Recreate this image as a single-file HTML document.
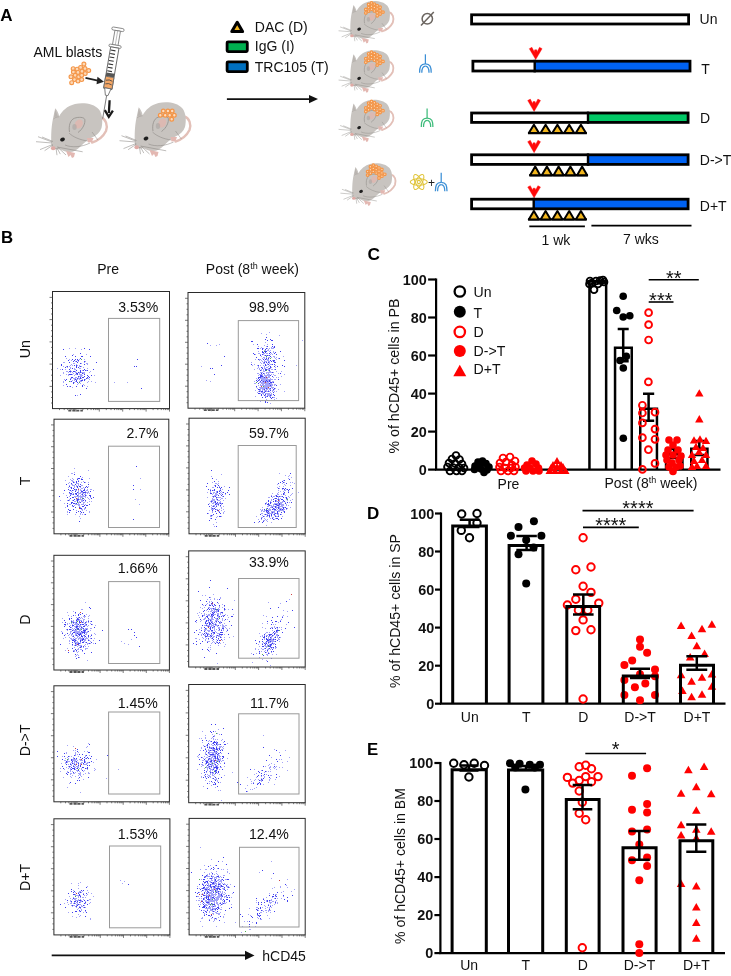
<!DOCTYPE html><html><head><meta charset="utf-8"><style>html,body{margin:0;padding:0;background:#fff;width:731px;height:976px;overflow:hidden}svg{display:block;will-change:transform}svg,svg text{font-family:"Liberation Sans",sans-serif}</style></head><body><svg width="731" height="976" viewBox="0 0 731 976" font-family="Liberation Sans, sans-serif">
<defs><symbol id="mouse" viewBox="0 0 731 976" overflow="visible">
<g>
 <path d="M100.5,117.5 C106,119 108,125 106,131 C103,137 97,141 92,142.5" fill="none" stroke="#e3c0b8" stroke-width="2.4" stroke-linecap="round"/>
 <path d="M53,118.5 L55.2,108.3 C57,110 58.5,113 59.2,116.3 C62,111 67,106 75,104 C84,102.3 94,103.8 99,109.5 C102.5,114 103,122 101.5,128 C100,132 97,135.5 92,137.5 C88,139.5 85,142 81,146 C77,150 73,152.5 68,152 C64,151.5 62,150 60,149.3 C56,149.5 53,149.5 51.8,147.5 C50.8,140 51,128 53,118.5 Z" fill="#c8c4c0"/>
 <path d="M55.2,109.5 L54.2,117 L57.8,116.5 Z" fill="#b9b4b0"/>
 <path d="M53.5,119 C55,117.5 57,117 59,116.8" fill="none" stroke="#9a9590" stroke-width="0.5"/>
 <path d="M69.5,132 C68.5,126 70,120 74.5,118.2 C78.5,116.8 84,117 84.8,119.5 C85.5,123 83,129 78,132.5" fill="#c8c4c0" stroke="#8c8884" stroke-width="0.7"/>
 <ellipse cx="78.8" cy="124" rx="3.8" ry="4.8" fill="#dcb9b2" transform="rotate(30 78.8 124)"/>
 <ellipse cx="74.5" cy="127" rx="2.2" ry="3" fill="#aaa5a1" opacity="0.6"/>
 <path d="M69,133 C73,137 80,140 88,141" fill="none" stroke="#8c8884" stroke-width="0.55"/>
 <path d="M65,145 C72,148 82,147 90,143" fill="none" stroke="#8c8884" stroke-width="0.55"/>
 <path d="M92,132 C95,136 97,139 98,140" fill="none" stroke="#8c8884" stroke-width="0.5"/>
 <ellipse cx="62.5" cy="139.5" rx="2.5" ry="1.9" fill="#1e1e1e" transform="rotate(-25 62.5 139.5)"/>
 <ellipse cx="53.2" cy="148.2" rx="2.3" ry="2" fill="#dfaaa5"/>
 <path d="M66,151 l2.5,6 l2,-2 l1.5,3 l2,-1 l1,-4 Z" fill="#e3b8b2"/>
 <path d="M87,138 l1,4.5 l4,-0.5 l1.5,-4 Z" fill="#e3b8b2"/>
 <g stroke="#8a8682" stroke-width="0.55" fill="none">
  <path d="M52,143 L36,141.7"/><path d="M52,142 L38,136.7"/><path d="M52.5,144.5 L40,149.6"/><path d="M53,145 L44.6,150.7"/><path d="M53,141.5 L42,137"/>
  <path d="M57,147 L82.7,151.8"/><path d="M56,148 L57,155.2"/><path d="M57,148 L60.3,154.1"/><path d="M58,147.5 L66,155"/>
 </g>
</g></symbol>
<marker id="ah" viewBox="0 0 10 10" refX="9" refY="5" markerWidth="10" markerHeight="10" markerUnits="userSpaceOnUse" orient="auto"><path d="M0,0 L10,5 L0,10 Z" fill="#111"/></marker>
</defs>
<rect width="731" height="976" fill="#fff"/>
<text x="0.2" y="20.6" font-size="17" text-anchor="start" font-weight="bold" fill="#000" >A</text>
<text x="33.5" y="56.7" font-size="14" text-anchor="start" font-weight="normal" fill="#111" >AML blasts</text>
<use href="#mouse" x="0" y="0"/>
<use href="#mouse" x="83.5" y="-1"/>
<circle cx="163.3" cy="111" r="1.85" fill="#fcdcc0" stroke="#f59546" stroke-width="1.3"/><circle cx="167.9" cy="111" r="1.85" fill="#fcdcc0" stroke="#f59546" stroke-width="1.3"/><circle cx="172.2" cy="111" r="1.85" fill="#fcdcc0" stroke="#f59546" stroke-width="1.3"/><circle cx="160.3" cy="115.3" r="1.85" fill="#fcdcc0" stroke="#f59546" stroke-width="1.3"/><circle cx="165.2" cy="115.3" r="1.85" fill="#fcdcc0" stroke="#f59546" stroke-width="1.3"/><circle cx="169.7" cy="115.3" r="1.85" fill="#fcdcc0" stroke="#f59546" stroke-width="1.3"/><circle cx="174.3" cy="115.3" r="1.85" fill="#fcdcc0" stroke="#f59546" stroke-width="1.3"/><circle cx="171.7" cy="119.2" r="1.85" fill="#fcdcc0" stroke="#f59546" stroke-width="1.3"/>
<circle cx="83.9" cy="64.1" r="1.95" fill="#fcd8b6" stroke="#f4974a" stroke-width="1.15"/><circle cx="73.2" cy="68.7" r="1.95" fill="#fcd8b6" stroke="#f4974a" stroke-width="1.15"/><circle cx="77.1" cy="69.2" r="1.95" fill="#fcd8b6" stroke="#f4974a" stroke-width="1.15"/><circle cx="80.6" cy="67.4" r="1.95" fill="#fcd8b6" stroke="#f4974a" stroke-width="1.15"/><circle cx="85" cy="68.5" r="1.95" fill="#fcd8b6" stroke="#f4974a" stroke-width="1.15"/><circle cx="88.7" cy="70.5" r="1.95" fill="#fcd8b6" stroke="#f4974a" stroke-width="1.15"/><circle cx="73.4" cy="72" r="1.95" fill="#fcd8b6" stroke="#f4974a" stroke-width="1.15"/><circle cx="78" cy="72.4" r="1.95" fill="#fcd8b6" stroke="#f4974a" stroke-width="1.15"/><circle cx="82" cy="71.4" r="1.95" fill="#fcd8b6" stroke="#f4974a" stroke-width="1.15"/><circle cx="85.2" cy="73.5" r="1.95" fill="#fcd8b6" stroke="#f4974a" stroke-width="1.15"/><circle cx="71" cy="76.8" r="1.95" fill="#fcd8b6" stroke="#f4974a" stroke-width="1.15"/><circle cx="75.2" cy="75.3" r="1.95" fill="#fcd8b6" stroke="#f4974a" stroke-width="1.15"/><circle cx="78.7" cy="76.8" r="1.95" fill="#fcd8b6" stroke="#f4974a" stroke-width="1.15"/><circle cx="81.7" cy="75.3" r="1.95" fill="#fcd8b6" stroke="#f4974a" stroke-width="1.15"/><circle cx="74.5" cy="79.5" r="1.95" fill="#fcd8b6" stroke="#f4974a" stroke-width="1.15"/><circle cx="78" cy="81" r="1.95" fill="#fcd8b6" stroke="#f4974a" stroke-width="1.15"/><circle cx="81.7" cy="79.5" r="1.95" fill="#fcd8b6" stroke="#f4974a" stroke-width="1.15"/><circle cx="71.7" cy="82.7" r="1.95" fill="#fcd8b6" stroke="#f4974a" stroke-width="1.15"/>
<g transform="translate(118,29) rotate(9.7)">
 <rect x="-6.2" y="-1.2" width="12.4" height="3" rx="1.5" fill="#fff" stroke="#777" stroke-width="0.8"/>
 <rect x="-2.8" y="1.8" width="5.6" height="14.6" fill="#fff" stroke="#777" stroke-width="0.8"/>
 <line x1="0" y1="2" x2="0" y2="16.4" stroke="#999" stroke-width="0.6"/>
 <rect x="-6.2" y="16.2" width="12.4" height="2.6" rx="1.3" fill="#fff" stroke="#777" stroke-width="0.8"/>
 <rect x="-4.2" y="18.8" width="8.4" height="42" fill="#fff" stroke="#666" stroke-width="0.9"/>
 <g stroke="#333" stroke-width="1.1">
  <line x1="-3.6" y1="22" x2="1.2" y2="22"/><line x1="-3.6" y1="25.5" x2="1.2" y2="25.5"/><line x1="-3.6" y1="29" x2="1.2" y2="29"/>
  <line x1="-3.6" y1="32.5" x2="1.2" y2="32.5"/><line x1="-3.6" y1="36" x2="1.2" y2="36"/><line x1="-3.6" y1="39.5" x2="1.2" y2="39.5"/>
  <line x1="-3.6" y1="43" x2="1.2" y2="43"/>
 </g>
 <rect x="-4.2" y="44.8" width="8.4" height="3.8" fill="#555"/>
 <rect x="-4.2" y="48.6" width="8.4" height="11.6" fill="#f5a766" stroke="#666" stroke-width="0.8"/>
 <path d="M-3.2,52.5 q3.2,-1.6 6.4,0 M-3.2,56.2 q3.2,-1.6 6.4,0" stroke="#444" stroke-width="0.8" fill="none"/>
 <path d="M-3.2,60.2 L-1.3,67.4 L1.3,67.4 L3.2,60.2 Z" fill="#fff" stroke="#666" stroke-width="0.8"/>
 <line x1="0" y1="67.4" x2="0" y2="91" stroke="#777" stroke-width="0.9"/>
</g>
<path d="M85.5,77.8 L99,80.8" stroke="#222" stroke-width="1.8" fill="none"/><path d="M97.5,76.8 L104,81.8 L96.5,84.2 Z" fill="#222"/>
<path d="M109.6,100.2 L108.9,113" stroke="#1a1a1a" stroke-width="2.3"/><path d="M104.8,110.2 L108.8,116.8 L112.9,110.6" stroke="#1a1a1a" stroke-width="2.3" fill="none" stroke-linejoin="miter"/>
<path d="M237.2,22.2 L242.6,31.6 L231.8,31.6 Z" fill="#f2b61d" stroke="#000" stroke-width="3.0" stroke-linejoin="round"/>
<rect x="227.1" y="41.8" width="20.2" height="9.8" fill="#00b050" stroke="#000" stroke-width="2.8" rx="1"/>
<rect x="227.1" y="61.8" width="20.2" height="9.8" fill="#0070c0" stroke="#000" stroke-width="2.8" rx="1"/>
<text x="254.8" y="31.8" font-size="14" text-anchor="start" font-weight="normal" fill="#111" >DAC (D)</text>
<text x="254.8" y="51.4" font-size="14" text-anchor="start" font-weight="normal" fill="#111" >IgG (I)</text>
<text x="254.8" y="72.4" font-size="14" text-anchor="start" font-weight="normal" fill="#111" >TRC105 (T)</text>
<line x1="226.9" y1="99.1" x2="311" y2="99.1" stroke="#111" stroke-width="1.6"/><path d="M309,95 L318,99.1 L309,103.2 Z" fill="#111"/>
<g transform="translate(337.8,0) scale(0.775) translate(-35,-102)"><use href="#mouse"/></g>
<circle cx="365.8" cy="9.4" r="1.3" fill="#fcd9b8" stroke="#f59546" stroke-width="1.2"/><circle cx="365.8" cy="12.9" r="1.3" fill="#fcd9b8" stroke="#f59546" stroke-width="1.2"/><circle cx="368.6" cy="4.5" r="1.3" fill="#fcd9b8" stroke="#f59546" stroke-width="1.2"/><circle cx="368.6" cy="7.6" r="1.3" fill="#fcd9b8" stroke="#f59546" stroke-width="1.2"/><circle cx="368.6" cy="11.1" r="1.3" fill="#fcd9b8" stroke="#f59546" stroke-width="1.2"/><circle cx="371.5" cy="2.9" r="1.3" fill="#fcd9b8" stroke="#f59546" stroke-width="1.2"/><circle cx="371.5" cy="6.2" r="1.3" fill="#fcd9b8" stroke="#f59546" stroke-width="1.2"/><circle cx="371.5" cy="9.2" r="1.3" fill="#fcd9b8" stroke="#f59546" stroke-width="1.2"/><circle cx="374.4" cy="4.1" r="1.3" fill="#fcd9b8" stroke="#f59546" stroke-width="1.2"/><circle cx="374.4" cy="7.4" r="1.3" fill="#fcd9b8" stroke="#f59546" stroke-width="1.2"/><circle cx="374.4" cy="10.9" r="1.3" fill="#fcd9b8" stroke="#f59546" stroke-width="1.2"/><circle cx="377.2" cy="5.7" r="1.3" fill="#fcd9b8" stroke="#f59546" stroke-width="1.2"/><circle cx="377.2" cy="9.0" r="1.3" fill="#fcd9b8" stroke="#f59546" stroke-width="1.2"/><circle cx="377.2" cy="12.7" r="1.3" fill="#fcd9b8" stroke="#f59546" stroke-width="1.2"/><circle cx="377.2" cy="15.8" r="1.3" fill="#fcd9b8" stroke="#f59546" stroke-width="1.2"/><circle cx="380.1" cy="7.2" r="1.3" fill="#fcd9b8" stroke="#f59546" stroke-width="1.2"/><circle cx="380.1" cy="10.7" r="1.3" fill="#fcd9b8" stroke="#f59546" stroke-width="1.2"/><circle cx="380.1" cy="14.0" r="1.3" fill="#fcd9b8" stroke="#f59546" stroke-width="1.2"/><circle cx="383.0" cy="12.1" r="1.3" fill="#fcd9b8" stroke="#f59546" stroke-width="1.2"/>
<g transform="translate(337.8,49.3) scale(0.775) translate(-35,-102)"><use href="#mouse"/></g>
<circle cx="365.8" cy="58.7" r="1.3" fill="#fcd9b8" stroke="#f59546" stroke-width="1.2"/><circle cx="365.8" cy="62.2" r="1.3" fill="#fcd9b8" stroke="#f59546" stroke-width="1.2"/><circle cx="368.6" cy="53.8" r="1.3" fill="#fcd9b8" stroke="#f59546" stroke-width="1.2"/><circle cx="368.6" cy="56.9" r="1.3" fill="#fcd9b8" stroke="#f59546" stroke-width="1.2"/><circle cx="368.6" cy="60.4" r="1.3" fill="#fcd9b8" stroke="#f59546" stroke-width="1.2"/><circle cx="371.5" cy="52.2" r="1.3" fill="#fcd9b8" stroke="#f59546" stroke-width="1.2"/><circle cx="371.5" cy="55.5" r="1.3" fill="#fcd9b8" stroke="#f59546" stroke-width="1.2"/><circle cx="371.5" cy="58.5" r="1.3" fill="#fcd9b8" stroke="#f59546" stroke-width="1.2"/><circle cx="374.4" cy="53.4" r="1.3" fill="#fcd9b8" stroke="#f59546" stroke-width="1.2"/><circle cx="374.4" cy="56.7" r="1.3" fill="#fcd9b8" stroke="#f59546" stroke-width="1.2"/><circle cx="374.4" cy="60.2" r="1.3" fill="#fcd9b8" stroke="#f59546" stroke-width="1.2"/><circle cx="377.2" cy="55.0" r="1.3" fill="#fcd9b8" stroke="#f59546" stroke-width="1.2"/><circle cx="377.2" cy="58.3" r="1.3" fill="#fcd9b8" stroke="#f59546" stroke-width="1.2"/><circle cx="377.2" cy="62.0" r="1.3" fill="#fcd9b8" stroke="#f59546" stroke-width="1.2"/><circle cx="377.2" cy="65.1" r="1.3" fill="#fcd9b8" stroke="#f59546" stroke-width="1.2"/><circle cx="380.1" cy="56.5" r="1.3" fill="#fcd9b8" stroke="#f59546" stroke-width="1.2"/><circle cx="380.1" cy="60.0" r="1.3" fill="#fcd9b8" stroke="#f59546" stroke-width="1.2"/><circle cx="380.1" cy="63.3" r="1.3" fill="#fcd9b8" stroke="#f59546" stroke-width="1.2"/><circle cx="383.0" cy="61.4" r="1.3" fill="#fcd9b8" stroke="#f59546" stroke-width="1.2"/>
<g transform="translate(337.8,98.6) scale(0.775) translate(-35,-102)"><use href="#mouse"/></g>
<circle cx="365.8" cy="108.0" r="1.3" fill="#fcd9b8" stroke="#f59546" stroke-width="1.2"/><circle cx="365.8" cy="111.5" r="1.3" fill="#fcd9b8" stroke="#f59546" stroke-width="1.2"/><circle cx="368.6" cy="103.1" r="1.3" fill="#fcd9b8" stroke="#f59546" stroke-width="1.2"/><circle cx="368.6" cy="106.2" r="1.3" fill="#fcd9b8" stroke="#f59546" stroke-width="1.2"/><circle cx="368.6" cy="109.7" r="1.3" fill="#fcd9b8" stroke="#f59546" stroke-width="1.2"/><circle cx="371.5" cy="101.5" r="1.3" fill="#fcd9b8" stroke="#f59546" stroke-width="1.2"/><circle cx="371.5" cy="104.8" r="1.3" fill="#fcd9b8" stroke="#f59546" stroke-width="1.2"/><circle cx="371.5" cy="107.8" r="1.3" fill="#fcd9b8" stroke="#f59546" stroke-width="1.2"/><circle cx="374.4" cy="102.7" r="1.3" fill="#fcd9b8" stroke="#f59546" stroke-width="1.2"/><circle cx="374.4" cy="106.0" r="1.3" fill="#fcd9b8" stroke="#f59546" stroke-width="1.2"/><circle cx="374.4" cy="109.5" r="1.3" fill="#fcd9b8" stroke="#f59546" stroke-width="1.2"/><circle cx="377.2" cy="104.3" r="1.3" fill="#fcd9b8" stroke="#f59546" stroke-width="1.2"/><circle cx="377.2" cy="107.6" r="1.3" fill="#fcd9b8" stroke="#f59546" stroke-width="1.2"/><circle cx="377.2" cy="111.3" r="1.3" fill="#fcd9b8" stroke="#f59546" stroke-width="1.2"/><circle cx="377.2" cy="114.4" r="1.3" fill="#fcd9b8" stroke="#f59546" stroke-width="1.2"/><circle cx="380.1" cy="105.8" r="1.3" fill="#fcd9b8" stroke="#f59546" stroke-width="1.2"/><circle cx="380.1" cy="109.3" r="1.3" fill="#fcd9b8" stroke="#f59546" stroke-width="1.2"/><circle cx="380.1" cy="112.6" r="1.3" fill="#fcd9b8" stroke="#f59546" stroke-width="1.2"/><circle cx="383.0" cy="110.7" r="1.3" fill="#fcd9b8" stroke="#f59546" stroke-width="1.2"/>
<g transform="translate(339.6,162.2) scale(0.78) translate(-35,-102)"><use href="#mouse"/></g>
<circle cx="367.6" cy="171.6" r="1.3" fill="#fcd9b8" stroke="#f59546" stroke-width="1.2"/><circle cx="367.6" cy="175.1" r="1.3" fill="#fcd9b8" stroke="#f59546" stroke-width="1.2"/><circle cx="370.4" cy="166.7" r="1.3" fill="#fcd9b8" stroke="#f59546" stroke-width="1.2"/><circle cx="370.4" cy="169.8" r="1.3" fill="#fcd9b8" stroke="#f59546" stroke-width="1.2"/><circle cx="370.4" cy="173.3" r="1.3" fill="#fcd9b8" stroke="#f59546" stroke-width="1.2"/><circle cx="373.3" cy="165.1" r="1.3" fill="#fcd9b8" stroke="#f59546" stroke-width="1.2"/><circle cx="373.3" cy="168.4" r="1.3" fill="#fcd9b8" stroke="#f59546" stroke-width="1.2"/><circle cx="373.3" cy="171.4" r="1.3" fill="#fcd9b8" stroke="#f59546" stroke-width="1.2"/><circle cx="376.2" cy="166.3" r="1.3" fill="#fcd9b8" stroke="#f59546" stroke-width="1.2"/><circle cx="376.2" cy="169.6" r="1.3" fill="#fcd9b8" stroke="#f59546" stroke-width="1.2"/><circle cx="376.2" cy="173.1" r="1.3" fill="#fcd9b8" stroke="#f59546" stroke-width="1.2"/><circle cx="379.0" cy="167.9" r="1.3" fill="#fcd9b8" stroke="#f59546" stroke-width="1.2"/><circle cx="379.0" cy="171.2" r="1.3" fill="#fcd9b8" stroke="#f59546" stroke-width="1.2"/><circle cx="379.0" cy="174.9" r="1.3" fill="#fcd9b8" stroke="#f59546" stroke-width="1.2"/><circle cx="379.0" cy="178.0" r="1.3" fill="#fcd9b8" stroke="#f59546" stroke-width="1.2"/><circle cx="381.9" cy="169.4" r="1.3" fill="#fcd9b8" stroke="#f59546" stroke-width="1.2"/><circle cx="381.9" cy="172.9" r="1.3" fill="#fcd9b8" stroke="#f59546" stroke-width="1.2"/><circle cx="381.9" cy="176.2" r="1.3" fill="#fcd9b8" stroke="#f59546" stroke-width="1.2"/><circle cx="384.8" cy="174.3" r="1.3" fill="#fcd9b8" stroke="#f59546" stroke-width="1.2"/>
<g stroke="#6b6560" stroke-width="1.5" fill="none"><circle cx="427.3" cy="18.8" r="5.2"/><line x1="421" y1="25.5" x2="433.8" y2="12"/></g>
<g fill="none" stroke="#3b8fd6" stroke-width="1.25"><path d="M425.4,54.3 V64.1"/><path d="M425.4,63.9 C420.59999999999997,63.9 419.59999999999997,66.8 419.59999999999997,72.8"/><path d="M425.4,66.2 C422.5,66.3 421.79999999999995,68.3 421.79999999999995,72.8"/><path d="M425.4,63.9 C430.2,63.9 431.2,66.8 431.2,72.8"/><path d="M425.4,66.2 C428.29999999999995,66.3 429.0,68.3 429.0,72.8"/></g>
<g fill="none" stroke="#3dbb7a" stroke-width="1.25"><path d="M427.1,108.5 V118.3"/><path d="M427.1,118.1 C422.3,118.1 421.3,121.0 421.3,127.0"/><path d="M427.1,120.4 C424.20000000000005,120.5 423.5,122.5 423.5,127.0"/><path d="M427.1,118.1 C431.90000000000003,118.1 432.90000000000003,121.0 432.90000000000003,127.0"/><path d="M427.1,120.4 C430.0,120.5 430.70000000000005,122.5 430.70000000000005,127.0"/></g>
<g fill="none" stroke="#3b8fd6" stroke-width="1.25"><path d="M441.2,172.8 V182.60000000000002"/><path d="M441.2,182.4 C436.4,182.4 435.4,185.3 435.4,191.3"/><path d="M441.2,184.70000000000002 C438.3,184.8 437.59999999999997,186.8 437.59999999999997,191.3"/><path d="M441.2,182.4 C446.0,182.4 447.0,185.3 447.0,191.3"/><path d="M441.2,184.70000000000002 C444.09999999999997,184.8 444.8,186.8 444.8,191.3"/></g>
<g fill="none" stroke="#e0c43a" stroke-width="1.1"><ellipse cx="418.8" cy="182" rx="8.5" ry="3.3"/><ellipse cx="418.8" cy="182" rx="8.5" ry="3.3" transform="rotate(60 418.8 182)"/><ellipse cx="418.8" cy="182" rx="8.5" ry="3.3" transform="rotate(-60 418.8 182)"/><circle cx="418.8" cy="182" r="1.6"/></g>
<text x="431.5" y="186.5" font-size="12" text-anchor="middle" font-weight="normal" fill="#222" font-weight="bold">+</text>
<rect x="471.59999999999997" y="14.8" width="217.0" height="9.2" fill="none" stroke="#000" stroke-width="2.8"/>
<path d="M535.7,59.6 L529.3000000000001,48.7 L531.9000000000001,47.3 L534.2,51.7 L534.7,49.8 L536.7,49.8 L537.2,51.7 L539.5,47.3 L542.1,48.7 Z" fill="#ff0a0a" stroke="#ff0a0a" stroke-width="0.4" stroke-linejoin="round"/>
<rect x="534.7" y="61.199999999999996" width="155.29999999999995" height="9.800000000000008" fill="#0062f2"/>
<rect x="472.9" y="61.199999999999996" width="217.09999999999997" height="9.800000000000008" fill="none" stroke="#000" stroke-width="2.8"/>
<line x1="534.7" y1="59.8" x2="534.7" y2="72.4" stroke="#000" stroke-width="2.4"/>
<path d="M534.1,111.5 L527.7,100.5 L530.3000000000001,99.1 L532.6,103.5 L533.1,101.6 L535.1,101.6 L535.6,103.5 L537.9,99.1 L540.5,100.5 Z" fill="#ff0a0a" stroke="#ff0a0a" stroke-width="0.4" stroke-linejoin="round"/>
<rect x="588" y="113.0" width="100.10000000000002" height="9.400000000000002" fill="#00c865"/>
<rect x="471.59999999999997" y="113.0" width="216.5" height="9.400000000000002" fill="none" stroke="#000" stroke-width="2.8"/>
<line x1="588" y1="111.6" x2="588" y2="123.8" stroke="#000" stroke-width="2.4"/>
<path d="M528,133.10000000000002 L586.8,133.10000000000002" stroke="#000" stroke-width="2.4"/><path d="M533.9,124.7 L539.0,133.10000000000002 L528.8,133.10000000000002 Z" fill="#f2b61d" stroke="#000" stroke-width="2" stroke-linejoin="round"/><path d="M545.6,124.7 L550.7,133.10000000000002 L540.6,133.10000000000002 Z" fill="#f2b61d" stroke="#000" stroke-width="2" stroke-linejoin="round"/><path d="M557.4,124.7 L562.5,133.10000000000002 L552.3,133.10000000000002 Z" fill="#f2b61d" stroke="#000" stroke-width="2" stroke-linejoin="round"/><path d="M569.2,124.7 L574.2,133.10000000000002 L564.1,133.10000000000002 Z" fill="#f2b61d" stroke="#000" stroke-width="2" stroke-linejoin="round"/><path d="M580.9,124.7 L586.0,133.10000000000002 L575.8,133.10000000000002 Z" fill="#f2b61d" stroke="#000" stroke-width="2" stroke-linejoin="round"/>
<path d="M534.1,152.7 L527.7,141.7 L530.3000000000001,140.3 L532.6,144.7 L533.1,142.8 L535.1,142.8 L535.6,144.7 L537.9,140.3 L540.5,141.7 Z" fill="#ff0a0a" stroke="#ff0a0a" stroke-width="0.4" stroke-linejoin="round"/>
<rect x="588" y="154.8" width="100.10000000000002" height="9.600000000000005" fill="#0062f2"/>
<rect x="471.59999999999997" y="154.8" width="216.5" height="9.600000000000005" fill="none" stroke="#000" stroke-width="2.8"/>
<line x1="588" y1="153.4" x2="588" y2="165.8" stroke="#000" stroke-width="2.4"/>
<path d="M529.3,175.20000000000002 L588,175.20000000000002" stroke="#000" stroke-width="2.4"/><path d="M535.2,166.5 L540.2,175.20000000000002 L530.1,175.20000000000002 Z" fill="#f2b61d" stroke="#000" stroke-width="2" stroke-linejoin="round"/><path d="M546.9,166.5 L552.0,175.20000000000002 L541.8,175.20000000000002 Z" fill="#f2b61d" stroke="#000" stroke-width="2" stroke-linejoin="round"/><path d="M558.6,166.5 L563.7,175.20000000000002 L553.6,175.20000000000002 Z" fill="#f2b61d" stroke="#000" stroke-width="2" stroke-linejoin="round"/><path d="M570.4,166.5 L575.5,175.20000000000002 L565.3,175.20000000000002 Z" fill="#f2b61d" stroke="#000" stroke-width="2" stroke-linejoin="round"/><path d="M582.1,166.5 L587.2,175.20000000000002 L577.1,175.20000000000002 Z" fill="#f2b61d" stroke="#000" stroke-width="2" stroke-linejoin="round"/>
<path d="M534.1,197.8 L527.7,187.1 L530.3000000000001,185.70000000000002 L532.6,190.1 L533.1,188.20000000000002 L535.1,188.20000000000002 L535.6,190.1 L537.9,185.70000000000002 L540.5,187.1 Z" fill="#ff0a0a" stroke="#ff0a0a" stroke-width="0.4" stroke-linejoin="round"/>
<rect x="533.7" y="199.20000000000002" width="154.39999999999998" height="9.599999999999977" fill="#0062f2"/>
<rect x="471.59999999999997" y="199.20000000000002" width="216.5" height="9.599999999999977" fill="none" stroke="#000" stroke-width="2.8"/>
<line x1="533.7" y1="197.8" x2="533.7" y2="210.2" stroke="#000" stroke-width="2.4"/>
<path d="M528,219.4 L586.8,219.4" stroke="#000" stroke-width="2.4"/><path d="M533.9,211 L539.0,219.4 L528.8,219.4 Z" fill="#f2b61d" stroke="#000" stroke-width="2" stroke-linejoin="round"/><path d="M545.6,211 L550.7,219.4 L540.6,219.4 Z" fill="#f2b61d" stroke="#000" stroke-width="2" stroke-linejoin="round"/><path d="M557.4,211 L562.5,219.4 L552.3,219.4 Z" fill="#f2b61d" stroke="#000" stroke-width="2" stroke-linejoin="round"/><path d="M569.2,211 L574.2,219.4 L564.1,219.4 Z" fill="#f2b61d" stroke="#000" stroke-width="2" stroke-linejoin="round"/><path d="M580.9,211 L586.0,219.4 L575.8,219.4 Z" fill="#f2b61d" stroke="#000" stroke-width="2" stroke-linejoin="round"/>
<text x="699.6" y="23.7" font-size="14" text-anchor="start" font-weight="normal" fill="#111" >Un</text>
<text x="701.3" y="73.5" font-size="14" text-anchor="start" font-weight="normal" fill="#111" >T</text>
<text x="700" y="123" font-size="14" text-anchor="start" font-weight="normal" fill="#111" >D</text>
<text x="699.8" y="165.4" font-size="14" text-anchor="start" font-weight="normal" fill="#111" >D-&gt;T</text>
<text x="699.8" y="211.3" font-size="14" text-anchor="start" font-weight="normal" fill="#111" >D+T</text>
<line x1="529.3" y1="226.4" x2="584.9" y2="226.4" stroke="#000" stroke-width="1.8" />
<line x1="591.4" y1="225.7" x2="691.5" y2="225.7" stroke="#000" stroke-width="1.8" />
<text x="541.5" y="244.5" font-size="14" text-anchor="start" font-weight="normal" fill="#111" >1 wk</text>
<text x="623" y="244.3" font-size="14" text-anchor="start" font-weight="normal" fill="#111" >7 wks</text>
<text x="0.9" y="243.0" font-size="16.8" text-anchor="start" font-weight="bold" fill="#000" >B</text>
<text x="97.2" y="273.8" font-size="14" text-anchor="start" font-weight="normal" fill="#111" >Pre</text>
<text x="205.8" y="273.8" font-size="14" fill="#111">Post (8<tspan font-size="9" dy="-5">th</tspan><tspan dy="5"> week)</tspan></text>
<text x="0" y="0" font-size="14.2" fill="#111" text-anchor="middle" transform="translate(29.5 349.3) rotate(-90)">Un</text>
<text x="0" y="0" font-size="14.2" fill="#111" text-anchor="middle" transform="translate(29.5 481) rotate(-90)">T</text>
<text x="0" y="0" font-size="14.2" fill="#111" text-anchor="middle" transform="translate(29.5 619.5) rotate(-90)">D</text>
<text x="0" y="0" font-size="14.2" fill="#111" text-anchor="middle" transform="translate(29.5 740.4) rotate(-90)">D-&gt;T</text>
<text x="0" y="0" font-size="14.2" fill="#111" text-anchor="middle" transform="translate(29.5 877.4) rotate(-90)">D+T</text>
<path d="M84,376h1v1h-1zM84,374h1v1h-1zM65,380h1v1h-1zM65,356h1v1h-1zM80,366h1v1h-1zM74,371h1v1h-1zM73,383h1v1h-1zM71,374h1v1h-1zM62,369h1v1h-1zM76,365h1v1h-1zM80,371h1v1h-1zM66,379h1v1h-1zM87,375h1v1h-1zM73,361h1v1h-1zM87,377h1v1h-1zM63,349h1v1h-1zM78,376h1v1h-1zM80,377h1v1h-1zM66,384h1v1h-1zM83,377h1v1h-1zM82,356h1v1h-1zM67,386h1v1h-1zM80,371h1v1h-1zM77,382h1v1h-1zM72,368h1v1h-1zM84,380h1v1h-1zM82,377h1v1h-1zM91,375h1v1h-1zM76,380h1v1h-1zM89,349h1v1h-1zM69,374h1v1h-1zM78,367h1v1h-1zM73,371h1v1h-1zM84,361h1v1h-1zM76,381h1v1h-1zM82,385h1v1h-1zM84,348h1v1h-1zM75,374h1v1h-1zM82,373h1v1h-1zM76,386h1v1h-1zM84,369h1v1h-1zM96,362h1v1h-1zM83,370h1v1h-1zM77,378h1v1h-1zM77,362h1v1h-1zM82,386h1v1h-1zM70,386h1v1h-1zM83,370h1v1h-1zM76,367h1v1h-1zM87,370h1v1h-1zM71,381h1v1h-1zM77,373h1v1h-1zM77,384h1v1h-1zM76,381h1v1h-1zM68,372h1v1h-1zM73,382h1v1h-1zM65,367h1v1h-1zM84,379h1v1h-1zM72,355h1v1h-1zM61,364h1v1h-1zM81,375h1v1h-1zM86,378h1v1h-1zM80,353h1v1h-1zM90,356h1v1h-1zM80,394h1v1h-1zM70,371h1v1h-1zM76,370h1v1h-1zM69,369h1v1h-1zM88,376h1v1h-1zM76,377h1v1h-1zM86,388h1v1h-1zM67,366h1v1h-1zM68,360h1v1h-1zM70,374h1v1h-1zM61,365h1v1h-1zM76,377h1v1h-1zM81,374h1v1h-1zM76,373h1v1h-1zM76,361h1v1h-1zM80,370h1v1h-1zM80,363h1v1h-1zM70,379h1v1h-1zM74,360h1v1h-1zM71,377h1v1h-1zM88,381h1v1h-1zM75,379h1v1h-1zM81,380h1v1h-1zM75,395h1v1h-1zM85,370h1v1h-1zM82,377h1v1h-1zM78,372h1v1h-1zM77,359h1v1h-1zM72,377h1v1h-1zM80,372h1v1h-1zM75,359h1v1h-1zM89,377h1v1h-1zM84,364h1v1h-1zM75,356h1v1h-1zM82,380h1v1h-1zM81,356h1v1h-1zM72,359h1v1h-1zM77,374h1v1h-1zM69,362h1v1h-1zM80,358h1v1h-1zM75,369h1v1h-1zM76,365h1v1h-1zM76,366h1v1h-1zM78,360h1v1h-1zM75,369h1v1h-1zM80,378h1v1h-1zM75,371h1v1h-1zM74,365h1v1h-1zM69,371h1v1h-1zM93,369h1v1h-1zM137,359h1v1h-1zM136,366h1v1h-1zM134,366h1v1h-1zM141,388h1v1h-1z" fill="#4040f0"/>
<path d="M75,377h1v1h-1zM75,369h1v1h-1zM70,370h1v1h-1zM79,374h1v1h-1zM80,376h1v1h-1zM70,368h1v1h-1zM79,372h1v1h-1zM79,376h1v1h-1zM72,387h1v1h-1zM80,383h1v1h-1zM72,365h1v1h-1zM81,374h1v1h-1zM73,363h1v1h-1zM79,359h1v1h-1zM77,384h1v1h-1zM81,381h1v1h-1zM77,360h1v1h-1zM81,366h1v1h-1zM70,367h1v1h-1zM86,354h1v1h-1zM66,374h1v1h-1zM79,365h1v1h-1zM84,373h1v1h-1zM88,378h1v1h-1zM63,366h1v1h-1zM75,381h1v1h-1zM79,378h1v1h-1zM84,372h1v1h-1zM70,381h1v1h-1zM87,368h1v1h-1zM67,371h1v1h-1zM75,369h1v1h-1zM86,363h1v1h-1zM85,361h1v1h-1zM71,378h1v1h-1zM79,373h1v1h-1zM78,377h1v1h-1zM75,374h1v1h-1zM81,372h1v1h-1zM74,369h1v1h-1zM74,375h1v1h-1zM79,374h1v1h-1zM73,378h1v1h-1zM94,375h1v1h-1zM75,371h1v1h-1zM57,368h1v1h-1zM65,369h1v1h-1zM74,378h1v1h-1zM84,359h1v1h-1zM78,383h1v1h-1zM78,378h1v1h-1zM66,358h1v1h-1zM81,363h1v1h-1zM69,359h1v1h-1zM85,379h1v1h-1zM87,364h1v1h-1zM63,385h1v1h-1zM79,376h1v1h-1zM87,363h1v1h-1zM84,385h1v1h-1zM86,370h1v1h-1zM60,369h1v1h-1zM64,379h1v1h-1zM79,366h1v1h-1zM76,379h1v1h-1zM87,386h1v1h-1zM72,380h1v1h-1zM63,362h1v1h-1zM63,382h1v1h-1zM75,372h1v1h-1zM72,374h1v1h-1zM89,372h1v1h-1zM80,381h1v1h-1zM75,361h1v1h-1zM77,379h1v1h-1zM78,361h1v1h-1zM66,366h1v1h-1zM83,367h1v1h-1zM70,365h1v1h-1zM66,371h1v1h-1zM68,375h1v1h-1zM60,375h1v1h-1zM82,370h1v1h-1zM79,368h1v1h-1zM82,379h1v1h-1zM83,384h1v1h-1zM74,368h1v1h-1zM70,378h1v1h-1zM90,371h1v1h-1zM80,380h1v1h-1zM79,379h1v1h-1zM83,373h1v1h-1zM71,364h1v1h-1zM95,382h1v1h-1zM81,349h1v1h-1zM81,376h1v1h-1zM63,381h1v1h-1zM79,366h1v1h-1zM79,374h1v1h-1zM74,363h1v1h-1zM91,381h1v1h-1zM88,381h1v1h-1zM89,379h1v1h-1zM71,371h1v1h-1zM80,375h1v1h-1zM74,379h1v1h-1zM77,365h1v1h-1zM72,372h1v1h-1zM76,374h1v1h-1zM79,381h1v1h-1zM63,373h1v1h-1zM69,348h1v1h-1zM69,386h1v1h-1zM80,374h1v1h-1zM87,378h1v1h-1zM76,377h1v1h-1zM84,362h1v1h-1zM74,382h1v1h-1zM77,395h1v1h-1zM74,380h1v1h-1zM83,372h1v1h-1zM68,374h1v1h-1zM82,372h1v1h-1zM75,378h1v1h-1zM69,366h1v1h-1zM73,354h1v1h-1zM63,372h1v1h-1zM64,362h1v1h-1zM81,378h1v1h-1zM87,382h1v1h-1zM67,367h1v1h-1zM76,372h1v1h-1zM68,372h1v1h-1zM81,375h1v1h-1zM75,348h1v1h-1zM70,372h1v1h-1zM66,374h1v1h-1zM76,364h1v1h-1zM82,375h1v1h-1zM71,360h1v1h-1zM73,373h1v1h-1zM80,368h1v1h-1zM84,373h1v1h-1zM114,382h1v1h-1zM127,382h1v1h-1z" fill="#a4a4f8"/>
<path d="M69,381h1v1h-1zM81,359h1v1h-1zM79,382h1v1h-1z" fill="#50b050"/>
<rect x="52.5" y="291.5" width="117.0" height="117.10000000000002" fill="none" stroke="#2a2a2a" stroke-width="1.0"/>
<rect x="108.5" y="318.4" width="51.19999999999999" height="83.0" fill="none" stroke="#9a9a9a" stroke-width="1"/>
<text x="158.2" y="312.2" font-size="14.1" text-anchor="end" font-weight="normal" fill="#111" >3.53%</text>
<path d="M49.5,297.4h3M51.0,302.9h1.5M51.0,308.5h1.5M51.0,314.0h1.5M49.5,319.6h3M51.0,325.2h1.5M51.0,330.7h1.5M51.0,336.3h1.5M49.5,341.9h3M51.0,347.4h1.5M51.0,353.0h1.5M51.0,358.5h1.5M49.5,364.1h3M51.0,369.7h1.5M51.0,375.2h1.5M51.0,380.8h1.5M49.5,386.4h3M51.0,391.9h1.5M51.0,397.5h1.5M51.0,403.0h1.5M75.9,408.6v3M59.5,408.6v1.5M64.2,408.6v1.5M67.7,408.6v1.5M70.1,408.6v1.5M71.9,408.6v1.5M73.6,408.6v1.5M74.7,408.6v1.5M99.3,408.6v3M82.9,408.6v1.5M87.6,408.6v1.5M91.1,408.6v1.5M93.5,408.6v1.5M95.3,408.6v1.5M97.0,408.6v1.5M98.1,408.6v1.5M122.7,408.6v3M106.3,408.6v1.5M111.0,408.6v1.5M114.5,408.6v1.5M116.9,408.6v1.5M118.7,408.6v1.5M120.4,408.6v1.5M121.5,408.6v1.5M146.1,408.6v3M129.7,408.6v1.5M134.4,408.6v1.5M137.9,408.6v1.5M140.3,408.6v1.5M142.1,408.6v1.5M143.8,408.6v1.5M144.9,408.6v1.5M169.5,408.6v3M153.1,408.6v1.5M157.8,408.6v1.5M161.3,408.6v1.5M163.7,408.6v1.5M165.5,408.6v1.5M167.2,408.6v1.5M168.3,408.6v1.5" stroke="#444" stroke-width="0.7" fill="none"/>
<path d="M68.3,410.6h14.6" stroke="#555" stroke-width="1.8" stroke-dasharray="3,1"/>
<path d="M263,379h1v1h-1zM264,389h1v1h-1zM266,380h1v1h-1zM260,401h1v1h-1zM275,369h1v1h-1zM270,388h1v1h-1zM261,375h1v1h-1zM264,380h1v1h-1zM262,380h1v1h-1zM265,378h1v1h-1zM262,380h1v1h-1zM267,383h1v1h-1zM258,385h1v1h-1zM267,386h1v1h-1zM271,382h1v1h-1zM269,380h1v1h-1zM267,385h1v1h-1zM264,380h1v1h-1zM259,389h1v1h-1zM260,370h1v1h-1zM256,380h1v1h-1zM264,383h1v1h-1zM269,380h1v1h-1zM270,378h1v1h-1zM259,391h1v1h-1zM266,390h1v1h-1zM271,386h1v1h-1zM261,377h1v1h-1zM263,378h1v1h-1zM264,383h1v1h-1zM265,370h1v1h-1zM274,364h1v1h-1zM265,369h1v1h-1zM266,389h1v1h-1zM271,398h1v1h-1zM262,368h1v1h-1zM269,377h1v1h-1zM263,384h1v1h-1zM265,381h1v1h-1zM260,377h1v1h-1zM265,383h1v1h-1zM257,381h1v1h-1zM269,383h1v1h-1zM263,380h1v1h-1zM272,397h1v1h-1zM266,387h1v1h-1zM272,384h1v1h-1zM272,379h1v1h-1zM268,382h1v1h-1zM267,393h1v1h-1zM267,379h1v1h-1zM264,389h1v1h-1zM274,388h1v1h-1zM266,387h1v1h-1zM266,385h1v1h-1zM263,369h1v1h-1zM261,380h1v1h-1zM267,374h1v1h-1zM265,394h1v1h-1zM268,382h1v1h-1zM265,365h1v1h-1zM266,399h1v1h-1zM262,380h1v1h-1zM267,393h1v1h-1zM273,394h1v1h-1zM263,373h1v1h-1zM273,390h1v1h-1zM266,384h1v1h-1zM270,372h1v1h-1zM266,378h1v1h-1zM264,390h1v1h-1zM269,384h1v1h-1zM264,395h1v1h-1zM270,381h1v1h-1zM270,385h1v1h-1zM267,381h1v1h-1zM267,379h1v1h-1zM266,362h1v1h-1zM270,384h1v1h-1zM258,383h1v1h-1zM267,391h1v1h-1zM261,394h1v1h-1zM265,401h1v1h-1zM264,375h1v1h-1zM270,390h1v1h-1zM263,370h1v1h-1zM263,378h1v1h-1zM267,381h1v1h-1zM259,393h1v1h-1zM266,391h1v1h-1zM266,372h1v1h-1zM270,395h1v1h-1zM266,373h1v1h-1zM268,380h1v1h-1zM263,369h1v1h-1zM263,382h1v1h-1zM264,387h1v1h-1zM274,395h1v1h-1zM273,382h1v1h-1zM268,386h1v1h-1zM269,391h1v1h-1zM269,379h1v1h-1zM259,377h1v1h-1zM264,368h1v1h-1zM269,374h1v1h-1zM263,393h1v1h-1zM267,372h1v1h-1zM263,379h1v1h-1zM261,386h1v1h-1zM262,377h1v1h-1zM261,367h1v1h-1zM266,376h1v1h-1zM259,379h1v1h-1zM260,382h1v1h-1zM268,375h1v1h-1zM260,390h1v1h-1zM270,384h1v1h-1zM264,388h1v1h-1zM270,380h1v1h-1zM267,396h1v1h-1zM260,384h1v1h-1zM267,402h1v1h-1zM262,391h1v1h-1zM269,371h1v1h-1zM262,384h1v1h-1zM267,377h1v1h-1zM267,378h1v1h-1zM263,385h1v1h-1zM260,387h1v1h-1zM273,389h1v1h-1zM272,376h1v1h-1zM276,385h1v1h-1zM264,378h1v1h-1zM264,386h1v1h-1zM272,376h1v1h-1zM270,397h1v1h-1zM261,369h1v1h-1zM259,380h1v1h-1zM263,384h1v1h-1zM261,383h1v1h-1zM262,367h1v1h-1zM261,395h1v1h-1zM258,380h1v1h-1zM267,378h1v1h-1zM264,389h1v1h-1zM264,392h1v1h-1zM261,373h1v1h-1zM269,377h1v1h-1zM269,385h1v1h-1zM268,383h1v1h-1zM270,378h1v1h-1zM261,376h1v1h-1zM266,380h1v1h-1zM266,385h1v1h-1zM263,377h1v1h-1zM262,381h1v1h-1zM271,387h1v1h-1zM270,382h1v1h-1zM264,385h1v1h-1zM264,379h1v1h-1zM266,384h1v1h-1zM272,384h1v1h-1zM273,397h1v1h-1zM273,392h1v1h-1zM265,378h1v1h-1zM272,388h1v1h-1zM265,380h1v1h-1zM261,374h1v1h-1zM256,386h1v1h-1zM265,402h1v1h-1zM266,380h1v1h-1zM262,390h1v1h-1zM262,391h1v1h-1zM260,391h1v1h-1zM273,382h1v1h-1zM263,379h1v1h-1zM258,389h1v1h-1zM261,391h1v1h-1zM269,383h1v1h-1zM261,387h1v1h-1zM262,380h1v1h-1zM258,378h1v1h-1zM268,395h1v1h-1zM261,376h1v1h-1zM263,384h1v1h-1zM267,375h1v1h-1zM266,378h1v1h-1zM258,375h1v1h-1zM270,390h1v1h-1zM266,379h1v1h-1zM265,383h1v1h-1zM269,377h1v1h-1zM272,379h1v1h-1zM270,366h1v1h-1zM266,388h1v1h-1zM258,377h1v1h-1zM265,393h1v1h-1zM278,379h1v1h-1zM267,372h1v1h-1zM258,365h1v1h-1zM264,377h1v1h-1zM260,376h1v1h-1zM268,387h1v1h-1zM265,387h1v1h-1zM273,394h1v1h-1zM268,376h1v1h-1zM265,391h1v1h-1zM267,388h1v1h-1zM268,391h1v1h-1zM262,397h1v1h-1zM264,378h1v1h-1zM265,388h1v1h-1zM266,383h1v1h-1zM267,377h1v1h-1zM267,391h1v1h-1zM263,381h1v1h-1zM269,395h1v1h-1zM267,385h1v1h-1zM260,375h1v1h-1zM266,386h1v1h-1zM267,377h1v1h-1zM265,383h1v1h-1zM271,384h1v1h-1zM269,370h1v1h-1zM273,389h1v1h-1zM268,382h1v1h-1zM265,397h1v1h-1zM267,384h1v1h-1zM265,378h1v1h-1zM271,385h1v1h-1zM265,380h1v1h-1zM270,375h1v1h-1zM262,388h1v1h-1zM258,393h1v1h-1zM269,368h1v1h-1zM269,370h1v1h-1zM263,377h1v1h-1zM261,386h1v1h-1zM271,379h1v1h-1zM263,378h1v1h-1zM264,377h1v1h-1zM269,381h1v1h-1zM263,393h1v1h-1zM270,390h1v1h-1zM265,391h1v1h-1zM267,386h1v1h-1zM270,388h1v1h-1zM265,361h1v1h-1zM256,357h1v1h-1zM267,355h1v1h-1zM271,372h1v1h-1zM265,349h1v1h-1zM271,361h1v1h-1zM251,364h1v1h-1zM265,351h1v1h-1zM266,369h1v1h-1zM253,353h1v1h-1zM268,357h1v1h-1zM274,346h1v1h-1zM262,348h1v1h-1zM270,339h1v1h-1zM275,352h1v1h-1zM267,346h1v1h-1zM264,351h1v1h-1zM262,354h1v1h-1zM260,381h1v1h-1zM265,361h1v1h-1zM268,360h1v1h-1zM265,364h1v1h-1zM272,354h1v1h-1zM270,360h1v1h-1zM273,361h1v1h-1zM266,351h1v1h-1zM265,352h1v1h-1zM265,355h1v1h-1zM271,340h1v1h-1zM270,367h1v1h-1zM265,350h1v1h-1zM263,352h1v1h-1zM263,359h1v1h-1zM254,354h1v1h-1zM268,358h1v1h-1zM268,349h1v1h-1zM271,357h1v1h-1zM273,361h1v1h-1zM266,337h1v1h-1zM274,366h1v1h-1zM274,362h1v1h-1zM274,361h1v1h-1zM274,353h1v1h-1zM268,364h1v1h-1zM267,367h1v1h-1zM267,363h1v1h-1zM270,352h1v1h-1zM267,340h1v1h-1zM262,351h1v1h-1zM257,348h1v1h-1zM270,375h1v1h-1zM269,353h1v1h-1zM279,358h1v1h-1zM270,360h1v1h-1zM265,339h1v1h-1zM268,357h1v1h-1zM265,359h1v1h-1zM284,360h1v1h-1zM272,364h1v1h-1zM274,347h1v1h-1zM273,360h1v1h-1zM266,358h1v1h-1zM260,354h1v1h-1zM268,357h1v1h-1zM257,344h1v1h-1zM264,362h1v1h-1zM272,344h1v1h-1zM268,355h1v1h-1zM265,350h1v1h-1zM252,341h1v1h-1zM266,348h1v1h-1zM260,355h1v1h-1zM262,349h1v1h-1zM266,377h1v1h-1zM258,359h1v1h-1zM268,362h1v1h-1zM260,355h1v1h-1zM272,372h1v1h-1zM272,340h1v1h-1zM262,376h1v1h-1zM270,356h1v1h-1zM270,375h1v1h-1zM272,346h1v1h-1zM262,352h1v1h-1zM277,366h1v1h-1zM269,391h1v1h-1zM276,354h1v1h-1zM274,360h1v1h-1zM251,341h1v1h-1zM284,366h1v1h-1zM269,355h1v1h-1zM263,385h1v1h-1zM280,351h1v1h-1zM280,373h1v1h-1zM282,365h1v1h-1zM258,348h1v1h-1zM275,362h1v1h-1zM214,374h1v1h-1zM210,368h1v1h-1zM224,356h1v1h-1zM212,368h1v1h-1zM207,343h1v1h-1zM221,365h1v1h-1z" fill="#4040f0"/>
<path d="M268,372h1v1h-1zM269,372h1v1h-1zM268,395h1v1h-1zM266,386h1v1h-1zM271,385h1v1h-1zM265,386h1v1h-1zM264,375h1v1h-1zM266,391h1v1h-1zM265,368h1v1h-1zM267,378h1v1h-1zM266,389h1v1h-1zM270,396h1v1h-1zM255,396h1v1h-1zM262,382h1v1h-1zM268,373h1v1h-1zM271,369h1v1h-1zM269,385h1v1h-1zM269,377h1v1h-1zM265,396h1v1h-1zM267,382h1v1h-1zM261,377h1v1h-1zM266,390h1v1h-1zM267,387h1v1h-1zM265,393h1v1h-1zM264,379h1v1h-1zM269,384h1v1h-1zM264,379h1v1h-1zM264,388h1v1h-1zM267,374h1v1h-1zM261,388h1v1h-1zM269,393h1v1h-1zM263,386h1v1h-1zM262,400h1v1h-1zM263,392h1v1h-1zM263,389h1v1h-1zM275,365h1v1h-1zM264,387h1v1h-1zM265,378h1v1h-1zM275,384h1v1h-1zM258,391h1v1h-1zM263,384h1v1h-1zM271,384h1v1h-1zM270,389h1v1h-1zM262,389h1v1h-1zM268,388h1v1h-1zM269,389h1v1h-1zM269,365h1v1h-1zM266,387h1v1h-1zM276,377h1v1h-1zM267,379h1v1h-1zM266,378h1v1h-1zM267,379h1v1h-1zM261,382h1v1h-1zM268,387h1v1h-1zM264,367h1v1h-1zM266,381h1v1h-1zM267,380h1v1h-1zM261,387h1v1h-1zM260,387h1v1h-1zM261,385h1v1h-1zM271,385h1v1h-1zM262,383h1v1h-1zM263,384h1v1h-1zM264,383h1v1h-1zM269,389h1v1h-1zM269,388h1v1h-1zM264,381h1v1h-1zM264,383h1v1h-1zM261,382h1v1h-1zM268,382h1v1h-1zM270,403h1v1h-1zM255,383h1v1h-1zM268,381h1v1h-1zM268,366h1v1h-1zM269,386h1v1h-1zM266,379h1v1h-1zM268,380h1v1h-1zM266,379h1v1h-1zM262,382h1v1h-1zM268,384h1v1h-1zM269,395h1v1h-1zM269,389h1v1h-1zM263,377h1v1h-1zM258,375h1v1h-1zM276,398h1v1h-1zM263,377h1v1h-1zM271,383h1v1h-1zM261,392h1v1h-1zM267,378h1v1h-1zM258,366h1v1h-1zM268,384h1v1h-1zM262,377h1v1h-1zM265,382h1v1h-1zM269,388h1v1h-1zM266,393h1v1h-1zM262,377h1v1h-1zM270,389h1v1h-1zM271,374h1v1h-1zM263,386h1v1h-1zM262,380h1v1h-1zM263,376h1v1h-1zM266,399h1v1h-1zM270,386h1v1h-1zM272,388h1v1h-1zM271,384h1v1h-1zM259,382h1v1h-1zM267,372h1v1h-1zM274,384h1v1h-1zM265,375h1v1h-1zM265,375h1v1h-1zM262,393h1v1h-1zM265,377h1v1h-1zM266,382h1v1h-1zM265,388h1v1h-1zM265,376h1v1h-1zM268,379h1v1h-1zM261,374h1v1h-1zM260,365h1v1h-1zM258,385h1v1h-1zM263,369h1v1h-1zM259,387h1v1h-1zM274,391h1v1h-1zM266,384h1v1h-1zM264,386h1v1h-1zM267,383h1v1h-1zM263,371h1v1h-1zM271,387h1v1h-1zM260,393h1v1h-1zM269,369h1v1h-1zM274,375h1v1h-1zM268,386h1v1h-1zM260,372h1v1h-1zM263,378h1v1h-1zM267,385h1v1h-1zM263,388h1v1h-1zM269,375h1v1h-1zM259,387h1v1h-1zM262,392h1v1h-1zM263,382h1v1h-1zM268,383h1v1h-1zM265,388h1v1h-1zM272,390h1v1h-1zM262,387h1v1h-1zM266,382h1v1h-1zM266,389h1v1h-1zM270,378h1v1h-1zM259,380h1v1h-1zM263,388h1v1h-1zM262,372h1v1h-1zM268,390h1v1h-1zM269,389h1v1h-1zM267,389h1v1h-1zM267,387h1v1h-1zM266,390h1v1h-1zM272,382h1v1h-1zM269,388h1v1h-1zM265,375h1v1h-1zM267,393h1v1h-1zM265,384h1v1h-1zM260,390h1v1h-1zM264,375h1v1h-1zM262,377h1v1h-1zM260,389h1v1h-1zM263,385h1v1h-1zM266,372h1v1h-1zM263,376h1v1h-1zM269,388h1v1h-1zM268,393h1v1h-1zM254,383h1v1h-1zM271,386h1v1h-1zM269,394h1v1h-1zM270,380h1v1h-1zM270,389h1v1h-1zM257,392h1v1h-1zM267,394h1v1h-1zM274,399h1v1h-1zM265,385h1v1h-1zM265,390h1v1h-1zM260,388h1v1h-1zM267,395h1v1h-1zM263,386h1v1h-1zM271,393h1v1h-1zM268,373h1v1h-1zM263,382h1v1h-1zM263,387h1v1h-1zM272,384h1v1h-1zM265,388h1v1h-1zM264,391h1v1h-1zM263,377h1v1h-1zM273,377h1v1h-1zM271,394h1v1h-1zM265,382h1v1h-1zM267,386h1v1h-1zM266,396h1v1h-1zM260,374h1v1h-1zM267,369h1v1h-1zM268,394h1v1h-1zM257,388h1v1h-1zM262,381h1v1h-1zM266,387h1v1h-1zM264,383h1v1h-1zM257,379h1v1h-1zM274,384h1v1h-1zM260,384h1v1h-1zM261,370h1v1h-1zM262,388h1v1h-1zM267,382h1v1h-1zM262,375h1v1h-1zM271,385h1v1h-1zM260,401h1v1h-1zM261,382h1v1h-1zM266,382h1v1h-1zM264,373h1v1h-1zM262,389h1v1h-1zM267,391h1v1h-1zM261,387h1v1h-1zM268,376h1v1h-1zM262,383h1v1h-1zM254,381h1v1h-1zM261,372h1v1h-1zM272,387h1v1h-1zM271,379h1v1h-1zM261,372h1v1h-1zM264,373h1v1h-1zM264,378h1v1h-1zM263,376h1v1h-1zM267,367h1v1h-1zM269,371h1v1h-1zM264,390h1v1h-1zM264,390h1v1h-1zM259,369h1v1h-1zM268,384h1v1h-1zM268,374h1v1h-1zM269,379h1v1h-1zM270,384h1v1h-1zM257,373h1v1h-1zM266,384h1v1h-1zM265,377h1v1h-1zM264,368h1v1h-1zM272,385h1v1h-1zM263,394h1v1h-1zM270,396h1v1h-1zM264,383h1v1h-1zM260,387h1v1h-1zM270,394h1v1h-1zM263,377h1v1h-1zM272,379h1v1h-1zM262,380h1v1h-1zM276,391h1v1h-1zM263,369h1v1h-1zM263,392h1v1h-1zM258,373h1v1h-1zM267,377h1v1h-1zM269,369h1v1h-1zM273,387h1v1h-1zM269,369h1v1h-1zM270,372h1v1h-1zM262,367h1v1h-1zM264,386h1v1h-1zM268,381h1v1h-1zM265,395h1v1h-1zM272,391h1v1h-1zM269,377h1v1h-1zM260,384h1v1h-1zM267,388h1v1h-1zM268,394h1v1h-1zM262,390h1v1h-1zM261,388h1v1h-1zM266,385h1v1h-1zM270,383h1v1h-1zM262,379h1v1h-1zM278,389h1v1h-1zM263,380h1v1h-1zM266,375h1v1h-1zM265,385h1v1h-1zM267,384h1v1h-1zM256,387h1v1h-1zM267,382h1v1h-1zM262,378h1v1h-1zM273,397h1v1h-1zM259,368h1v1h-1zM263,376h1v1h-1zM263,384h1v1h-1zM266,385h1v1h-1zM265,390h1v1h-1zM273,374h1v1h-1zM266,381h1v1h-1zM268,385h1v1h-1zM266,365h1v1h-1zM263,383h1v1h-1zM266,387h1v1h-1zM265,382h1v1h-1zM265,378h1v1h-1zM275,388h1v1h-1zM267,400h1v1h-1zM271,372h1v1h-1zM268,390h1v1h-1zM269,374h1v1h-1zM262,385h1v1h-1zM264,380h1v1h-1zM266,386h1v1h-1zM264,374h1v1h-1zM271,395h1v1h-1zM268,377h1v1h-1zM274,397h1v1h-1zM274,389h1v1h-1zM262,384h1v1h-1zM257,400h1v1h-1zM275,384h1v1h-1zM268,387h1v1h-1zM267,382h1v1h-1zM265,377h1v1h-1zM266,383h1v1h-1zM268,375h1v1h-1zM268,380h1v1h-1zM265,378h1v1h-1zM262,377h1v1h-1zM265,388h1v1h-1zM268,374h1v1h-1zM265,375h1v1h-1zM265,380h1v1h-1zM270,371h1v1h-1zM270,379h1v1h-1zM268,379h1v1h-1zM269,396h1v1h-1zM264,386h1v1h-1zM262,390h1v1h-1zM270,392h1v1h-1zM263,393h1v1h-1zM260,391h1v1h-1zM270,381h1v1h-1zM260,382h1v1h-1zM265,383h1v1h-1zM266,386h1v1h-1zM261,378h1v1h-1zM268,384h1v1h-1zM261,383h1v1h-1zM265,387h1v1h-1zM264,385h1v1h-1zM259,374h1v1h-1zM269,391h1v1h-1zM265,379h1v1h-1zM270,368h1v1h-1zM268,376h1v1h-1zM266,376h1v1h-1zM266,390h1v1h-1zM255,390h1v1h-1zM270,386h1v1h-1zM275,379h1v1h-1zM266,391h1v1h-1zM264,382h1v1h-1zM268,384h1v1h-1zM273,381h1v1h-1zM269,369h1v1h-1zM266,382h1v1h-1zM256,378h1v1h-1zM263,379h1v1h-1zM261,382h1v1h-1zM270,381h1v1h-1zM263,382h1v1h-1zM264,390h1v1h-1zM265,388h1v1h-1zM269,375h1v1h-1zM260,378h1v1h-1zM267,394h1v1h-1zM260,385h1v1h-1zM268,357h1v1h-1zM264,358h1v1h-1zM270,350h1v1h-1zM272,348h1v1h-1zM269,376h1v1h-1zM270,364h1v1h-1zM260,359h1v1h-1zM263,362h1v1h-1zM274,357h1v1h-1zM266,359h1v1h-1zM270,358h1v1h-1zM266,367h1v1h-1zM258,351h1v1h-1zM264,363h1v1h-1zM264,371h1v1h-1zM272,360h1v1h-1zM262,358h1v1h-1zM267,364h1v1h-1zM278,358h1v1h-1zM261,360h1v1h-1zM263,354h1v1h-1zM266,346h1v1h-1zM273,351h1v1h-1zM253,344h1v1h-1zM261,369h1v1h-1zM257,365h1v1h-1zM271,353h1v1h-1zM267,359h1v1h-1zM269,363h1v1h-1zM264,361h1v1h-1zM258,346h1v1h-1zM266,334h1v1h-1zM265,361h1v1h-1zM273,348h1v1h-1zM270,354h1v1h-1zM263,370h1v1h-1zM264,350h1v1h-1zM272,360h1v1h-1zM274,361h1v1h-1zM264,366h1v1h-1zM264,353h1v1h-1zM266,357h1v1h-1zM273,352h1v1h-1zM269,357h1v1h-1zM260,348h1v1h-1zM266,361h1v1h-1zM269,361h1v1h-1zM267,353h1v1h-1zM269,348h1v1h-1zM260,354h1v1h-1zM259,353h1v1h-1zM267,350h1v1h-1zM265,342h1v1h-1zM268,349h1v1h-1zM269,332h1v1h-1zM259,359h1v1h-1zM267,353h1v1h-1zM270,358h1v1h-1zM264,355h1v1h-1zM272,354h1v1h-1zM269,362h1v1h-1zM268,359h1v1h-1zM268,350h1v1h-1zM273,356h1v1h-1zM269,348h1v1h-1zM262,374h1v1h-1zM258,367h1v1h-1zM257,368h1v1h-1zM267,344h1v1h-1zM262,385h1v1h-1zM268,368h1v1h-1zM273,372h1v1h-1zM266,365h1v1h-1zM255,359h1v1h-1zM271,369h1v1h-1zM261,369h1v1h-1zM279,335h1v1h-1zM267,359h1v1h-1zM278,373h1v1h-1zM272,369h1v1h-1zM266,353h1v1h-1zM260,374h1v1h-1zM268,373h1v1h-1zM266,355h1v1h-1zM263,357h1v1h-1zM262,374h1v1h-1zM271,364h1v1h-1zM271,369h1v1h-1zM272,369h1v1h-1zM264,357h1v1h-1zM263,365h1v1h-1zM271,353h1v1h-1zM270,380h1v1h-1zM267,363h1v1h-1zM267,360h1v1h-1zM261,363h1v1h-1zM264,345h1v1h-1zM261,333h1v1h-1zM273,347h1v1h-1zM263,362h1v1h-1zM254,369h1v1h-1zM263,363h1v1h-1zM264,360h1v1h-1zM267,369h1v1h-1zM268,361h1v1h-1zM263,348h1v1h-1zM261,379h1v1h-1zM276,357h1v1h-1zM271,348h1v1h-1zM268,370h1v1h-1zM267,348h1v1h-1zM265,350h1v1h-1zM268,369h1v1h-1zM261,356h1v1h-1zM273,352h1v1h-1zM269,351h1v1h-1zM259,360h1v1h-1zM268,355h1v1h-1zM259,369h1v1h-1zM270,364h1v1h-1zM274,379h1v1h-1zM281,371h1v1h-1zM271,347h1v1h-1zM274,356h1v1h-1zM302,340h1v1h-1zM283,356h1v1h-1zM276,359h1v1h-1zM252,365h1v1h-1zM259,390h1v1h-1zM267,375h1v1h-1zM272,385h1v1h-1zM280,384h1v1h-1zM271,367h1v1h-1zM268,360h1v1h-1zM255,354h1v1h-1zM263,353h1v1h-1zM284,374h1v1h-1zM281,376h1v1h-1zM266,373h1v1h-1zM284,391h1v1h-1zM275,367h1v1h-1zM276,357h1v1h-1zM260,362h1v1h-1zM278,377h1v1h-1zM262,361h1v1h-1zM275,375h1v1h-1zM274,369h1v1h-1zM273,390h1v1h-1zM251,362h1v1h-1zM296,365h1v1h-1zM254,364h1v1h-1zM258,353h1v1h-1zM274,385h1v1h-1zM276,371h1v1h-1zM264,361h1v1h-1zM275,358h1v1h-1zM266,357h1v1h-1zM271,357h1v1h-1zM272,381h1v1h-1zM261,347h1v1h-1zM201,366h1v1h-1zM210,345h1v1h-1zM206,380h1v1h-1zM216,345h1v1h-1zM210,381h1v1h-1zM219,344h1v1h-1z" fill="#a4a4f8"/>
<path d="M266,377h1v1h-1zM268,387h1v1h-1zM265,382h1v1h-1zM261,386h1v1h-1z" fill="#d04040"/>
<path d="M266,370h1v1h-1zM256,382h1v1h-1zM263,386h1v1h-1zM266,356h1v1h-1zM264,351h1v1h-1zM270,358h1v1h-1z" fill="#50b050"/>
<rect x="188" y="292.5" width="116.80000000000001" height="115.69999999999999" fill="none" stroke="#2a2a2a" stroke-width="1.0"/>
<rect x="238.3" y="320.6" width="60.30000000000001" height="80.0" fill="none" stroke="#9a9a9a" stroke-width="1"/>
<text x="289.0" y="311.7" font-size="14.1" text-anchor="end" font-weight="normal" fill="#111" >98.9%</text>
<path d="M185,298.3h3M186.5,303.8h1.5M186.5,309.3h1.5M186.5,314.8h1.5M185,320.3h3M186.5,325.8h1.5M186.5,331.3h1.5M186.5,336.8h1.5M185,342.3h3M186.5,347.7h1.5M186.5,353.2h1.5M186.5,358.7h1.5M185,364.2h3M186.5,369.7h1.5M186.5,375.2h1.5M186.5,380.7h1.5M185,386.2h3M186.5,391.7h1.5M186.5,397.2h1.5M186.5,402.7h1.5M211.4,408.2v3M195.0,408.2v1.5M199.7,408.2v1.5M203.2,408.2v1.5M205.5,408.2v1.5M207.4,408.2v1.5M209.0,408.2v1.5M210.2,408.2v1.5M234.7,408.2v3M218.4,408.2v1.5M223.0,408.2v1.5M226.5,408.2v1.5M228.9,408.2v1.5M230.7,408.2v1.5M232.4,408.2v1.5M233.6,408.2v1.5M258.1,408.2v3M241.7,408.2v1.5M246.4,408.2v1.5M249.9,408.2v1.5M252.2,408.2v1.5M254.1,408.2v1.5M255.7,408.2v1.5M256.9,408.2v1.5M281.4,408.2v3M265.1,408.2v1.5M269.8,408.2v1.5M273.3,408.2v1.5M275.6,408.2v1.5M277.5,408.2v1.5M279.1,408.2v1.5M280.3,408.2v1.5M304.8,408.2v3M288.4,408.2v1.5M293.1,408.2v1.5M296.6,408.2v1.5M299.0,408.2v1.5M300.8,408.2v1.5M302.5,408.2v1.5M303.6,408.2v1.5" stroke="#444" stroke-width="0.7" fill="none"/>
<path d="M203.8,410.2h14.6" stroke="#555" stroke-width="1.8" stroke-dasharray="3,1"/>
<path d="M80,502h1v1h-1zM83,493h1v1h-1zM72,502h1v1h-1zM85,492h1v1h-1zM82,495h1v1h-1zM80,490h1v1h-1zM85,514h1v1h-1zM68,500h1v1h-1zM78,503h1v1h-1zM68,509h1v1h-1zM85,487h1v1h-1zM72,505h1v1h-1zM74,489h1v1h-1zM84,489h1v1h-1zM75,484h1v1h-1zM69,500h1v1h-1zM86,486h1v1h-1zM78,493h1v1h-1zM77,499h1v1h-1zM76,494h1v1h-1zM78,488h1v1h-1zM87,493h1v1h-1zM76,482h1v1h-1zM77,500h1v1h-1zM81,491h1v1h-1zM76,503h1v1h-1zM80,502h1v1h-1zM73,500h1v1h-1zM83,493h1v1h-1zM71,483h1v1h-1zM77,500h1v1h-1zM70,490h1v1h-1zM69,510h1v1h-1zM73,494h1v1h-1zM69,512h1v1h-1zM85,500h1v1h-1zM78,481h1v1h-1zM79,486h1v1h-1zM87,490h1v1h-1zM80,487h1v1h-1zM83,512h1v1h-1zM71,493h1v1h-1zM72,502h1v1h-1zM76,512h1v1h-1zM83,506h1v1h-1zM88,484h1v1h-1zM78,478h1v1h-1zM84,505h1v1h-1zM77,501h1v1h-1zM78,499h1v1h-1zM77,492h1v1h-1zM84,499h1v1h-1zM68,489h1v1h-1zM74,489h1v1h-1zM80,511h1v1h-1zM81,512h1v1h-1zM76,496h1v1h-1zM89,495h1v1h-1zM75,496h1v1h-1zM69,499h1v1h-1zM74,499h1v1h-1zM81,508h1v1h-1zM80,502h1v1h-1zM76,481h1v1h-1zM90,496h1v1h-1zM78,503h1v1h-1zM82,506h1v1h-1zM82,497h1v1h-1zM70,510h1v1h-1zM80,486h1v1h-1zM80,498h1v1h-1zM87,487h1v1h-1zM67,497h1v1h-1zM79,502h1v1h-1zM91,498h1v1h-1zM74,474h1v1h-1zM77,486h1v1h-1zM82,479h1v1h-1zM83,498h1v1h-1zM83,490h1v1h-1zM84,502h1v1h-1zM70,498h1v1h-1zM76,496h1v1h-1zM78,492h1v1h-1zM72,497h1v1h-1zM76,485h1v1h-1zM76,493h1v1h-1zM79,521h1v1h-1zM81,479h1v1h-1zM71,484h1v1h-1zM80,508h1v1h-1zM87,493h1v1h-1zM86,505h1v1h-1zM88,482h1v1h-1zM90,495h1v1h-1zM68,489h1v1h-1zM70,495h1v1h-1zM69,486h1v1h-1zM80,496h1v1h-1zM76,490h1v1h-1zM78,490h1v1h-1zM75,484h1v1h-1zM71,502h1v1h-1zM77,479h1v1h-1zM67,503h1v1h-1zM83,500h1v1h-1zM78,488h1v1h-1zM73,509h1v1h-1zM80,476h1v1h-1zM80,484h1v1h-1zM87,505h1v1h-1zM75,507h1v1h-1zM73,503h1v1h-1zM69,492h1v1h-1zM64,490h1v1h-1zM67,506h1v1h-1zM82,498h1v1h-1zM74,482h1v1h-1zM71,488h1v1h-1zM79,496h1v1h-1zM78,491h1v1h-1zM83,492h1v1h-1zM79,493h1v1h-1zM76,489h1v1h-1zM81,492h1v1h-1zM74,485h1v1h-1zM72,506h1v1h-1zM85,507h1v1h-1zM78,511h1v1h-1zM72,480h1v1h-1zM78,497h1v1h-1zM75,497h1v1h-1zM80,498h1v1h-1zM74,503h1v1h-1zM80,492h1v1h-1zM84,490h1v1h-1zM73,497h1v1h-1zM80,508h1v1h-1zM71,487h1v1h-1zM79,507h1v1h-1zM80,493h1v1h-1zM66,484h1v1h-1zM71,503h1v1h-1zM93,497h1v1h-1zM59,496h1v1h-1zM75,491h1v1h-1zM85,495h1v1h-1zM73,506h1v1h-1zM81,500h1v1h-1zM70,493h1v1h-1zM72,490h1v1h-1zM67,505h1v1h-1zM84,492h1v1h-1zM90,491h1v1h-1zM84,482h1v1h-1zM74,486h1v1h-1zM81,499h1v1h-1zM82,494h1v1h-1zM89,504h1v1h-1zM75,493h1v1h-1zM76,489h1v1h-1zM78,504h1v1h-1zM69,493h1v1h-1zM73,488h1v1h-1zM82,493h1v1h-1zM82,491h1v1h-1zM77,487h1v1h-1zM73,482h1v1h-1zM73,500h1v1h-1zM85,491h1v1h-1zM77,495h1v1h-1zM79,478h1v1h-1zM81,509h1v1h-1zM133,489h1v1h-1zM136,466h1v1h-1zM133,485h1v1h-1zM133,519h1v1h-1z" fill="#4040f0"/>
<path d="M82,499h1v1h-1zM76,486h1v1h-1zM72,481h1v1h-1zM85,504h1v1h-1zM89,499h1v1h-1zM80,514h1v1h-1zM68,483h1v1h-1zM78,495h1v1h-1zM84,502h1v1h-1zM83,487h1v1h-1zM85,501h1v1h-1zM64,503h1v1h-1zM69,493h1v1h-1zM67,514h1v1h-1zM89,501h1v1h-1zM90,489h1v1h-1zM83,504h1v1h-1zM70,504h1v1h-1zM75,489h1v1h-1zM72,492h1v1h-1zM81,482h1v1h-1zM67,511h1v1h-1zM68,487h1v1h-1zM80,487h1v1h-1zM83,503h1v1h-1zM78,490h1v1h-1zM77,498h1v1h-1zM93,490h1v1h-1zM82,493h1v1h-1zM75,504h1v1h-1zM82,499h1v1h-1zM82,514h1v1h-1zM67,500h1v1h-1zM78,485h1v1h-1zM78,488h1v1h-1zM75,490h1v1h-1zM78,492h1v1h-1zM82,485h1v1h-1zM78,502h1v1h-1zM69,504h1v1h-1zM82,500h1v1h-1zM68,476h1v1h-1zM72,485h1v1h-1zM75,503h1v1h-1zM72,478h1v1h-1zM82,501h1v1h-1zM84,499h1v1h-1zM66,495h1v1h-1zM74,485h1v1h-1zM81,478h1v1h-1zM78,484h1v1h-1zM71,480h1v1h-1zM76,483h1v1h-1zM78,498h1v1h-1zM69,485h1v1h-1zM71,473h1v1h-1zM80,487h1v1h-1zM81,488h1v1h-1zM86,495h1v1h-1zM81,501h1v1h-1zM89,499h1v1h-1zM81,499h1v1h-1zM74,505h1v1h-1zM81,485h1v1h-1zM88,498h1v1h-1zM85,497h1v1h-1zM71,484h1v1h-1zM73,490h1v1h-1zM70,494h1v1h-1zM80,513h1v1h-1zM83,493h1v1h-1zM80,495h1v1h-1zM76,485h1v1h-1zM76,500h1v1h-1zM81,509h1v1h-1zM72,494h1v1h-1zM69,490h1v1h-1zM88,492h1v1h-1zM91,489h1v1h-1zM82,497h1v1h-1zM77,483h1v1h-1zM83,495h1v1h-1zM84,508h1v1h-1zM60,500h1v1h-1zM80,498h1v1h-1zM71,491h1v1h-1zM84,494h1v1h-1zM79,496h1v1h-1zM80,507h1v1h-1zM77,496h1v1h-1zM83,481h1v1h-1zM76,496h1v1h-1zM84,488h1v1h-1zM69,482h1v1h-1zM69,496h1v1h-1zM79,501h1v1h-1zM81,499h1v1h-1zM72,484h1v1h-1zM74,482h1v1h-1zM86,510h1v1h-1zM79,504h1v1h-1zM81,496h1v1h-1zM89,493h1v1h-1zM80,496h1v1h-1zM79,516h1v1h-1zM86,490h1v1h-1zM82,492h1v1h-1zM79,496h1v1h-1zM78,491h1v1h-1zM82,510h1v1h-1zM82,504h1v1h-1zM73,493h1v1h-1zM77,496h1v1h-1zM78,493h1v1h-1zM83,481h1v1h-1zM75,496h1v1h-1zM75,497h1v1h-1zM85,493h1v1h-1zM77,478h1v1h-1zM80,492h1v1h-1zM75,501h1v1h-1zM65,480h1v1h-1zM78,494h1v1h-1zM81,497h1v1h-1zM71,494h1v1h-1zM70,479h1v1h-1zM88,486h1v1h-1zM78,493h1v1h-1zM73,479h1v1h-1zM84,514h1v1h-1zM69,500h1v1h-1zM78,503h1v1h-1zM75,501h1v1h-1zM87,493h1v1h-1zM87,489h1v1h-1zM88,470h1v1h-1zM78,504h1v1h-1zM82,496h1v1h-1zM88,482h1v1h-1zM81,494h1v1h-1zM72,473h1v1h-1zM75,514h1v1h-1zM83,496h1v1h-1zM74,468h1v1h-1zM81,504h1v1h-1zM78,480h1v1h-1zM78,502h1v1h-1zM87,497h1v1h-1zM79,502h1v1h-1zM86,492h1v1h-1zM70,487h1v1h-1zM77,498h1v1h-1zM76,499h1v1h-1zM83,502h1v1h-1zM87,492h1v1h-1zM76,510h1v1h-1zM79,499h1v1h-1zM76,504h1v1h-1zM76,486h1v1h-1zM80,489h1v1h-1zM85,482h1v1h-1zM82,495h1v1h-1zM74,485h1v1h-1zM76,490h1v1h-1zM80,498h1v1h-1zM84,494h1v1h-1zM78,498h1v1h-1zM90,497h1v1h-1zM89,512h1v1h-1zM78,504h1v1h-1zM75,494h1v1h-1zM77,504h1v1h-1zM79,501h1v1h-1zM74,501h1v1h-1zM74,487h1v1h-1zM79,493h1v1h-1zM69,499h1v1h-1zM74,496h1v1h-1zM79,505h1v1h-1zM80,497h1v1h-1zM85,491h1v1h-1zM78,483h1v1h-1zM89,478h1v1h-1zM85,491h1v1h-1zM78,500h1v1h-1zM81,490h1v1h-1zM82,499h1v1h-1zM78,491h1v1h-1zM76,498h1v1h-1zM85,494h1v1h-1zM78,496h1v1h-1zM74,486h1v1h-1zM85,497h1v1h-1zM78,484h1v1h-1zM79,506h1v1h-1zM85,508h1v1h-1zM87,490h1v1h-1zM82,488h1v1h-1zM81,492h1v1h-1zM78,497h1v1h-1zM75,497h1v1h-1zM82,509h1v1h-1zM79,505h1v1h-1zM63,493h1v1h-1zM80,490h1v1h-1zM80,518h1v1h-1zM75,503h1v1h-1zM84,496h1v1h-1zM84,509h1v1h-1zM86,495h1v1h-1zM78,505h1v1h-1zM69,490h1v1h-1zM89,511h1v1h-1zM80,499h1v1h-1zM80,493h1v1h-1zM78,500h1v1h-1zM72,480h1v1h-1zM83,493h1v1h-1zM91,501h1v1h-1zM79,496h1v1h-1zM72,500h1v1h-1zM74,485h1v1h-1zM82,477h1v1h-1zM87,502h1v1h-1zM73,481h1v1h-1zM85,496h1v1h-1zM74,482h1v1h-1zM76,490h1v1h-1zM88,491h1v1h-1zM79,504h1v1h-1zM65,507h1v1h-1zM81,500h1v1h-1zM79,502h1v1h-1zM81,496h1v1h-1zM85,501h1v1h-1zM72,506h1v1h-1zM75,497h1v1h-1zM76,490h1v1h-1zM67,512h1v1h-1zM73,485h1v1h-1zM74,472h1v1h-1zM77,502h1v1h-1zM140,489h1v1h-1zM135,499h1v1h-1zM139,504h1v1h-1zM140,478h1v1h-1z" fill="#a4a4f8"/>
<path d="M79,508h1v1h-1zM76,498h1v1h-1zM78,489h1v1h-1z" fill="#d04040"/>
<path d="M82,498h1v1h-1zM77,502h1v1h-1z" fill="#50b050"/>
<rect x="54" y="419.2" width="114.80000000000001" height="114.59999999999997" fill="none" stroke="#2a2a2a" stroke-width="1.0"/>
<rect x="108.5" y="446.2" width="51.0" height="81.30000000000001" fill="none" stroke="#9a9a9a" stroke-width="1"/>
<text x="158.5" y="437.7" font-size="14.1" text-anchor="end" font-weight="normal" fill="#111" >2.7%</text>
<path d="M51,424.9h3M52.5,430.4h1.5M52.5,435.8h1.5M52.5,441.3h1.5M51,446.7h3M52.5,452.1h1.5M52.5,457.6h1.5M52.5,463.0h1.5M51,468.5h3M52.5,473.9h1.5M52.5,479.4h1.5M52.5,484.8h1.5M51,490.3h3M52.5,495.7h1.5M52.5,501.1h1.5M52.5,506.6h1.5M51,512.0h3M52.5,517.5h1.5M52.5,522.9h1.5M52.5,528.4h1.5M77.0,533.8v3M60.9,533.8v1.5M65.5,533.8v1.5M68.9,533.8v1.5M71.2,533.8v1.5M73.1,533.8v1.5M74.7,533.8v1.5M75.8,533.8v1.5M99.9,533.8v3M83.8,533.8v1.5M88.4,533.8v1.5M91.9,533.8v1.5M94.2,533.8v1.5M96.0,533.8v1.5M97.6,533.8v1.5M98.8,533.8v1.5M122.9,533.8v3M106.8,533.8v1.5M111.4,533.8v1.5M114.8,533.8v1.5M117.1,533.8v1.5M119.0,533.8v1.5M120.6,533.8v1.5M121.7,533.8v1.5M145.8,533.8v3M129.8,533.8v1.5M134.4,533.8v1.5M137.8,533.8v1.5M140.1,533.8v1.5M141.9,533.8v1.5M143.5,533.8v1.5M144.7,533.8v1.5M168.8,533.8v3M152.7,533.8v1.5M157.3,533.8v1.5M160.8,533.8v1.5M163.1,533.8v1.5M164.9,533.8v1.5M166.5,533.8v1.5M167.7,533.8v1.5" stroke="#444" stroke-width="0.7" fill="none"/>
<path d="M69.5,535.8h14.4" stroke="#555" stroke-width="1.8" stroke-dasharray="3,1"/>
<path d="M212,508h1v1h-1zM217,491h1v1h-1zM213,506h1v1h-1zM219,512h1v1h-1zM219,500h1v1h-1zM214,502h1v1h-1zM215,502h1v1h-1zM221,487h1v1h-1zM207,483h1v1h-1zM215,485h1v1h-1zM209,520h1v1h-1zM216,506h1v1h-1zM229,494h1v1h-1zM216,497h1v1h-1zM209,506h1v1h-1zM220,490h1v1h-1zM214,508h1v1h-1zM223,492h1v1h-1zM218,504h1v1h-1zM217,487h1v1h-1zM223,500h1v1h-1zM207,513h1v1h-1zM225,493h1v1h-1zM222,489h1v1h-1zM213,514h1v1h-1zM216,513h1v1h-1zM220,516h1v1h-1zM220,513h1v1h-1zM208,489h1v1h-1zM212,494h1v1h-1zM216,494h1v1h-1zM219,491h1v1h-1zM215,485h1v1h-1zM216,492h1v1h-1zM210,515h1v1h-1zM229,487h1v1h-1zM208,504h1v1h-1zM215,496h1v1h-1zM216,494h1v1h-1zM215,483h1v1h-1zM211,518h1v1h-1zM215,504h1v1h-1zM217,492h1v1h-1zM218,495h1v1h-1zM221,491h1v1h-1zM223,496h1v1h-1zM213,490h1v1h-1zM218,485h1v1h-1zM219,512h1v1h-1zM211,501h1v1h-1zM210,493h1v1h-1zM219,493h1v1h-1zM227,492h1v1h-1zM213,496h1v1h-1zM219,500h1v1h-1zM212,490h1v1h-1zM222,494h1v1h-1zM220,488h1v1h-1zM213,509h1v1h-1zM216,526h1v1h-1zM214,499h1v1h-1zM212,478h1v1h-1zM216,498h1v1h-1zM219,516h1v1h-1zM215,519h1v1h-1zM212,498h1v1h-1zM212,510h1v1h-1zM228,490h1v1h-1zM215,486h1v1h-1zM216,505h1v1h-1zM210,490h1v1h-1zM211,493h1v1h-1zM217,499h1v1h-1zM217,492h1v1h-1zM220,505h1v1h-1zM217,502h1v1h-1zM216,505h1v1h-1zM219,487h1v1h-1zM220,503h1v1h-1zM214,490h1v1h-1zM216,499h1v1h-1zM211,470h1v1h-1zM220,506h1v1h-1zM214,489h1v1h-1zM217,491h1v1h-1zM223,492h1v1h-1zM214,500h1v1h-1zM214,500h1v1h-1zM206,486h1v1h-1zM222,503h1v1h-1zM217,494h1v1h-1zM215,502h1v1h-1zM220,488h1v1h-1zM217,499h1v1h-1zM211,515h1v1h-1zM221,495h1v1h-1zM215,511h1v1h-1zM215,494h1v1h-1zM217,487h1v1h-1zM215,509h1v1h-1zM214,481h1v1h-1zM217,510h1v1h-1zM216,492h1v1h-1zM216,503h1v1h-1zM215,501h1v1h-1zM267,519h1v1h-1zM270,505h1v1h-1zM270,509h1v1h-1zM261,513h1v1h-1zM279,508h1v1h-1zM287,502h1v1h-1zM271,507h1v1h-1zM275,503h1v1h-1zM283,497h1v1h-1zM268,501h1v1h-1zM280,509h1v1h-1zM277,518h1v1h-1zM271,511h1v1h-1zM277,513h1v1h-1zM266,510h1v1h-1zM260,514h1v1h-1zM291,502h1v1h-1zM275,509h1v1h-1zM275,500h1v1h-1zM269,509h1v1h-1zM264,509h1v1h-1zM262,510h1v1h-1zM268,511h1v1h-1zM271,515h1v1h-1zM274,509h1v1h-1zM279,506h1v1h-1zM259,521h1v1h-1zM266,511h1v1h-1zM277,512h1v1h-1zM274,515h1v1h-1zM263,521h1v1h-1zM275,507h1v1h-1zM267,506h1v1h-1zM279,501h1v1h-1zM271,500h1v1h-1zM268,504h1v1h-1zM272,511h1v1h-1zM271,505h1v1h-1zM290,507h1v1h-1zM267,515h1v1h-1zM281,504h1v1h-1zM265,503h1v1h-1zM262,517h1v1h-1zM266,511h1v1h-1zM272,509h1v1h-1zM277,505h1v1h-1zM278,508h1v1h-1zM277,501h1v1h-1zM275,506h1v1h-1zM269,510h1v1h-1zM286,508h1v1h-1zM279,503h1v1h-1zM290,500h1v1h-1zM273,519h1v1h-1zM270,507h1v1h-1zM285,503h1v1h-1zM277,511h1v1h-1zM270,507h1v1h-1zM267,504h1v1h-1zM268,513h1v1h-1zM270,505h1v1h-1zM281,518h1v1h-1zM273,499h1v1h-1zM271,514h1v1h-1zM276,510h1v1h-1zM281,512h1v1h-1zM276,518h1v1h-1zM274,509h1v1h-1zM284,509h1v1h-1zM266,508h1v1h-1zM274,513h1v1h-1zM281,504h1v1h-1zM284,511h1v1h-1zM262,509h1v1h-1zM286,498h1v1h-1zM269,497h1v1h-1zM267,504h1v1h-1zM282,509h1v1h-1zM276,503h1v1h-1zM268,500h1v1h-1zM269,505h1v1h-1zM261,518h1v1h-1zM273,508h1v1h-1zM272,507h1v1h-1zM267,510h1v1h-1zM289,489h1v1h-1zM274,506h1v1h-1zM282,499h1v1h-1zM274,515h1v1h-1zM275,500h1v1h-1zM269,516h1v1h-1zM276,507h1v1h-1zM265,514h1v1h-1zM281,506h1v1h-1zM275,513h1v1h-1zM279,504h1v1h-1zM267,511h1v1h-1zM278,513h1v1h-1zM272,512h1v1h-1zM284,511h1v1h-1zM278,519h1v1h-1zM276,503h1v1h-1zM289,502h1v1h-1zM275,498h1v1h-1zM283,493h1v1h-1zM268,501h1v1h-1zM284,512h1v1h-1zM270,502h1v1h-1zM275,501h1v1h-1zM276,504h1v1h-1zM279,509h1v1h-1zM285,507h1v1h-1zM283,508h1v1h-1zM281,506h1v1h-1zM271,500h1v1h-1zM279,510h1v1h-1zM272,513h1v1h-1zM281,499h1v1h-1zM267,512h1v1h-1zM290,495h1v1h-1zM265,514h1v1h-1zM278,503h1v1h-1zM268,510h1v1h-1zM283,500h1v1h-1zM279,501h1v1h-1zM282,496h1v1h-1zM278,516h1v1h-1zM274,506h1v1h-1zM279,505h1v1h-1zM284,501h1v1h-1zM267,508h1v1h-1zM282,504h1v1h-1zM269,515h1v1h-1zM269,512h1v1h-1zM271,516h1v1h-1zM254,522h1v1h-1zM269,509h1v1h-1zM278,507h1v1h-1zM268,503h1v1h-1zM262,522h1v1h-1zM277,503h1v1h-1zM283,507h1v1h-1zM269,512h1v1h-1zM273,504h1v1h-1zM278,499h1v1h-1zM269,509h1v1h-1zM264,511h1v1h-1zM276,518h1v1h-1zM283,497h1v1h-1zM273,504h1v1h-1zM275,516h1v1h-1zM275,507h1v1h-1zM275,506h1v1h-1zM267,510h1v1h-1zM277,516h1v1h-1zM272,509h1v1h-1zM275,504h1v1h-1zM275,500h1v1h-1zM263,516h1v1h-1zM271,514h1v1h-1zM273,501h1v1h-1zM280,514h1v1h-1zM283,510h1v1h-1zM286,483h1v1h-1zM292,488h1v1h-1zM286,497h1v1h-1zM278,510h1v1h-1zM283,494h1v1h-1zM275,504h1v1h-1zM274,514h1v1h-1zM290,473h1v1h-1zM283,482h1v1h-1zM278,502h1v1h-1zM278,483h1v1h-1zM280,498h1v1h-1zM282,481h1v1h-1zM277,501h1v1h-1zM276,495h1v1h-1zM284,493h1v1h-1zM284,480h1v1h-1zM282,488h1v1h-1zM289,479h1v1h-1zM278,507h1v1h-1zM270,503h1v1h-1zM278,488h1v1h-1zM271,496h1v1h-1zM283,488h1v1h-1zM276,507h1v1h-1zM284,492h1v1h-1zM288,492h1v1h-1zM279,496h1v1h-1zM278,505h1v1h-1zM272,518h1v1h-1zM282,489h1v1h-1zM285,495h1v1h-1zM285,488h1v1h-1zM281,494h1v1h-1zM276,496h1v1h-1zM280,482h1v1h-1zM276,498h1v1h-1zM288,490h1v1h-1zM277,496h1v1h-1zM287,489h1v1h-1zM276,505h1v1h-1zM284,489h1v1h-1z" fill="#4040f0"/>
<path d="M211,500h1v1h-1zM210,515h1v1h-1zM213,509h1v1h-1zM221,493h1v1h-1zM212,500h1v1h-1zM210,516h1v1h-1zM213,497h1v1h-1zM212,515h1v1h-1zM223,506h1v1h-1zM218,505h1v1h-1zM219,502h1v1h-1zM215,483h1v1h-1zM224,486h1v1h-1zM207,492h1v1h-1zM224,511h1v1h-1zM216,479h1v1h-1zM217,500h1v1h-1zM217,500h1v1h-1zM218,503h1v1h-1zM218,511h1v1h-1zM211,476h1v1h-1zM212,503h1v1h-1zM215,493h1v1h-1zM217,504h1v1h-1zM212,512h1v1h-1zM221,503h1v1h-1zM212,494h1v1h-1zM220,492h1v1h-1zM211,509h1v1h-1zM223,500h1v1h-1zM211,507h1v1h-1zM210,492h1v1h-1zM213,493h1v1h-1zM214,505h1v1h-1zM218,481h1v1h-1zM222,498h1v1h-1zM213,500h1v1h-1zM217,497h1v1h-1zM222,492h1v1h-1zM218,497h1v1h-1zM216,504h1v1h-1zM216,491h1v1h-1zM220,506h1v1h-1zM214,492h1v1h-1zM211,505h1v1h-1zM218,483h1v1h-1zM208,513h1v1h-1zM214,500h1v1h-1zM216,493h1v1h-1zM221,498h1v1h-1zM213,492h1v1h-1zM216,517h1v1h-1zM220,501h1v1h-1zM223,509h1v1h-1zM217,497h1v1h-1zM212,501h1v1h-1zM217,504h1v1h-1zM217,494h1v1h-1zM220,494h1v1h-1zM219,490h1v1h-1zM223,512h1v1h-1zM216,492h1v1h-1zM209,503h1v1h-1zM225,494h1v1h-1zM212,496h1v1h-1zM217,504h1v1h-1zM216,509h1v1h-1zM214,496h1v1h-1zM219,509h1v1h-1zM220,497h1v1h-1zM218,505h1v1h-1zM210,518h1v1h-1zM213,490h1v1h-1zM213,524h1v1h-1zM217,500h1v1h-1zM213,497h1v1h-1zM219,486h1v1h-1zM222,498h1v1h-1zM216,498h1v1h-1zM220,502h1v1h-1zM219,497h1v1h-1zM209,510h1v1h-1zM210,489h1v1h-1zM219,500h1v1h-1zM223,513h1v1h-1zM220,497h1v1h-1zM216,495h1v1h-1zM221,474h1v1h-1zM221,510h1v1h-1zM216,505h1v1h-1zM222,498h1v1h-1zM215,494h1v1h-1zM211,516h1v1h-1zM217,504h1v1h-1zM219,509h1v1h-1zM212,506h1v1h-1zM213,502h1v1h-1zM216,492h1v1h-1zM213,505h1v1h-1zM216,492h1v1h-1zM212,482h1v1h-1zM211,502h1v1h-1zM221,493h1v1h-1zM219,503h1v1h-1zM221,507h1v1h-1zM213,503h1v1h-1zM207,497h1v1h-1zM215,507h1v1h-1zM221,491h1v1h-1zM214,502h1v1h-1zM218,500h1v1h-1zM219,511h1v1h-1zM215,503h1v1h-1zM216,483h1v1h-1zM214,499h1v1h-1zM215,495h1v1h-1zM217,509h1v1h-1zM217,503h1v1h-1zM214,506h1v1h-1zM215,493h1v1h-1zM211,508h1v1h-1zM214,501h1v1h-1zM221,504h1v1h-1zM225,498h1v1h-1zM213,499h1v1h-1zM214,485h1v1h-1zM210,491h1v1h-1zM212,512h1v1h-1zM212,511h1v1h-1zM214,526h1v1h-1zM216,499h1v1h-1zM221,508h1v1h-1zM221,516h1v1h-1zM216,494h1v1h-1zM212,509h1v1h-1zM220,499h1v1h-1zM222,489h1v1h-1zM220,489h1v1h-1zM222,496h1v1h-1zM218,510h1v1h-1zM212,500h1v1h-1zM213,508h1v1h-1zM214,495h1v1h-1zM212,499h1v1h-1zM213,497h1v1h-1zM217,484h1v1h-1zM216,522h1v1h-1zM212,498h1v1h-1zM210,501h1v1h-1zM214,506h1v1h-1zM212,512h1v1h-1zM217,516h1v1h-1zM213,487h1v1h-1zM212,487h1v1h-1zM281,502h1v1h-1zM278,515h1v1h-1zM266,520h1v1h-1zM268,506h1v1h-1zM267,516h1v1h-1zM276,513h1v1h-1zM274,519h1v1h-1zM264,510h1v1h-1zM264,516h1v1h-1zM279,505h1v1h-1zM270,510h1v1h-1zM278,513h1v1h-1zM275,503h1v1h-1zM273,504h1v1h-1zM268,515h1v1h-1zM284,507h1v1h-1zM272,506h1v1h-1zM286,509h1v1h-1zM276,506h1v1h-1zM274,510h1v1h-1zM274,510h1v1h-1zM265,519h1v1h-1zM273,506h1v1h-1zM272,511h1v1h-1zM270,501h1v1h-1zM286,505h1v1h-1zM269,513h1v1h-1zM290,507h1v1h-1zM262,517h1v1h-1zM278,501h1v1h-1zM280,502h1v1h-1zM269,504h1v1h-1zM264,514h1v1h-1zM276,505h1v1h-1zM278,510h1v1h-1zM277,514h1v1h-1zM282,505h1v1h-1zM269,517h1v1h-1zM276,503h1v1h-1zM261,511h1v1h-1zM283,510h1v1h-1zM286,504h1v1h-1zM271,512h1v1h-1zM271,511h1v1h-1zM268,510h1v1h-1zM269,512h1v1h-1zM280,504h1v1h-1zM264,518h1v1h-1zM273,511h1v1h-1zM282,506h1v1h-1zM278,504h1v1h-1zM273,512h1v1h-1zM289,497h1v1h-1zM275,515h1v1h-1zM258,519h1v1h-1zM271,516h1v1h-1zM273,506h1v1h-1zM270,518h1v1h-1zM281,506h1v1h-1zM280,510h1v1h-1zM278,506h1v1h-1zM275,510h1v1h-1zM270,509h1v1h-1zM274,512h1v1h-1zM274,506h1v1h-1zM281,503h1v1h-1zM262,507h1v1h-1zM276,508h1v1h-1zM271,502h1v1h-1zM273,504h1v1h-1zM268,512h1v1h-1zM269,508h1v1h-1zM272,517h1v1h-1zM269,510h1v1h-1zM281,510h1v1h-1zM262,513h1v1h-1zM269,514h1v1h-1zM292,499h1v1h-1zM287,508h1v1h-1zM262,515h1v1h-1zM283,509h1v1h-1zM281,509h1v1h-1zM279,507h1v1h-1zM281,503h1v1h-1zM270,501h1v1h-1zM287,500h1v1h-1zM282,504h1v1h-1zM277,503h1v1h-1zM287,498h1v1h-1zM278,503h1v1h-1zM276,501h1v1h-1zM278,496h1v1h-1zM280,498h1v1h-1zM269,508h1v1h-1zM272,511h1v1h-1zM267,521h1v1h-1zM272,513h1v1h-1zM273,509h1v1h-1zM267,513h1v1h-1zM289,502h1v1h-1zM274,508h1v1h-1zM279,505h1v1h-1zM290,500h1v1h-1zM286,504h1v1h-1zM278,498h1v1h-1zM261,510h1v1h-1zM279,511h1v1h-1zM273,514h1v1h-1zM278,514h1v1h-1zM267,506h1v1h-1zM268,509h1v1h-1zM280,503h1v1h-1zM279,509h1v1h-1zM286,499h1v1h-1zM266,514h1v1h-1zM274,503h1v1h-1zM277,509h1v1h-1zM267,511h1v1h-1zM298,492h1v1h-1zM261,517h1v1h-1zM271,507h1v1h-1zM279,505h1v1h-1zM281,508h1v1h-1zM283,505h1v1h-1zM258,522h1v1h-1zM261,519h1v1h-1zM276,500h1v1h-1zM274,513h1v1h-1zM266,512h1v1h-1zM269,517h1v1h-1zM279,506h1v1h-1zM273,509h1v1h-1zM276,508h1v1h-1zM268,497h1v1h-1zM279,499h1v1h-1zM270,513h1v1h-1zM266,512h1v1h-1zM284,509h1v1h-1zM277,499h1v1h-1zM282,510h1v1h-1zM271,522h1v1h-1zM281,494h1v1h-1zM269,513h1v1h-1zM283,501h1v1h-1zM282,501h1v1h-1zM271,495h1v1h-1zM268,506h1v1h-1zM268,505h1v1h-1zM269,497h1v1h-1zM276,506h1v1h-1zM274,506h1v1h-1zM266,503h1v1h-1zM276,516h1v1h-1zM264,511h1v1h-1zM269,517h1v1h-1zM287,500h1v1h-1zM266,520h1v1h-1zM277,494h1v1h-1zM280,506h1v1h-1zM256,516h1v1h-1zM281,514h1v1h-1zM266,516h1v1h-1zM276,506h1v1h-1zM278,510h1v1h-1zM271,502h1v1h-1zM270,510h1v1h-1zM280,496h1v1h-1zM276,505h1v1h-1zM265,504h1v1h-1zM281,505h1v1h-1zM270,518h1v1h-1zM269,509h1v1h-1zM274,515h1v1h-1zM278,503h1v1h-1zM283,511h1v1h-1zM275,503h1v1h-1zM279,508h1v1h-1zM277,504h1v1h-1zM279,508h1v1h-1zM266,502h1v1h-1zM267,514h1v1h-1zM275,518h1v1h-1zM263,511h1v1h-1zM274,504h1v1h-1zM271,513h1v1h-1zM274,511h1v1h-1zM261,513h1v1h-1zM278,511h1v1h-1zM283,504h1v1h-1zM263,520h1v1h-1zM280,502h1v1h-1zM282,510h1v1h-1zM273,496h1v1h-1zM271,505h1v1h-1zM266,514h1v1h-1zM288,496h1v1h-1zM282,502h1v1h-1zM278,506h1v1h-1zM276,507h1v1h-1zM264,520h1v1h-1zM277,516h1v1h-1zM266,512h1v1h-1zM269,514h1v1h-1zM260,509h1v1h-1zM272,511h1v1h-1zM282,507h1v1h-1zM282,516h1v1h-1zM266,508h1v1h-1zM267,519h1v1h-1zM278,504h1v1h-1zM276,501h1v1h-1zM265,510h1v1h-1zM277,507h1v1h-1zM271,506h1v1h-1zM282,506h1v1h-1zM286,505h1v1h-1zM270,507h1v1h-1zM276,510h1v1h-1zM277,501h1v1h-1zM270,505h1v1h-1zM285,502h1v1h-1zM279,509h1v1h-1zM282,505h1v1h-1zM270,518h1v1h-1zM267,519h1v1h-1zM262,509h1v1h-1zM281,504h1v1h-1zM275,503h1v1h-1zM262,510h1v1h-1zM274,508h1v1h-1zM273,517h1v1h-1zM272,506h1v1h-1zM264,511h1v1h-1zM273,505h1v1h-1zM280,508h1v1h-1zM274,498h1v1h-1zM272,497h1v1h-1zM286,489h1v1h-1zM282,489h1v1h-1zM280,491h1v1h-1zM277,484h1v1h-1zM278,498h1v1h-1zM278,490h1v1h-1zM278,497h1v1h-1zM275,495h1v1h-1zM282,489h1v1h-1zM282,483h1v1h-1zM284,494h1v1h-1zM291,494h1v1h-1zM278,494h1v1h-1zM285,475h1v1h-1zM270,505h1v1h-1zM278,501h1v1h-1zM271,500h1v1h-1zM285,485h1v1h-1zM279,488h1v1h-1zM288,478h1v1h-1zM279,510h1v1h-1zM283,486h1v1h-1zM284,493h1v1h-1zM283,491h1v1h-1zM284,482h1v1h-1zM274,496h1v1h-1zM275,503h1v1h-1zM292,493h1v1h-1zM277,487h1v1h-1zM283,491h1v1h-1zM285,490h1v1h-1zM271,499h1v1h-1zM285,497h1v1h-1zM276,503h1v1h-1zM278,514h1v1h-1zM283,480h1v1h-1zM273,511h1v1h-1zM266,502h1v1h-1zM294,483h1v1h-1zM279,486h1v1h-1zM284,484h1v1h-1zM290,485h1v1h-1zM279,500h1v1h-1zM291,477h1v1h-1zM275,495h1v1h-1zM290,482h1v1h-1zM285,495h1v1h-1zM292,482h1v1h-1zM281,496h1v1h-1zM277,487h1v1h-1zM277,493h1v1h-1zM279,486h1v1h-1zM278,492h1v1h-1zM289,475h1v1h-1zM288,476h1v1h-1zM280,506h1v1h-1zM284,490h1v1h-1zM290,495h1v1h-1zM274,513h1v1h-1zM279,501h1v1h-1zM288,505h1v1h-1zM272,493h1v1h-1zM288,491h1v1h-1zM279,473h1v1h-1zM266,525h1v1h-1z" fill="#a4a4f8"/>
<path d="M218,510h1v1h-1zM278,500h1v1h-1z" fill="#d04040"/>
<path d="M266,509h1v1h-1zM287,499h1v1h-1z" fill="#50b050"/>
<rect x="189" y="418.2" width="116.19999999999999" height="115.59999999999997" fill="none" stroke="#2a2a2a" stroke-width="1.0"/>
<rect x="238.2" y="445.5" width="58.0" height="82.0" fill="none" stroke="#9a9a9a" stroke-width="1"/>
<text x="288.9" y="437.7" font-size="14.1" text-anchor="end" font-weight="normal" fill="#111" >59.7%</text>
<path d="M186,424.0h3M187.5,429.5h1.5M187.5,435.0h1.5M187.5,440.5h1.5M186,445.9h3M187.5,451.4h1.5M187.5,456.9h1.5M187.5,462.4h1.5M186,467.9h3M187.5,473.4h1.5M187.5,478.9h1.5M187.5,484.4h1.5M186,489.9h3M187.5,495.4h1.5M187.5,500.9h1.5M187.5,506.3h1.5M186,511.8h3M187.5,517.3h1.5M187.5,522.8h1.5M187.5,528.3h1.5M212.2,533.8v3M196.0,533.8v1.5M200.6,533.8v1.5M204.1,533.8v1.5M206.4,533.8v1.5M208.3,533.8v1.5M209.9,533.8v1.5M211.1,533.8v1.5M235.5,533.8v3M219.2,533.8v1.5M223.9,533.8v1.5M227.3,533.8v1.5M229.7,533.8v1.5M231.5,533.8v1.5M233.2,533.8v1.5M234.3,533.8v1.5M258.7,533.8v3M242.5,533.8v1.5M247.1,533.8v1.5M250.6,533.8v1.5M252.9,533.8v1.5M254.8,533.8v1.5M256.4,533.8v1.5M257.6,533.8v1.5M282.0,533.8v3M265.7,533.8v1.5M270.3,533.8v1.5M273.8,533.8v1.5M276.1,533.8v1.5M278.0,533.8v1.5M279.6,533.8v1.5M280.8,533.8v1.5M305.2,533.8v3M288.9,533.8v1.5M293.6,533.8v1.5M297.1,533.8v1.5M299.4,533.8v1.5M301.2,533.8v1.5M302.9,533.8v1.5M304.0,533.8v1.5" stroke="#444" stroke-width="0.7" fill="none"/>
<path d="M204.7,535.8h14.5" stroke="#555" stroke-width="1.8" stroke-dasharray="3,1"/>
<path d="M87,632h1v1h-1zM85,628h1v1h-1zM80,641h1v1h-1zM86,634h1v1h-1zM76,627h1v1h-1zM83,624h1v1h-1zM84,630h1v1h-1zM83,632h1v1h-1zM73,651h1v1h-1zM72,630h1v1h-1zM60,644h1v1h-1zM91,621h1v1h-1zM80,634h1v1h-1zM83,619h1v1h-1zM77,632h1v1h-1zM75,640h1v1h-1zM95,643h1v1h-1zM88,621h1v1h-1zM85,632h1v1h-1zM86,642h1v1h-1zM81,632h1v1h-1zM78,633h1v1h-1zM80,614h1v1h-1zM62,618h1v1h-1zM81,631h1v1h-1zM81,632h1v1h-1zM75,634h1v1h-1zM76,620h1v1h-1zM75,612h1v1h-1zM78,619h1v1h-1zM77,618h1v1h-1zM76,632h1v1h-1zM64,635h1v1h-1zM70,625h1v1h-1zM81,635h1v1h-1zM83,632h1v1h-1zM84,626h1v1h-1zM82,650h1v1h-1zM81,629h1v1h-1zM83,638h1v1h-1zM77,635h1v1h-1zM88,640h1v1h-1zM84,615h1v1h-1zM76,626h1v1h-1zM76,635h1v1h-1zM73,621h1v1h-1zM86,622h1v1h-1zM82,636h1v1h-1zM72,625h1v1h-1zM81,633h1v1h-1zM70,627h1v1h-1zM88,640h1v1h-1zM73,630h1v1h-1zM89,607h1v1h-1zM77,618h1v1h-1zM95,625h1v1h-1zM80,647h1v1h-1zM72,633h1v1h-1zM102,630h1v1h-1zM78,634h1v1h-1zM71,634h1v1h-1zM82,642h1v1h-1zM72,630h1v1h-1zM67,633h1v1h-1zM82,632h1v1h-1zM80,641h1v1h-1zM85,630h1v1h-1zM64,620h1v1h-1zM73,622h1v1h-1zM70,629h1v1h-1zM72,642h1v1h-1zM75,654h1v1h-1zM78,643h1v1h-1zM81,617h1v1h-1zM79,627h1v1h-1zM83,626h1v1h-1zM76,632h1v1h-1zM85,649h1v1h-1zM67,623h1v1h-1zM77,654h1v1h-1zM69,619h1v1h-1zM91,638h1v1h-1zM75,633h1v1h-1zM77,620h1v1h-1zM81,632h1v1h-1zM81,629h1v1h-1zM79,622h1v1h-1zM81,633h1v1h-1zM84,630h1v1h-1zM78,629h1v1h-1zM81,635h1v1h-1zM79,621h1v1h-1zM69,618h1v1h-1zM79,632h1v1h-1zM82,637h1v1h-1zM68,652h1v1h-1zM74,628h1v1h-1zM76,627h1v1h-1zM82,622h1v1h-1zM78,644h1v1h-1zM75,638h1v1h-1zM91,635h1v1h-1zM82,640h1v1h-1zM80,640h1v1h-1zM88,635h1v1h-1zM65,622h1v1h-1zM65,624h1v1h-1zM80,633h1v1h-1zM74,622h1v1h-1zM85,634h1v1h-1zM82,633h1v1h-1zM85,625h1v1h-1zM71,618h1v1h-1zM85,638h1v1h-1zM78,631h1v1h-1zM87,628h1v1h-1zM75,629h1v1h-1zM77,637h1v1h-1zM77,633h1v1h-1zM64,626h1v1h-1zM77,626h1v1h-1zM77,621h1v1h-1zM83,642h1v1h-1zM76,658h1v1h-1zM71,627h1v1h-1zM72,640h1v1h-1zM84,633h1v1h-1zM99,640h1v1h-1zM86,624h1v1h-1zM76,650h1v1h-1zM78,624h1v1h-1zM72,644h1v1h-1zM91,624h1v1h-1zM84,631h1v1h-1zM79,623h1v1h-1zM80,629h1v1h-1zM77,629h1v1h-1zM91,642h1v1h-1zM74,641h1v1h-1zM83,631h1v1h-1zM69,626h1v1h-1zM81,640h1v1h-1zM80,624h1v1h-1zM84,635h1v1h-1zM74,640h1v1h-1zM75,633h1v1h-1zM88,636h1v1h-1zM78,629h1v1h-1zM83,628h1v1h-1zM73,636h1v1h-1zM77,624h1v1h-1zM77,618h1v1h-1zM81,636h1v1h-1zM80,638h1v1h-1zM79,638h1v1h-1zM75,623h1v1h-1zM84,637h1v1h-1zM77,629h1v1h-1zM74,639h1v1h-1zM91,652h1v1h-1zM85,622h1v1h-1zM73,625h1v1h-1zM81,646h1v1h-1zM67,629h1v1h-1zM75,649h1v1h-1zM80,646h1v1h-1zM84,639h1v1h-1zM85,628h1v1h-1zM77,632h1v1h-1zM75,639h1v1h-1zM84,653h1v1h-1zM82,624h1v1h-1zM79,634h1v1h-1zM88,631h1v1h-1zM86,629h1v1h-1zM80,630h1v1h-1zM82,622h1v1h-1zM80,647h1v1h-1zM83,646h1v1h-1zM71,621h1v1h-1zM94,627h1v1h-1zM72,648h1v1h-1zM73,615h1v1h-1zM89,643h1v1h-1zM79,617h1v1h-1zM64,624h1v1h-1zM81,621h1v1h-1zM81,627h1v1h-1zM77,621h1v1h-1zM83,630h1v1h-1zM83,635h1v1h-1zM77,644h1v1h-1zM84,626h1v1h-1zM79,645h1v1h-1zM85,636h1v1h-1zM78,615h1v1h-1zM73,640h1v1h-1zM69,629h1v1h-1zM90,608h1v1h-1zM79,635h1v1h-1zM83,639h1v1h-1zM62,633h1v1h-1zM81,627h1v1h-1zM81,640h1v1h-1zM79,638h1v1h-1zM76,622h1v1h-1zM77,619h1v1h-1zM82,639h1v1h-1zM77,623h1v1h-1zM78,628h1v1h-1zM73,632h1v1h-1zM83,626h1v1h-1zM83,626h1v1h-1zM80,629h1v1h-1zM74,632h1v1h-1zM70,625h1v1h-1zM82,613h1v1h-1zM77,628h1v1h-1zM84,632h1v1h-1zM77,626h1v1h-1zM77,636h1v1h-1zM79,643h1v1h-1zM78,614h1v1h-1zM75,643h1v1h-1zM87,631h1v1h-1zM78,657h1v1h-1zM75,645h1v1h-1zM131,629h1v1h-1zM139,646h1v1h-1zM136,637h1v1h-1zM134,635h1v1h-1zM134,632h1v1h-1zM128,629h1v1h-1z" fill="#4040f0"/>
<path d="M65,625h1v1h-1zM76,638h1v1h-1zM71,620h1v1h-1zM79,647h1v1h-1zM85,632h1v1h-1zM71,616h1v1h-1zM81,632h1v1h-1zM76,643h1v1h-1zM78,618h1v1h-1zM87,626h1v1h-1zM81,632h1v1h-1zM85,634h1v1h-1zM73,623h1v1h-1zM78,649h1v1h-1zM77,632h1v1h-1zM76,645h1v1h-1zM80,628h1v1h-1zM78,617h1v1h-1zM75,626h1v1h-1zM77,654h1v1h-1zM83,616h1v1h-1zM79,627h1v1h-1zM85,616h1v1h-1zM74,631h1v1h-1zM81,628h1v1h-1zM85,631h1v1h-1zM81,609h1v1h-1zM79,625h1v1h-1zM76,640h1v1h-1zM86,632h1v1h-1zM79,623h1v1h-1zM69,641h1v1h-1zM74,650h1v1h-1zM71,639h1v1h-1zM81,634h1v1h-1zM77,637h1v1h-1zM88,637h1v1h-1zM81,647h1v1h-1zM83,620h1v1h-1zM80,645h1v1h-1zM74,637h1v1h-1zM86,648h1v1h-1zM68,615h1v1h-1zM81,639h1v1h-1zM76,644h1v1h-1zM69,623h1v1h-1zM78,632h1v1h-1zM90,630h1v1h-1zM80,646h1v1h-1zM79,633h1v1h-1zM78,632h1v1h-1zM78,642h1v1h-1zM79,633h1v1h-1zM78,639h1v1h-1zM75,641h1v1h-1zM75,639h1v1h-1zM91,634h1v1h-1zM78,620h1v1h-1zM70,632h1v1h-1zM72,622h1v1h-1zM91,634h1v1h-1zM88,616h1v1h-1zM81,640h1v1h-1zM82,651h1v1h-1zM67,648h1v1h-1zM78,645h1v1h-1zM80,626h1v1h-1zM82,638h1v1h-1zM66,629h1v1h-1zM79,625h1v1h-1zM75,631h1v1h-1zM79,638h1v1h-1zM84,636h1v1h-1zM79,645h1v1h-1zM85,629h1v1h-1zM71,638h1v1h-1zM79,620h1v1h-1zM79,625h1v1h-1zM72,628h1v1h-1zM80,649h1v1h-1zM76,617h1v1h-1zM80,625h1v1h-1zM75,622h1v1h-1zM85,628h1v1h-1zM77,636h1v1h-1zM76,632h1v1h-1zM74,642h1v1h-1zM79,633h1v1h-1zM62,622h1v1h-1zM77,641h1v1h-1zM74,647h1v1h-1zM73,638h1v1h-1zM81,624h1v1h-1zM94,638h1v1h-1zM88,639h1v1h-1zM75,638h1v1h-1zM82,628h1v1h-1zM82,631h1v1h-1zM81,649h1v1h-1zM84,637h1v1h-1zM81,622h1v1h-1zM84,625h1v1h-1zM78,638h1v1h-1zM83,641h1v1h-1zM75,633h1v1h-1zM77,620h1v1h-1zM87,628h1v1h-1zM81,638h1v1h-1zM84,641h1v1h-1zM72,626h1v1h-1zM74,650h1v1h-1zM92,624h1v1h-1zM73,639h1v1h-1zM78,648h1v1h-1zM61,631h1v1h-1zM84,625h1v1h-1zM84,639h1v1h-1zM67,630h1v1h-1zM81,639h1v1h-1zM79,632h1v1h-1zM76,629h1v1h-1zM83,629h1v1h-1zM82,627h1v1h-1zM84,637h1v1h-1zM70,631h1v1h-1zM85,640h1v1h-1zM73,635h1v1h-1zM83,619h1v1h-1zM83,635h1v1h-1zM67,612h1v1h-1zM91,628h1v1h-1zM87,644h1v1h-1zM87,632h1v1h-1zM82,637h1v1h-1zM85,642h1v1h-1zM83,631h1v1h-1zM77,652h1v1h-1zM87,643h1v1h-1zM85,624h1v1h-1zM78,631h1v1h-1zM71,623h1v1h-1zM80,620h1v1h-1zM82,637h1v1h-1zM81,620h1v1h-1zM67,624h1v1h-1zM74,640h1v1h-1zM62,618h1v1h-1zM74,628h1v1h-1zM68,635h1v1h-1zM86,634h1v1h-1zM75,644h1v1h-1zM75,626h1v1h-1zM74,631h1v1h-1zM79,620h1v1h-1zM86,614h1v1h-1zM83,629h1v1h-1zM87,638h1v1h-1zM76,624h1v1h-1zM69,637h1v1h-1zM81,617h1v1h-1zM76,630h1v1h-1zM71,634h1v1h-1zM77,643h1v1h-1zM85,628h1v1h-1zM85,632h1v1h-1zM81,645h1v1h-1zM71,631h1v1h-1zM88,625h1v1h-1zM76,619h1v1h-1zM83,620h1v1h-1zM84,645h1v1h-1zM90,623h1v1h-1zM81,624h1v1h-1zM87,648h1v1h-1zM86,637h1v1h-1zM73,620h1v1h-1zM88,622h1v1h-1zM90,641h1v1h-1zM76,632h1v1h-1zM87,631h1v1h-1zM85,625h1v1h-1zM74,645h1v1h-1zM77,642h1v1h-1zM77,625h1v1h-1zM77,629h1v1h-1zM77,649h1v1h-1zM78,636h1v1h-1zM65,634h1v1h-1zM79,629h1v1h-1zM76,619h1v1h-1zM69,634h1v1h-1zM74,631h1v1h-1zM77,627h1v1h-1zM74,650h1v1h-1zM77,621h1v1h-1zM85,648h1v1h-1zM73,621h1v1h-1zM83,621h1v1h-1zM79,613h1v1h-1zM78,642h1v1h-1zM77,635h1v1h-1zM86,621h1v1h-1zM70,633h1v1h-1zM80,629h1v1h-1zM71,629h1v1h-1zM78,639h1v1h-1zM76,624h1v1h-1zM75,632h1v1h-1zM77,635h1v1h-1zM62,632h1v1h-1zM76,655h1v1h-1zM90,638h1v1h-1zM87,628h1v1h-1zM73,639h1v1h-1zM72,624h1v1h-1zM88,616h1v1h-1zM78,633h1v1h-1zM80,618h1v1h-1zM77,629h1v1h-1zM85,646h1v1h-1zM90,628h1v1h-1zM82,609h1v1h-1zM77,620h1v1h-1zM84,616h1v1h-1zM72,621h1v1h-1zM73,650h1v1h-1zM81,632h1v1h-1zM93,643h1v1h-1zM83,622h1v1h-1zM74,624h1v1h-1zM63,638h1v1h-1zM83,641h1v1h-1zM81,622h1v1h-1zM93,640h1v1h-1zM87,648h1v1h-1zM82,638h1v1h-1zM69,640h1v1h-1zM72,636h1v1h-1zM72,639h1v1h-1zM75,656h1v1h-1zM80,637h1v1h-1zM73,629h1v1h-1zM76,623h1v1h-1zM73,630h1v1h-1zM75,623h1v1h-1zM71,635h1v1h-1zM76,634h1v1h-1zM75,624h1v1h-1zM82,628h1v1h-1zM85,644h1v1h-1zM74,628h1v1h-1zM82,618h1v1h-1zM70,638h1v1h-1zM84,629h1v1h-1zM74,631h1v1h-1zM79,637h1v1h-1zM76,621h1v1h-1zM95,625h1v1h-1zM89,615h1v1h-1zM79,630h1v1h-1zM75,635h1v1h-1zM74,630h1v1h-1zM88,646h1v1h-1zM67,623h1v1h-1zM76,645h1v1h-1zM76,651h1v1h-1zM73,629h1v1h-1zM85,638h1v1h-1zM80,638h1v1h-1zM81,633h1v1h-1zM72,628h1v1h-1zM85,623h1v1h-1zM72,624h1v1h-1zM78,626h1v1h-1zM77,631h1v1h-1zM82,633h1v1h-1zM73,621h1v1h-1zM77,632h1v1h-1zM80,642h1v1h-1zM86,638h1v1h-1zM84,629h1v1h-1zM76,623h1v1h-1zM88,620h1v1h-1zM79,619h1v1h-1zM77,654h1v1h-1zM81,622h1v1h-1zM69,643h1v1h-1zM74,622h1v1h-1zM80,630h1v1h-1zM86,633h1v1h-1zM90,643h1v1h-1zM79,637h1v1h-1zM71,639h1v1h-1zM70,631h1v1h-1zM72,634h1v1h-1zM77,627h1v1h-1zM73,611h1v1h-1zM79,620h1v1h-1zM77,636h1v1h-1zM85,639h1v1h-1zM88,618h1v1h-1zM83,647h1v1h-1zM75,642h1v1h-1zM74,651h1v1h-1zM73,639h1v1h-1zM80,643h1v1h-1zM77,623h1v1h-1zM75,622h1v1h-1zM95,634h1v1h-1zM77,644h1v1h-1zM86,648h1v1h-1zM77,632h1v1h-1zM81,640h1v1h-1zM84,640h1v1h-1zM77,629h1v1h-1zM73,629h1v1h-1zM78,618h1v1h-1zM86,625h1v1h-1zM80,638h1v1h-1zM75,615h1v1h-1zM77,643h1v1h-1zM84,623h1v1h-1zM77,646h1v1h-1zM85,649h1v1h-1zM81,639h1v1h-1zM94,638h1v1h-1zM79,626h1v1h-1zM79,631h1v1h-1zM85,638h1v1h-1zM72,645h1v1h-1zM90,621h1v1h-1zM71,627h1v1h-1zM74,626h1v1h-1zM79,619h1v1h-1zM80,628h1v1h-1zM83,622h1v1h-1zM75,627h1v1h-1zM79,630h1v1h-1zM73,623h1v1h-1zM71,634h1v1h-1zM74,628h1v1h-1zM80,639h1v1h-1zM86,621h1v1h-1zM78,645h1v1h-1zM94,633h1v1h-1zM76,628h1v1h-1zM71,631h1v1h-1zM76,625h1v1h-1zM86,625h1v1h-1zM89,640h1v1h-1zM75,613h1v1h-1zM81,626h1v1h-1zM82,618h1v1h-1zM65,637h1v1h-1zM85,602h1v1h-1zM87,629h1v1h-1zM78,617h1v1h-1zM72,639h1v1h-1zM78,651h1v1h-1zM84,619h1v1h-1zM76,621h1v1h-1zM86,632h1v1h-1zM83,631h1v1h-1zM76,633h1v1h-1zM78,651h1v1h-1zM90,636h1v1h-1zM78,655h1v1h-1zM74,640h1v1h-1zM86,628h1v1h-1zM88,643h1v1h-1zM79,657h1v1h-1zM77,624h1v1h-1zM76,631h1v1h-1zM84,617h1v1h-1zM70,625h1v1h-1zM74,647h1v1h-1zM75,630h1v1h-1zM80,632h1v1h-1zM75,634h1v1h-1zM81,629h1v1h-1zM65,650h1v1h-1zM76,642h1v1h-1zM86,622h1v1h-1zM87,660h1v1h-1zM77,620h1v1h-1zM121,641h1v1h-1zM131,639h1v1h-1zM124,643h1v1h-1zM128,644h1v1h-1z" fill="#a4a4f8"/>
<path d="M80,622h1v1h-1zM77,644h1v1h-1zM80,612h1v1h-1zM68,650h1v1h-1z" fill="#d04040"/>
<path d="M71,622h1v1h-1zM77,629h1v1h-1zM81,629h1v1h-1zM77,621h1v1h-1z" fill="#50b050"/>
<rect x="53.9" y="555.3" width="115.5" height="114.70000000000005" fill="none" stroke="#2a2a2a" stroke-width="1.0"/>
<rect x="108.6" y="581.6" width="51.20000000000002" height="81.89999999999998" fill="none" stroke="#9a9a9a" stroke-width="1"/>
<text x="157.7" y="572.8" font-size="14.1" text-anchor="end" font-weight="normal" fill="#111" >1.66%</text>
<path d="M50.9,561.0h3M52.4,566.5h1.5M52.4,571.9h1.5M52.4,577.4h1.5M50.9,582.8h3M52.4,588.3h1.5M52.4,593.7h1.5M52.4,599.2h1.5M50.9,604.6h3M52.4,610.1h1.5M52.4,615.5h1.5M52.4,621.0h1.5M50.9,626.4h3M52.4,631.9h1.5M52.4,637.3h1.5M52.4,642.8h1.5M50.9,648.2h3M52.4,653.7h1.5M52.4,659.1h1.5M52.4,664.6h1.5M77.0,670v3M60.8,670v1.5M65.5,670v1.5M68.9,670v1.5M71.2,670v1.5M73.1,670v1.5M74.7,670v1.5M75.8,670v1.5M100.1,670v3M83.9,670v1.5M88.5,670v1.5M92.0,670v1.5M94.3,670v1.5M96.2,670v1.5M97.8,670v1.5M98.9,670v1.5M123.2,670v3M107.0,670v1.5M111.7,670v1.5M115.1,670v1.5M117.4,670v1.5M119.3,670v1.5M120.9,670v1.5M122.0,670v1.5M146.3,670v3M130.1,670v1.5M134.8,670v1.5M138.2,670v1.5M140.5,670v1.5M142.4,670v1.5M144.0,670v1.5M145.1,670v1.5M169.4,670v3M153.2,670v1.5M157.8,670v1.5M161.3,670v1.5M163.6,670v1.5M165.5,670v1.5M167.1,670v1.5M168.2,670v1.5" stroke="#444" stroke-width="0.7" fill="none"/>
<path d="M69.5,672h14.4" stroke="#555" stroke-width="1.8" stroke-dasharray="3,1"/>
<path d="M208,626h1v1h-1zM206,601h1v1h-1zM218,630h1v1h-1zM232,616h1v1h-1zM204,631h1v1h-1zM216,629h1v1h-1zM222,612h1v1h-1zM212,602h1v1h-1zM210,580h1v1h-1zM207,642h1v1h-1zM221,622h1v1h-1zM225,619h1v1h-1zM206,621h1v1h-1zM210,623h1v1h-1zM219,605h1v1h-1zM216,610h1v1h-1zM206,636h1v1h-1zM202,641h1v1h-1zM224,615h1v1h-1zM215,621h1v1h-1zM211,603h1v1h-1zM205,623h1v1h-1zM208,633h1v1h-1zM194,632h1v1h-1zM200,600h1v1h-1zM217,619h1v1h-1zM206,614h1v1h-1zM213,613h1v1h-1zM215,609h1v1h-1zM198,591h1v1h-1zM213,624h1v1h-1zM205,605h1v1h-1zM220,622h1v1h-1zM201,635h1v1h-1zM214,632h1v1h-1zM207,635h1v1h-1zM216,637h1v1h-1zM212,625h1v1h-1zM218,610h1v1h-1zM231,625h1v1h-1zM208,614h1v1h-1zM212,638h1v1h-1zM223,628h1v1h-1zM228,634h1v1h-1zM211,616h1v1h-1zM219,629h1v1h-1zM224,605h1v1h-1zM213,606h1v1h-1zM206,616h1v1h-1zM214,617h1v1h-1zM209,624h1v1h-1zM207,609h1v1h-1zM214,632h1v1h-1zM211,633h1v1h-1zM224,608h1v1h-1zM196,630h1v1h-1zM213,632h1v1h-1zM223,616h1v1h-1zM221,630h1v1h-1zM214,617h1v1h-1zM222,634h1v1h-1zM196,641h1v1h-1zM217,615h1v1h-1zM201,630h1v1h-1zM218,611h1v1h-1zM212,603h1v1h-1zM202,604h1v1h-1zM219,627h1v1h-1zM218,638h1v1h-1zM206,620h1v1h-1zM212,623h1v1h-1zM217,635h1v1h-1zM219,640h1v1h-1zM217,616h1v1h-1zM222,632h1v1h-1zM210,597h1v1h-1zM224,609h1v1h-1zM202,649h1v1h-1zM209,605h1v1h-1zM224,637h1v1h-1zM193,643h1v1h-1zM218,616h1v1h-1zM217,602h1v1h-1zM211,618h1v1h-1zM218,638h1v1h-1zM207,649h1v1h-1zM213,608h1v1h-1zM218,625h1v1h-1zM205,628h1v1h-1zM229,621h1v1h-1zM217,642h1v1h-1zM211,616h1v1h-1zM205,636h1v1h-1zM210,628h1v1h-1zM212,615h1v1h-1zM216,621h1v1h-1zM204,618h1v1h-1zM213,634h1v1h-1zM215,620h1v1h-1zM213,615h1v1h-1zM212,627h1v1h-1zM227,588h1v1h-1zM211,622h1v1h-1zM215,624h1v1h-1zM218,630h1v1h-1zM215,605h1v1h-1zM200,619h1v1h-1zM221,632h1v1h-1zM214,612h1v1h-1zM204,627h1v1h-1zM217,618h1v1h-1zM209,622h1v1h-1zM216,632h1v1h-1zM222,628h1v1h-1zM231,616h1v1h-1zM196,644h1v1h-1zM213,613h1v1h-1zM209,636h1v1h-1zM221,612h1v1h-1zM207,616h1v1h-1zM217,620h1v1h-1zM214,624h1v1h-1zM207,630h1v1h-1zM212,614h1v1h-1zM206,633h1v1h-1zM210,629h1v1h-1zM208,639h1v1h-1zM221,634h1v1h-1zM212,630h1v1h-1zM209,597h1v1h-1zM211,625h1v1h-1zM215,614h1v1h-1zM215,643h1v1h-1zM216,609h1v1h-1zM214,633h1v1h-1zM208,633h1v1h-1zM212,638h1v1h-1zM208,636h1v1h-1zM206,625h1v1h-1zM208,620h1v1h-1zM217,609h1v1h-1zM204,657h1v1h-1zM200,643h1v1h-1zM205,629h1v1h-1zM227,630h1v1h-1zM213,639h1v1h-1zM219,616h1v1h-1zM215,621h1v1h-1zM210,635h1v1h-1zM207,609h1v1h-1zM216,622h1v1h-1zM208,634h1v1h-1zM209,624h1v1h-1zM203,634h1v1h-1zM209,609h1v1h-1zM212,616h1v1h-1zM212,612h1v1h-1zM210,605h1v1h-1zM212,616h1v1h-1zM220,634h1v1h-1zM212,605h1v1h-1zM214,626h1v1h-1zM207,623h1v1h-1zM208,608h1v1h-1zM205,622h1v1h-1zM218,621h1v1h-1zM210,645h1v1h-1zM217,620h1v1h-1zM220,625h1v1h-1zM211,614h1v1h-1zM211,630h1v1h-1zM211,636h1v1h-1zM219,622h1v1h-1zM208,638h1v1h-1zM202,616h1v1h-1zM210,627h1v1h-1zM209,631h1v1h-1zM195,621h1v1h-1zM209,587h1v1h-1zM213,609h1v1h-1zM213,609h1v1h-1zM207,617h1v1h-1zM232,609h1v1h-1zM220,632h1v1h-1zM203,611h1v1h-1zM213,615h1v1h-1zM214,604h1v1h-1zM207,635h1v1h-1zM208,615h1v1h-1zM211,615h1v1h-1zM198,634h1v1h-1zM209,623h1v1h-1zM204,633h1v1h-1zM213,637h1v1h-1zM208,650h1v1h-1zM207,634h1v1h-1zM222,607h1v1h-1zM219,599h1v1h-1zM221,639h1v1h-1zM218,643h1v1h-1zM214,610h1v1h-1zM220,637h1v1h-1zM207,634h1v1h-1zM219,640h1v1h-1zM209,626h1v1h-1zM216,618h1v1h-1zM214,630h1v1h-1zM202,615h1v1h-1zM206,629h1v1h-1zM217,616h1v1h-1zM216,620h1v1h-1zM211,631h1v1h-1zM208,620h1v1h-1zM219,642h1v1h-1zM219,634h1v1h-1zM208,618h1v1h-1zM206,614h1v1h-1zM204,618h1v1h-1zM204,610h1v1h-1zM221,616h1v1h-1zM202,625h1v1h-1zM196,620h1v1h-1zM212,625h1v1h-1zM214,614h1v1h-1zM210,620h1v1h-1zM216,653h1v1h-1zM207,620h1v1h-1zM217,640h1v1h-1zM270,649h1v1h-1zM269,646h1v1h-1zM276,632h1v1h-1zM268,639h1v1h-1zM269,639h1v1h-1zM278,630h1v1h-1zM266,638h1v1h-1zM272,642h1v1h-1zM253,654h1v1h-1zM267,641h1v1h-1zM269,645h1v1h-1zM276,647h1v1h-1zM262,646h1v1h-1zM271,647h1v1h-1zM269,634h1v1h-1zM275,637h1v1h-1zM259,651h1v1h-1zM273,632h1v1h-1zM269,635h1v1h-1zM269,648h1v1h-1zM275,646h1v1h-1zM267,640h1v1h-1zM270,644h1v1h-1zM267,651h1v1h-1zM265,650h1v1h-1zM273,643h1v1h-1zM266,643h1v1h-1zM268,645h1v1h-1zM263,655h1v1h-1zM268,640h1v1h-1zM268,637h1v1h-1zM274,634h1v1h-1zM262,639h1v1h-1zM260,636h1v1h-1zM269,636h1v1h-1zM267,641h1v1h-1zM269,639h1v1h-1zM270,645h1v1h-1zM271,658h1v1h-1zM272,635h1v1h-1zM277,627h1v1h-1zM274,631h1v1h-1zM276,631h1v1h-1zM259,653h1v1h-1zM256,643h1v1h-1zM271,647h1v1h-1zM282,632h1v1h-1zM272,649h1v1h-1zM270,646h1v1h-1zM267,639h1v1h-1zM277,640h1v1h-1zM275,632h1v1h-1zM267,641h1v1h-1zM267,661h1v1h-1zM268,634h1v1h-1zM266,641h1v1h-1zM274,626h1v1h-1zM273,638h1v1h-1zM267,650h1v1h-1zM273,651h1v1h-1zM262,641h1v1h-1zM269,644h1v1h-1zM266,642h1v1h-1zM272,639h1v1h-1zM265,652h1v1h-1zM268,652h1v1h-1zM271,644h1v1h-1zM271,651h1v1h-1zM264,636h1v1h-1zM270,637h1v1h-1zM268,642h1v1h-1zM268,653h1v1h-1zM267,639h1v1h-1zM266,639h1v1h-1zM263,637h1v1h-1zM264,634h1v1h-1zM264,636h1v1h-1zM272,633h1v1h-1zM269,644h1v1h-1zM277,630h1v1h-1zM269,646h1v1h-1zM270,641h1v1h-1zM272,628h1v1h-1zM270,639h1v1h-1zM279,637h1v1h-1zM265,648h1v1h-1zM266,636h1v1h-1zM275,644h1v1h-1zM259,646h1v1h-1zM264,643h1v1h-1zM273,639h1v1h-1zM263,646h1v1h-1zM273,632h1v1h-1zM262,644h1v1h-1zM270,634h1v1h-1zM265,644h1v1h-1zM275,641h1v1h-1zM282,617h1v1h-1zM286,601h1v1h-1zM272,622h1v1h-1zM273,635h1v1h-1zM259,641h1v1h-1zM270,637h1v1h-1zM255,640h1v1h-1zM283,615h1v1h-1zM278,607h1v1h-1zM271,620h1v1h-1zM266,646h1v1h-1zM275,639h1v1h-1zM273,647h1v1h-1zM277,616h1v1h-1zM272,617h1v1h-1zM274,633h1v1h-1zM270,608h1v1h-1zM270,628h1v1h-1zM271,634h1v1h-1zM272,643h1v1h-1zM288,622h1v1h-1zM277,636h1v1h-1zM267,621h1v1h-1zM280,621h1v1h-1zM271,624h1v1h-1zM275,628h1v1h-1zM273,632h1v1h-1zM292,610h1v1h-1zM276,621h1v1h-1zM285,628h1v1h-1zM275,621h1v1h-1zM294,627h1v1h-1zM278,635h1v1h-1zM276,630h1v1h-1zM264,637h1v1h-1zM274,627h1v1h-1z" fill="#4040f0"/>
<path d="M214,630h1v1h-1zM214,624h1v1h-1zM218,633h1v1h-1zM206,638h1v1h-1zM219,635h1v1h-1zM224,606h1v1h-1zM213,619h1v1h-1zM212,621h1v1h-1zM213,624h1v1h-1zM208,615h1v1h-1zM220,621h1v1h-1zM217,663h1v1h-1zM206,629h1v1h-1zM209,641h1v1h-1zM217,613h1v1h-1zM202,633h1v1h-1zM209,601h1v1h-1zM228,609h1v1h-1zM222,624h1v1h-1zM213,623h1v1h-1zM219,623h1v1h-1zM214,622h1v1h-1zM205,639h1v1h-1zM208,607h1v1h-1zM204,625h1v1h-1zM205,625h1v1h-1zM212,604h1v1h-1zM207,641h1v1h-1zM208,631h1v1h-1zM204,630h1v1h-1zM222,626h1v1h-1zM220,613h1v1h-1zM224,623h1v1h-1zM210,626h1v1h-1zM222,604h1v1h-1zM212,615h1v1h-1zM214,611h1v1h-1zM210,613h1v1h-1zM220,614h1v1h-1zM218,615h1v1h-1zM211,601h1v1h-1zM208,633h1v1h-1zM209,631h1v1h-1zM233,636h1v1h-1zM215,608h1v1h-1zM209,615h1v1h-1zM214,599h1v1h-1zM207,633h1v1h-1zM219,609h1v1h-1zM204,629h1v1h-1zM213,624h1v1h-1zM211,631h1v1h-1zM213,612h1v1h-1zM204,614h1v1h-1zM198,615h1v1h-1zM208,615h1v1h-1zM225,609h1v1h-1zM212,622h1v1h-1zM201,613h1v1h-1zM222,640h1v1h-1zM211,631h1v1h-1zM216,624h1v1h-1zM217,620h1v1h-1zM211,634h1v1h-1zM209,614h1v1h-1zM211,617h1v1h-1zM222,627h1v1h-1zM212,617h1v1h-1zM211,625h1v1h-1zM208,611h1v1h-1zM202,637h1v1h-1zM211,635h1v1h-1zM205,595h1v1h-1zM209,634h1v1h-1zM209,628h1v1h-1zM205,640h1v1h-1zM216,636h1v1h-1zM211,638h1v1h-1zM215,611h1v1h-1zM208,625h1v1h-1zM219,630h1v1h-1zM218,645h1v1h-1zM210,636h1v1h-1zM223,629h1v1h-1zM200,621h1v1h-1zM211,604h1v1h-1zM211,621h1v1h-1zM206,623h1v1h-1zM201,627h1v1h-1zM204,619h1v1h-1zM209,602h1v1h-1zM213,637h1v1h-1zM204,619h1v1h-1zM226,625h1v1h-1zM209,625h1v1h-1zM213,626h1v1h-1zM216,629h1v1h-1zM208,621h1v1h-1zM215,625h1v1h-1zM217,633h1v1h-1zM229,637h1v1h-1zM213,609h1v1h-1zM216,619h1v1h-1zM205,629h1v1h-1zM217,613h1v1h-1zM213,626h1v1h-1zM214,629h1v1h-1zM218,619h1v1h-1zM210,611h1v1h-1zM218,630h1v1h-1zM209,651h1v1h-1zM196,638h1v1h-1zM213,627h1v1h-1zM215,620h1v1h-1zM215,607h1v1h-1zM210,645h1v1h-1zM195,638h1v1h-1zM197,613h1v1h-1zM212,621h1v1h-1zM209,604h1v1h-1zM214,628h1v1h-1zM221,629h1v1h-1zM212,610h1v1h-1zM216,635h1v1h-1zM202,608h1v1h-1zM223,626h1v1h-1zM209,607h1v1h-1zM204,607h1v1h-1zM225,644h1v1h-1zM212,637h1v1h-1zM196,622h1v1h-1zM208,647h1v1h-1zM211,608h1v1h-1zM227,615h1v1h-1zM211,618h1v1h-1zM209,614h1v1h-1zM203,638h1v1h-1zM219,606h1v1h-1zM211,620h1v1h-1zM215,621h1v1h-1zM221,635h1v1h-1zM234,600h1v1h-1zM202,595h1v1h-1zM216,610h1v1h-1zM220,598h1v1h-1zM212,618h1v1h-1zM209,625h1v1h-1zM210,624h1v1h-1zM206,610h1v1h-1zM216,639h1v1h-1zM216,636h1v1h-1zM218,609h1v1h-1zM205,625h1v1h-1zM213,623h1v1h-1zM224,637h1v1h-1zM207,626h1v1h-1zM211,624h1v1h-1zM224,634h1v1h-1zM209,636h1v1h-1zM213,609h1v1h-1zM220,636h1v1h-1zM223,642h1v1h-1zM220,623h1v1h-1zM204,618h1v1h-1zM205,637h1v1h-1zM216,635h1v1h-1zM217,619h1v1h-1zM207,636h1v1h-1zM215,623h1v1h-1zM210,611h1v1h-1zM208,641h1v1h-1zM211,611h1v1h-1zM210,608h1v1h-1zM213,594h1v1h-1zM213,641h1v1h-1zM215,614h1v1h-1zM218,617h1v1h-1zM222,619h1v1h-1zM227,619h1v1h-1zM215,611h1v1h-1zM208,615h1v1h-1zM212,618h1v1h-1zM212,625h1v1h-1zM220,643h1v1h-1zM219,635h1v1h-1zM205,635h1v1h-1zM222,607h1v1h-1zM215,618h1v1h-1zM208,631h1v1h-1zM211,610h1v1h-1zM210,599h1v1h-1zM214,624h1v1h-1zM216,612h1v1h-1zM213,625h1v1h-1zM204,630h1v1h-1zM210,647h1v1h-1zM213,614h1v1h-1zM208,634h1v1h-1zM214,636h1v1h-1zM213,609h1v1h-1zM219,627h1v1h-1zM208,619h1v1h-1zM215,620h1v1h-1zM216,620h1v1h-1zM205,618h1v1h-1zM205,632h1v1h-1zM218,616h1v1h-1zM217,626h1v1h-1zM220,612h1v1h-1zM213,611h1v1h-1zM199,612h1v1h-1zM216,632h1v1h-1zM207,599h1v1h-1zM201,627h1v1h-1zM208,639h1v1h-1zM212,642h1v1h-1zM211,609h1v1h-1zM211,624h1v1h-1zM199,629h1v1h-1zM213,623h1v1h-1zM206,632h1v1h-1zM226,631h1v1h-1zM218,636h1v1h-1zM212,635h1v1h-1zM207,625h1v1h-1zM218,639h1v1h-1zM211,619h1v1h-1zM216,622h1v1h-1zM216,620h1v1h-1zM204,615h1v1h-1zM213,634h1v1h-1zM199,632h1v1h-1zM214,609h1v1h-1zM219,628h1v1h-1zM216,611h1v1h-1zM205,634h1v1h-1zM223,627h1v1h-1zM212,618h1v1h-1zM201,635h1v1h-1zM208,630h1v1h-1zM223,615h1v1h-1zM219,623h1v1h-1zM217,614h1v1h-1zM211,616h1v1h-1zM219,617h1v1h-1zM222,618h1v1h-1zM208,636h1v1h-1zM223,615h1v1h-1zM210,619h1v1h-1zM218,608h1v1h-1zM209,615h1v1h-1zM214,608h1v1h-1zM214,605h1v1h-1zM219,607h1v1h-1zM222,613h1v1h-1zM218,609h1v1h-1zM201,628h1v1h-1zM220,625h1v1h-1zM207,636h1v1h-1zM214,624h1v1h-1zM217,611h1v1h-1zM211,624h1v1h-1zM213,623h1v1h-1zM209,619h1v1h-1zM212,628h1v1h-1zM212,631h1v1h-1zM225,627h1v1h-1zM211,643h1v1h-1zM218,603h1v1h-1zM222,625h1v1h-1zM219,609h1v1h-1zM207,615h1v1h-1zM217,610h1v1h-1zM207,603h1v1h-1zM212,622h1v1h-1zM219,633h1v1h-1zM212,625h1v1h-1zM206,614h1v1h-1zM212,617h1v1h-1zM224,620h1v1h-1zM216,618h1v1h-1zM199,639h1v1h-1zM206,628h1v1h-1zM218,616h1v1h-1zM216,619h1v1h-1zM213,636h1v1h-1zM216,641h1v1h-1zM210,621h1v1h-1zM211,608h1v1h-1zM225,614h1v1h-1zM206,604h1v1h-1zM223,630h1v1h-1zM219,617h1v1h-1zM224,646h1v1h-1zM214,598h1v1h-1zM220,622h1v1h-1zM218,635h1v1h-1zM206,624h1v1h-1zM214,614h1v1h-1zM214,642h1v1h-1zM212,635h1v1h-1zM208,625h1v1h-1zM220,597h1v1h-1zM212,608h1v1h-1zM233,614h1v1h-1zM211,626h1v1h-1zM204,635h1v1h-1zM199,617h1v1h-1zM211,618h1v1h-1zM216,611h1v1h-1zM200,632h1v1h-1zM203,619h1v1h-1zM201,634h1v1h-1zM203,615h1v1h-1zM225,625h1v1h-1zM205,621h1v1h-1zM212,619h1v1h-1zM221,637h1v1h-1zM227,629h1v1h-1zM218,613h1v1h-1zM209,634h1v1h-1zM214,610h1v1h-1zM205,617h1v1h-1zM218,619h1v1h-1zM214,614h1v1h-1zM212,613h1v1h-1zM226,628h1v1h-1zM208,622h1v1h-1zM210,637h1v1h-1zM218,627h1v1h-1zM208,614h1v1h-1zM219,636h1v1h-1zM210,616h1v1h-1zM211,617h1v1h-1zM222,620h1v1h-1zM222,615h1v1h-1zM216,642h1v1h-1zM209,604h1v1h-1zM228,617h1v1h-1zM219,623h1v1h-1zM215,631h1v1h-1zM214,642h1v1h-1zM223,625h1v1h-1zM213,625h1v1h-1zM217,614h1v1h-1zM218,633h1v1h-1zM213,627h1v1h-1zM220,636h1v1h-1zM207,620h1v1h-1zM212,615h1v1h-1zM207,615h1v1h-1zM208,625h1v1h-1zM209,630h1v1h-1zM229,628h1v1h-1zM209,601h1v1h-1zM218,628h1v1h-1zM224,610h1v1h-1zM201,634h1v1h-1zM222,625h1v1h-1zM212,640h1v1h-1zM218,614h1v1h-1zM212,628h1v1h-1zM211,608h1v1h-1zM212,632h1v1h-1zM210,597h1v1h-1zM207,636h1v1h-1zM214,636h1v1h-1zM216,625h1v1h-1zM210,626h1v1h-1zM203,605h1v1h-1zM224,639h1v1h-1zM217,610h1v1h-1zM209,626h1v1h-1zM217,599h1v1h-1zM205,630h1v1h-1zM224,626h1v1h-1zM218,645h1v1h-1zM201,620h1v1h-1zM217,625h1v1h-1zM204,613h1v1h-1zM200,607h1v1h-1zM214,627h1v1h-1zM207,630h1v1h-1zM217,616h1v1h-1zM210,608h1v1h-1zM210,649h1v1h-1zM213,633h1v1h-1zM263,649h1v1h-1zM278,639h1v1h-1zM274,643h1v1h-1zM276,635h1v1h-1zM268,634h1v1h-1zM258,644h1v1h-1zM273,641h1v1h-1zM259,657h1v1h-1zM264,648h1v1h-1zM268,638h1v1h-1zM272,641h1v1h-1zM277,631h1v1h-1zM266,654h1v1h-1zM265,642h1v1h-1zM275,647h1v1h-1zM268,638h1v1h-1zM261,651h1v1h-1zM266,647h1v1h-1zM255,648h1v1h-1zM269,642h1v1h-1zM251,653h1v1h-1zM274,637h1v1h-1zM275,632h1v1h-1zM279,641h1v1h-1zM266,660h1v1h-1zM271,639h1v1h-1zM268,634h1v1h-1zM272,636h1v1h-1zM268,648h1v1h-1zM268,643h1v1h-1zM273,624h1v1h-1zM252,662h1v1h-1zM274,639h1v1h-1zM279,641h1v1h-1zM265,646h1v1h-1zM274,643h1v1h-1zM258,649h1v1h-1zM266,642h1v1h-1zM267,641h1v1h-1zM269,642h1v1h-1zM265,643h1v1h-1zM271,638h1v1h-1zM264,635h1v1h-1zM262,649h1v1h-1zM268,639h1v1h-1zM265,645h1v1h-1zM261,648h1v1h-1zM274,641h1v1h-1zM277,634h1v1h-1zM270,638h1v1h-1zM268,652h1v1h-1zM259,642h1v1h-1zM272,647h1v1h-1zM273,643h1v1h-1zM268,649h1v1h-1zM264,638h1v1h-1zM275,632h1v1h-1zM275,633h1v1h-1zM262,636h1v1h-1zM268,634h1v1h-1zM270,642h1v1h-1zM266,632h1v1h-1zM266,647h1v1h-1zM259,652h1v1h-1zM268,637h1v1h-1zM273,635h1v1h-1zM270,647h1v1h-1zM276,647h1v1h-1zM274,639h1v1h-1zM267,644h1v1h-1zM262,643h1v1h-1zM267,635h1v1h-1zM272,639h1v1h-1zM267,649h1v1h-1zM269,653h1v1h-1zM262,635h1v1h-1zM266,652h1v1h-1zM277,628h1v1h-1zM265,633h1v1h-1zM264,639h1v1h-1zM273,640h1v1h-1zM269,653h1v1h-1zM271,640h1v1h-1zM265,642h1v1h-1zM269,640h1v1h-1zM273,638h1v1h-1zM268,641h1v1h-1zM276,634h1v1h-1zM276,632h1v1h-1zM266,646h1v1h-1zM267,645h1v1h-1zM269,644h1v1h-1zM273,648h1v1h-1zM267,654h1v1h-1zM265,643h1v1h-1zM272,642h1v1h-1zM278,638h1v1h-1zM269,636h1v1h-1zM280,637h1v1h-1zM272,630h1v1h-1zM272,654h1v1h-1zM268,641h1v1h-1zM277,636h1v1h-1zM272,640h1v1h-1zM269,641h1v1h-1zM270,635h1v1h-1zM271,627h1v1h-1zM262,659h1v1h-1zM267,649h1v1h-1zM267,632h1v1h-1zM264,651h1v1h-1zM270,647h1v1h-1zM271,641h1v1h-1zM265,643h1v1h-1zM273,643h1v1h-1zM267,651h1v1h-1zM271,636h1v1h-1zM271,648h1v1h-1zM269,644h1v1h-1zM267,646h1v1h-1zM270,640h1v1h-1zM270,649h1v1h-1zM268,649h1v1h-1zM264,645h1v1h-1zM273,644h1v1h-1zM270,638h1v1h-1zM277,632h1v1h-1zM272,636h1v1h-1zM271,643h1v1h-1zM269,645h1v1h-1zM275,636h1v1h-1zM273,635h1v1h-1zM256,653h1v1h-1zM276,627h1v1h-1zM283,615h1v1h-1zM289,599h1v1h-1zM276,654h1v1h-1zM270,665h1v1h-1zM281,619h1v1h-1zM280,603h1v1h-1zM262,623h1v1h-1zM277,637h1v1h-1zM263,642h1v1h-1zM260,636h1v1h-1zM259,633h1v1h-1zM274,627h1v1h-1zM277,629h1v1h-1zM262,627h1v1h-1zM272,633h1v1h-1zM265,628h1v1h-1zM268,636h1v1h-1zM271,637h1v1h-1zM275,636h1v1h-1zM266,616h1v1h-1zM278,622h1v1h-1zM277,635h1v1h-1zM269,632h1v1h-1zM271,652h1v1h-1zM267,623h1v1h-1zM271,638h1v1h-1zM274,626h1v1h-1zM263,615h1v1h-1zM272,627h1v1h-1zM271,645h1v1h-1zM282,616h1v1h-1zM264,645h1v1h-1zM283,610h1v1h-1zM287,611h1v1h-1zM280,620h1v1h-1zM267,655h1v1h-1zM287,616h1v1h-1zM265,650h1v1h-1zM281,627h1v1h-1zM275,648h1v1h-1zM259,646h1v1h-1zM266,635h1v1h-1zM255,649h1v1h-1zM281,629h1v1h-1zM279,627h1v1h-1zM268,602h1v1h-1zM286,624h1v1h-1zM275,624h1v1h-1zM279,639h1v1h-1z" fill="#a4a4f8"/>
<path d="M212,603h1v1h-1zM220,640h1v1h-1zM208,627h1v1h-1zM291,594h1v1h-1z" fill="#d04040"/>
<path d="M219,618h1v1h-1zM216,609h1v1h-1zM268,646h1v1h-1zM262,654h1v1h-1zM279,630h1v1h-1z" fill="#50b050"/>
<rect x="188.7" y="550.9" width="116.5" height="116.10000000000002" fill="none" stroke="#2a2a2a" stroke-width="1.0"/>
<rect x="238.6" y="578.5" width="60.400000000000006" height="79.70000000000005" fill="none" stroke="#9a9a9a" stroke-width="1"/>
<text x="288.9" y="567" font-size="14.1" text-anchor="end" font-weight="normal" fill="#111" >33.9%</text>
<path d="M185.7,556.7h3M187.2,562.2h1.5M187.2,567.7h1.5M187.2,573.2h1.5M185.7,578.8h3M187.2,584.3h1.5M187.2,589.8h1.5M187.2,595.3h1.5M185.7,600.8h3M187.2,606.3h1.5M187.2,611.9h1.5M187.2,617.4h1.5M185.7,622.9h3M187.2,628.4h1.5M187.2,633.9h1.5M187.2,639.4h1.5M185.7,644.9h3M187.2,650.5h1.5M187.2,656.0h1.5M187.2,661.5h1.5M212.0,667v3M195.7,667v1.5M200.3,667v1.5M203.8,667v1.5M206.2,667v1.5M208.0,667v1.5M209.7,667v1.5M210.8,667v1.5M235.3,667v3M219.0,667v1.5M223.6,667v1.5M227.1,667v1.5M229.5,667v1.5M231.3,667v1.5M233.0,667v1.5M234.1,667v1.5M258.6,667v3M242.3,667v1.5M247.0,667v1.5M250.4,667v1.5M252.8,667v1.5M254.6,667v1.5M256.3,667v1.5M257.4,667v1.5M281.9,667v3M265.6,667v1.5M270.2,667v1.5M273.7,667v1.5M276.1,667v1.5M277.9,667v1.5M279.6,667v1.5M280.7,667v1.5M305.2,667v3M288.9,667v1.5M293.6,667v1.5M297.0,667v1.5M299.4,667v1.5M301.2,667v1.5M302.9,667v1.5M304.0,667v1.5" stroke="#444" stroke-width="0.7" fill="none"/>
<path d="M204.4,669h14.6" stroke="#555" stroke-width="1.8" stroke-dasharray="3,1"/>
<path d="M66,764h1v1h-1zM82,754h1v1h-1zM77,754h1v1h-1zM78,763h1v1h-1zM82,760h1v1h-1zM80,772h1v1h-1zM81,762h1v1h-1zM84,760h1v1h-1zM70,782h1v1h-1zM84,761h1v1h-1zM81,759h1v1h-1zM73,765h1v1h-1zM88,777h1v1h-1zM68,759h1v1h-1zM76,768h1v1h-1zM76,766h1v1h-1zM66,762h1v1h-1zM81,769h1v1h-1zM67,774h1v1h-1zM76,758h1v1h-1zM79,777h1v1h-1zM66,773h1v1h-1zM89,762h1v1h-1zM63,768h1v1h-1zM72,761h1v1h-1zM72,762h1v1h-1zM84,760h1v1h-1zM82,770h1v1h-1zM78,765h1v1h-1zM77,749h1v1h-1zM74,755h1v1h-1zM71,767h1v1h-1zM79,768h1v1h-1zM89,752h1v1h-1zM73,759h1v1h-1zM64,753h1v1h-1zM62,759h1v1h-1zM68,756h1v1h-1zM74,758h1v1h-1zM87,765h1v1h-1zM86,755h1v1h-1zM82,767h1v1h-1zM91,756h1v1h-1zM80,765h1v1h-1zM81,768h1v1h-1zM88,758h1v1h-1zM74,761h1v1h-1zM62,766h1v1h-1zM87,768h1v1h-1zM80,757h1v1h-1zM80,759h1v1h-1zM84,759h1v1h-1zM84,762h1v1h-1zM73,772h1v1h-1zM88,752h1v1h-1zM83,771h1v1h-1zM74,764h1v1h-1zM85,768h1v1h-1zM73,760h1v1h-1zM84,757h1v1h-1zM71,759h1v1h-1zM72,768h1v1h-1zM80,775h1v1h-1zM86,758h1v1h-1zM82,758h1v1h-1zM78,766h1v1h-1zM73,768h1v1h-1zM76,768h1v1h-1zM91,761h1v1h-1zM57,756h1v1h-1zM69,767h1v1h-1zM77,780h1v1h-1zM79,780h1v1h-1zM71,760h1v1h-1zM81,768h1v1h-1zM71,777h1v1h-1zM85,764h1v1h-1zM72,763h1v1h-1zM81,759h1v1h-1zM80,766h1v1h-1zM77,768h1v1h-1zM71,769h1v1h-1zM76,761h1v1h-1zM74,768h1v1h-1zM83,763h1v1h-1zM78,770h1v1h-1zM74,769h1v1h-1zM68,772h1v1h-1zM89,765h1v1h-1zM87,767h1v1h-1zM75,754h1v1h-1zM89,744h1v1h-1zM78,773h1v1h-1zM77,751h1v1h-1zM87,757h1v1h-1zM70,764h1v1h-1zM79,754h1v1h-1zM75,767h1v1h-1zM64,756h1v1h-1zM75,783h1v1h-1zM68,764h1v1h-1zM83,767h1v1h-1zM57,751h1v1h-1zM69,766h1v1h-1zM79,771h1v1h-1zM76,762h1v1h-1zM79,759h1v1h-1zM66,761h1v1h-1zM90,758h1v1h-1zM73,766h1v1h-1zM87,765h1v1h-1zM107,755h1v1h-1z" fill="#4040f0"/>
<path d="M84,770h1v1h-1zM78,773h1v1h-1zM76,762h1v1h-1zM85,756h1v1h-1zM78,778h1v1h-1zM64,760h1v1h-1zM78,764h1v1h-1zM73,765h1v1h-1zM80,759h1v1h-1zM71,765h1v1h-1zM67,757h1v1h-1zM68,759h1v1h-1zM67,745h1v1h-1zM79,759h1v1h-1zM66,753h1v1h-1zM81,760h1v1h-1zM75,759h1v1h-1zM73,759h1v1h-1zM87,763h1v1h-1zM63,777h1v1h-1zM85,773h1v1h-1zM76,763h1v1h-1zM80,764h1v1h-1zM71,756h1v1h-1zM79,773h1v1h-1zM67,772h1v1h-1zM79,768h1v1h-1zM75,769h1v1h-1zM77,771h1v1h-1zM95,769h1v1h-1zM82,760h1v1h-1zM75,772h1v1h-1zM85,755h1v1h-1zM81,762h1v1h-1zM74,759h1v1h-1zM67,771h1v1h-1zM76,766h1v1h-1zM74,763h1v1h-1zM79,774h1v1h-1zM61,763h1v1h-1zM80,772h1v1h-1zM70,766h1v1h-1zM79,771h1v1h-1zM73,773h1v1h-1zM75,765h1v1h-1zM70,763h1v1h-1zM72,759h1v1h-1zM75,752h1v1h-1zM67,762h1v1h-1zM72,762h1v1h-1zM70,774h1v1h-1zM70,770h1v1h-1zM78,775h1v1h-1zM93,762h1v1h-1zM75,776h1v1h-1zM83,771h1v1h-1zM73,750h1v1h-1zM74,760h1v1h-1zM65,758h1v1h-1zM71,773h1v1h-1zM78,752h1v1h-1zM75,767h1v1h-1zM72,762h1v1h-1zM81,763h1v1h-1zM80,774h1v1h-1zM67,787h1v1h-1zM74,761h1v1h-1zM75,767h1v1h-1zM68,764h1v1h-1zM72,775h1v1h-1zM64,769h1v1h-1zM77,762h1v1h-1zM77,766h1v1h-1zM85,761h1v1h-1zM88,743h1v1h-1zM89,773h1v1h-1zM78,756h1v1h-1zM71,764h1v1h-1zM78,766h1v1h-1zM68,761h1v1h-1zM80,773h1v1h-1zM74,760h1v1h-1zM73,763h1v1h-1zM80,760h1v1h-1zM82,762h1v1h-1zM75,761h1v1h-1zM87,762h1v1h-1zM71,777h1v1h-1zM85,764h1v1h-1zM74,766h1v1h-1zM85,758h1v1h-1zM86,763h1v1h-1zM67,760h1v1h-1zM70,766h1v1h-1zM81,764h1v1h-1zM78,767h1v1h-1zM87,763h1v1h-1zM79,759h1v1h-1zM74,773h1v1h-1zM77,770h1v1h-1zM75,750h1v1h-1zM87,762h1v1h-1zM72,771h1v1h-1zM68,758h1v1h-1zM75,764h1v1h-1zM84,764h1v1h-1zM81,768h1v1h-1zM74,773h1v1h-1zM68,768h1v1h-1zM62,756h1v1h-1zM65,762h1v1h-1zM66,767h1v1h-1zM70,771h1v1h-1zM75,753h1v1h-1zM70,773h1v1h-1zM69,767h1v1h-1zM66,752h1v1h-1zM67,761h1v1h-1zM73,757h1v1h-1zM83,764h1v1h-1zM67,762h1v1h-1zM73,758h1v1h-1zM77,760h1v1h-1zM66,767h1v1h-1zM72,760h1v1h-1zM80,792h1v1h-1zM71,762h1v1h-1zM88,762h1v1h-1zM74,767h1v1h-1zM88,773h1v1h-1zM86,764h1v1h-1zM70,776h1v1h-1zM73,746h1v1h-1zM76,770h1v1h-1zM75,759h1v1h-1zM76,759h1v1h-1zM69,783h1v1h-1zM88,772h1v1h-1zM81,776h1v1h-1zM75,755h1v1h-1zM77,760h1v1h-1zM94,768h1v1h-1zM69,756h1v1h-1zM87,746h1v1h-1zM77,767h1v1h-1zM74,762h1v1h-1zM84,751h1v1h-1zM76,768h1v1h-1zM65,763h1v1h-1zM81,769h1v1h-1zM78,767h1v1h-1zM71,762h1v1h-1zM89,755h1v1h-1zM73,758h1v1h-1zM68,766h1v1h-1zM70,768h1v1h-1zM75,767h1v1h-1zM76,766h1v1h-1zM87,751h1v1h-1zM65,760h1v1h-1zM75,754h1v1h-1zM60,771h1v1h-1zM80,763h1v1h-1zM77,754h1v1h-1zM83,779h1v1h-1zM81,763h1v1h-1zM69,761h1v1h-1zM75,767h1v1h-1zM86,747h1v1h-1zM86,768h1v1h-1zM94,770h1v1h-1zM80,775h1v1h-1zM73,760h1v1h-1zM87,769h1v1h-1zM85,762h1v1h-1zM70,769h1v1h-1zM83,774h1v1h-1zM75,760h1v1h-1zM74,767h1v1h-1zM78,762h1v1h-1zM83,774h1v1h-1zM60,768h1v1h-1zM118,769h1v1h-1zM106,778h1v1h-1zM96,759h1v1h-1z" fill="#a4a4f8"/>
<path d="M81,764h1v1h-1zM76,764h1v1h-1zM81,759h1v1h-1zM75,748h1v1h-1z" fill="#d04040"/>
<path d="M67,759h1v1h-1zM78,769h1v1h-1z" fill="#50b050"/>
<rect x="53.9" y="685.8" width="115.5" height="116.0" fill="none" stroke="#2a2a2a" stroke-width="1.0"/>
<rect x="108.6" y="712" width="51.20000000000002" height="82" fill="none" stroke="#9a9a9a" stroke-width="1"/>
<text x="157.7" y="707.7" font-size="14.1" text-anchor="end" font-weight="normal" fill="#111" >1.45%</text>
<path d="M50.9,691.6h3M52.4,697.1h1.5M52.4,702.6h1.5M52.4,708.1h1.5M50.9,713.6h3M52.4,719.1h1.5M52.4,724.7h1.5M52.4,730.2h1.5M50.9,735.7h3M52.4,741.2h1.5M52.4,746.7h1.5M52.4,752.2h1.5M50.9,757.7h3M52.4,763.2h1.5M52.4,768.7h1.5M52.4,774.2h1.5M50.9,779.8h3M52.4,785.3h1.5M52.4,790.8h1.5M52.4,796.3h1.5M77.0,801.8v3M60.8,801.8v1.5M65.5,801.8v1.5M68.9,801.8v1.5M71.2,801.8v1.5M73.1,801.8v1.5M74.7,801.8v1.5M75.8,801.8v1.5M100.1,801.8v3M83.9,801.8v1.5M88.5,801.8v1.5M92.0,801.8v1.5M94.3,801.8v1.5M96.2,801.8v1.5M97.8,801.8v1.5M98.9,801.8v1.5M123.2,801.8v3M107.0,801.8v1.5M111.7,801.8v1.5M115.1,801.8v1.5M117.4,801.8v1.5M119.3,801.8v1.5M120.9,801.8v1.5M122.0,801.8v1.5M146.3,801.8v3M130.1,801.8v1.5M134.8,801.8v1.5M138.2,801.8v1.5M140.5,801.8v1.5M142.4,801.8v1.5M144.0,801.8v1.5M145.1,801.8v1.5M169.4,801.8v3M153.2,801.8v1.5M157.8,801.8v1.5M161.3,801.8v1.5M163.6,801.8v1.5M165.5,801.8v1.5M167.1,801.8v1.5M168.2,801.8v1.5" stroke="#444" stroke-width="0.7" fill="none"/>
<path d="M69.5,803.8h14.4" stroke="#555" stroke-width="1.8" stroke-dasharray="3,1"/>
<path d="M215,777h1v1h-1zM205,761h1v1h-1zM207,765h1v1h-1zM219,761h1v1h-1zM202,760h1v1h-1zM217,766h1v1h-1zM224,763h1v1h-1zM199,764h1v1h-1zM221,777h1v1h-1zM215,745h1v1h-1zM212,753h1v1h-1zM206,740h1v1h-1zM223,757h1v1h-1zM206,762h1v1h-1zM204,746h1v1h-1zM217,761h1v1h-1zM221,734h1v1h-1zM209,768h1v1h-1zM219,774h1v1h-1zM214,756h1v1h-1zM214,782h1v1h-1zM218,782h1v1h-1zM217,752h1v1h-1zM216,749h1v1h-1zM211,747h1v1h-1zM223,756h1v1h-1zM205,763h1v1h-1zM217,758h1v1h-1zM220,750h1v1h-1zM213,742h1v1h-1zM216,765h1v1h-1zM205,749h1v1h-1zM211,766h1v1h-1zM216,768h1v1h-1zM217,755h1v1h-1zM211,760h1v1h-1zM213,754h1v1h-1zM203,758h1v1h-1zM214,742h1v1h-1zM217,761h1v1h-1zM216,752h1v1h-1zM212,757h1v1h-1zM206,751h1v1h-1zM211,741h1v1h-1zM214,761h1v1h-1zM209,754h1v1h-1zM217,761h1v1h-1zM218,759h1v1h-1zM213,736h1v1h-1zM211,750h1v1h-1zM216,744h1v1h-1zM211,781h1v1h-1zM208,743h1v1h-1zM205,760h1v1h-1zM215,767h1v1h-1zM215,764h1v1h-1zM213,748h1v1h-1zM215,758h1v1h-1zM215,780h1v1h-1zM210,750h1v1h-1zM214,748h1v1h-1zM215,771h1v1h-1zM217,761h1v1h-1zM213,769h1v1h-1zM219,749h1v1h-1zM204,759h1v1h-1zM212,764h1v1h-1zM212,757h1v1h-1zM215,756h1v1h-1zM213,731h1v1h-1zM210,772h1v1h-1zM212,752h1v1h-1zM216,766h1v1h-1zM212,756h1v1h-1zM212,753h1v1h-1zM215,766h1v1h-1zM217,755h1v1h-1zM222,769h1v1h-1zM210,764h1v1h-1zM212,748h1v1h-1zM207,744h1v1h-1zM210,769h1v1h-1zM212,749h1v1h-1zM220,766h1v1h-1zM213,765h1v1h-1zM207,761h1v1h-1zM211,755h1v1h-1zM220,752h1v1h-1zM217,786h1v1h-1zM214,751h1v1h-1zM212,760h1v1h-1zM213,750h1v1h-1zM217,742h1v1h-1zM214,744h1v1h-1zM217,767h1v1h-1zM210,756h1v1h-1zM214,764h1v1h-1zM215,783h1v1h-1zM217,756h1v1h-1zM218,754h1v1h-1zM217,749h1v1h-1zM220,744h1v1h-1zM220,766h1v1h-1zM216,748h1v1h-1zM211,732h1v1h-1zM219,748h1v1h-1zM212,752h1v1h-1zM211,759h1v1h-1zM210,761h1v1h-1zM224,744h1v1h-1zM214,764h1v1h-1zM208,760h1v1h-1zM210,731h1v1h-1zM211,769h1v1h-1zM223,728h1v1h-1zM217,769h1v1h-1zM211,724h1v1h-1zM216,769h1v1h-1zM214,741h1v1h-1zM213,761h1v1h-1zM203,750h1v1h-1zM216,760h1v1h-1zM211,761h1v1h-1zM216,753h1v1h-1zM213,768h1v1h-1zM212,772h1v1h-1zM217,752h1v1h-1zM218,758h1v1h-1zM213,758h1v1h-1zM206,754h1v1h-1zM212,769h1v1h-1zM216,771h1v1h-1zM208,752h1v1h-1zM208,777h1v1h-1zM211,761h1v1h-1zM216,743h1v1h-1zM213,743h1v1h-1zM215,777h1v1h-1zM219,755h1v1h-1zM206,778h1v1h-1zM199,754h1v1h-1zM216,767h1v1h-1zM215,758h1v1h-1zM214,770h1v1h-1zM217,754h1v1h-1zM222,758h1v1h-1zM222,750h1v1h-1zM210,766h1v1h-1zM214,776h1v1h-1zM205,774h1v1h-1zM216,770h1v1h-1zM207,762h1v1h-1zM215,758h1v1h-1zM215,742h1v1h-1zM216,766h1v1h-1zM209,781h1v1h-1zM214,760h1v1h-1zM215,760h1v1h-1zM207,745h1v1h-1zM212,747h1v1h-1zM218,778h1v1h-1zM216,772h1v1h-1zM206,757h1v1h-1zM212,754h1v1h-1zM211,762h1v1h-1zM215,724h1v1h-1zM217,757h1v1h-1zM207,788h1v1h-1zM218,753h1v1h-1zM219,755h1v1h-1zM208,764h1v1h-1zM212,757h1v1h-1zM225,744h1v1h-1zM213,765h1v1h-1zM209,766h1v1h-1zM213,749h1v1h-1zM214,767h1v1h-1zM216,762h1v1h-1zM203,777h1v1h-1zM216,747h1v1h-1zM206,771h1v1h-1zM209,747h1v1h-1zM213,753h1v1h-1zM209,768h1v1h-1zM212,745h1v1h-1zM204,772h1v1h-1zM212,765h1v1h-1zM213,766h1v1h-1zM213,769h1v1h-1zM224,741h1v1h-1zM215,784h1v1h-1zM207,783h1v1h-1zM210,755h1v1h-1zM209,771h1v1h-1zM202,762h1v1h-1zM214,750h1v1h-1zM208,753h1v1h-1zM213,747h1v1h-1zM211,748h1v1h-1zM212,750h1v1h-1zM209,758h1v1h-1zM217,763h1v1h-1zM201,757h1v1h-1zM216,751h1v1h-1zM211,760h1v1h-1zM215,772h1v1h-1zM211,765h1v1h-1zM213,758h1v1h-1zM218,767h1v1h-1zM218,772h1v1h-1zM222,756h1v1h-1zM228,753h1v1h-1zM207,769h1v1h-1zM218,758h1v1h-1zM215,745h1v1h-1zM209,756h1v1h-1zM220,750h1v1h-1zM210,760h1v1h-1zM208,750h1v1h-1zM207,747h1v1h-1zM215,773h1v1h-1zM223,748h1v1h-1zM208,759h1v1h-1zM212,756h1v1h-1zM215,757h1v1h-1zM215,770h1v1h-1zM202,740h1v1h-1zM218,760h1v1h-1zM214,762h1v1h-1zM213,747h1v1h-1zM205,776h1v1h-1zM206,761h1v1h-1zM213,784h1v1h-1zM211,767h1v1h-1zM199,759h1v1h-1zM215,772h1v1h-1zM211,754h1v1h-1zM218,771h1v1h-1zM213,778h1v1h-1zM210,754h1v1h-1zM213,766h1v1h-1zM216,768h1v1h-1zM206,763h1v1h-1zM215,753h1v1h-1zM204,770h1v1h-1zM212,760h1v1h-1zM217,768h1v1h-1zM261,779h1v1h-1zM276,774h1v1h-1zM259,782h1v1h-1zM257,776h1v1h-1zM268,775h1v1h-1zM274,766h1v1h-1zM258,775h1v1h-1zM263,778h1v1h-1zM258,771h1v1h-1zM257,784h1v1h-1zM262,780h1v1h-1zM273,767h1v1h-1zM276,759h1v1h-1zM277,761h1v1h-1zM263,766h1v1h-1zM240,784h1v1h-1zM264,774h1v1h-1zM265,771h1v1h-1zM258,783h1v1h-1zM262,770h1v1h-1zM269,777h1v1h-1zM266,760h1v1h-1zM260,783h1v1h-1zM253,783h1v1h-1zM250,769h1v1h-1zM237,782h1v1h-1zM260,784h1v1h-1zM256,777h1v1h-1zM270,766h1v1h-1zM259,772h1v1h-1zM280,755h1v1h-1zM261,773h1v1h-1zM261,775h1v1h-1zM259,780h1v1h-1zM261,773h1v1h-1zM246,791h1v1h-1zM276,777h1v1h-1zM276,750h1v1h-1zM269,755h1v1h-1zM263,747h1v1h-1z" fill="#4040f0"/>
<path d="M216,760h1v1h-1zM207,746h1v1h-1zM220,756h1v1h-1zM209,771h1v1h-1zM219,756h1v1h-1zM204,768h1v1h-1zM215,752h1v1h-1zM211,750h1v1h-1zM207,774h1v1h-1zM205,777h1v1h-1zM218,750h1v1h-1zM209,764h1v1h-1zM212,737h1v1h-1zM207,760h1v1h-1zM211,752h1v1h-1zM214,774h1v1h-1zM216,758h1v1h-1zM210,747h1v1h-1zM216,760h1v1h-1zM210,774h1v1h-1zM217,766h1v1h-1zM206,745h1v1h-1zM216,771h1v1h-1zM208,749h1v1h-1zM209,752h1v1h-1zM214,774h1v1h-1zM219,746h1v1h-1zM205,735h1v1h-1zM213,772h1v1h-1zM217,744h1v1h-1zM220,758h1v1h-1zM215,751h1v1h-1zM201,777h1v1h-1zM202,764h1v1h-1zM211,747h1v1h-1zM210,752h1v1h-1zM219,762h1v1h-1zM214,764h1v1h-1zM217,769h1v1h-1zM212,774h1v1h-1zM218,767h1v1h-1zM214,762h1v1h-1zM217,744h1v1h-1zM216,769h1v1h-1zM212,743h1v1h-1zM215,759h1v1h-1zM220,763h1v1h-1zM217,780h1v1h-1zM221,749h1v1h-1zM215,739h1v1h-1zM213,756h1v1h-1zM206,750h1v1h-1zM213,775h1v1h-1zM206,766h1v1h-1zM211,755h1v1h-1zM214,757h1v1h-1zM212,748h1v1h-1zM221,761h1v1h-1zM206,772h1v1h-1zM210,748h1v1h-1zM209,744h1v1h-1zM211,764h1v1h-1zM209,746h1v1h-1zM216,760h1v1h-1zM208,756h1v1h-1zM210,776h1v1h-1zM199,738h1v1h-1zM201,738h1v1h-1zM213,766h1v1h-1zM211,765h1v1h-1zM215,765h1v1h-1zM213,755h1v1h-1zM213,759h1v1h-1zM215,753h1v1h-1zM213,767h1v1h-1zM217,733h1v1h-1zM222,747h1v1h-1zM217,748h1v1h-1zM215,762h1v1h-1zM216,765h1v1h-1zM202,757h1v1h-1zM222,760h1v1h-1zM221,746h1v1h-1zM224,775h1v1h-1zM213,761h1v1h-1zM207,776h1v1h-1zM210,756h1v1h-1zM210,741h1v1h-1zM201,747h1v1h-1zM205,760h1v1h-1zM211,769h1v1h-1zM210,758h1v1h-1zM212,755h1v1h-1zM213,773h1v1h-1zM216,741h1v1h-1zM211,763h1v1h-1zM218,764h1v1h-1zM205,753h1v1h-1zM216,778h1v1h-1zM205,746h1v1h-1zM221,753h1v1h-1zM212,769h1v1h-1zM198,755h1v1h-1zM203,786h1v1h-1zM208,766h1v1h-1zM209,748h1v1h-1zM214,757h1v1h-1zM203,765h1v1h-1zM207,757h1v1h-1zM215,766h1v1h-1zM205,752h1v1h-1zM213,759h1v1h-1zM212,765h1v1h-1zM210,758h1v1h-1zM212,763h1v1h-1zM212,763h1v1h-1zM214,755h1v1h-1zM209,763h1v1h-1zM205,764h1v1h-1zM209,761h1v1h-1zM214,779h1v1h-1zM209,767h1v1h-1zM217,759h1v1h-1zM213,765h1v1h-1zM219,734h1v1h-1zM209,776h1v1h-1zM211,772h1v1h-1zM217,781h1v1h-1zM206,757h1v1h-1zM215,745h1v1h-1zM206,760h1v1h-1zM215,787h1v1h-1zM216,771h1v1h-1zM197,756h1v1h-1zM218,729h1v1h-1zM207,769h1v1h-1zM209,740h1v1h-1zM211,738h1v1h-1zM208,775h1v1h-1zM202,742h1v1h-1zM219,744h1v1h-1zM205,753h1v1h-1zM203,745h1v1h-1zM212,752h1v1h-1zM209,761h1v1h-1zM221,740h1v1h-1zM221,800h1v1h-1zM218,755h1v1h-1zM222,739h1v1h-1zM216,761h1v1h-1zM214,749h1v1h-1zM211,747h1v1h-1zM220,747h1v1h-1zM208,763h1v1h-1zM211,772h1v1h-1zM213,761h1v1h-1zM212,757h1v1h-1zM204,756h1v1h-1zM215,772h1v1h-1zM215,755h1v1h-1zM208,753h1v1h-1zM217,760h1v1h-1zM212,756h1v1h-1zM205,780h1v1h-1zM215,762h1v1h-1zM208,760h1v1h-1zM210,771h1v1h-1zM218,761h1v1h-1zM217,761h1v1h-1zM214,768h1v1h-1zM210,773h1v1h-1zM213,755h1v1h-1zM219,774h1v1h-1zM217,773h1v1h-1zM215,779h1v1h-1zM209,751h1v1h-1zM220,767h1v1h-1zM217,755h1v1h-1zM207,755h1v1h-1zM220,790h1v1h-1zM214,735h1v1h-1zM209,781h1v1h-1zM212,755h1v1h-1zM213,755h1v1h-1zM213,749h1v1h-1zM214,770h1v1h-1zM201,776h1v1h-1zM217,739h1v1h-1zM207,769h1v1h-1zM217,765h1v1h-1zM227,743h1v1h-1zM207,767h1v1h-1zM209,753h1v1h-1zM217,750h1v1h-1zM220,756h1v1h-1zM205,748h1v1h-1zM216,742h1v1h-1zM213,738h1v1h-1zM216,779h1v1h-1zM205,738h1v1h-1zM205,753h1v1h-1zM215,755h1v1h-1zM211,744h1v1h-1zM213,772h1v1h-1zM212,750h1v1h-1zM218,754h1v1h-1zM212,775h1v1h-1zM212,748h1v1h-1zM209,764h1v1h-1zM212,756h1v1h-1zM216,752h1v1h-1zM209,759h1v1h-1zM210,748h1v1h-1zM211,758h1v1h-1zM219,757h1v1h-1zM210,777h1v1h-1zM209,754h1v1h-1zM218,790h1v1h-1zM219,753h1v1h-1zM212,763h1v1h-1zM210,755h1v1h-1zM219,756h1v1h-1zM219,759h1v1h-1zM213,755h1v1h-1zM212,752h1v1h-1zM223,748h1v1h-1zM205,753h1v1h-1zM219,769h1v1h-1zM212,762h1v1h-1zM216,741h1v1h-1zM220,759h1v1h-1zM220,760h1v1h-1zM220,782h1v1h-1zM210,770h1v1h-1zM212,782h1v1h-1zM218,758h1v1h-1zM212,763h1v1h-1zM211,759h1v1h-1zM217,769h1v1h-1zM210,755h1v1h-1zM212,753h1v1h-1zM206,767h1v1h-1zM214,774h1v1h-1zM202,765h1v1h-1zM217,743h1v1h-1zM227,758h1v1h-1zM215,755h1v1h-1zM211,762h1v1h-1zM208,750h1v1h-1zM205,761h1v1h-1zM208,765h1v1h-1zM217,760h1v1h-1zM211,755h1v1h-1zM212,749h1v1h-1zM217,745h1v1h-1zM216,746h1v1h-1zM217,765h1v1h-1zM215,760h1v1h-1zM213,758h1v1h-1zM212,760h1v1h-1zM218,760h1v1h-1zM208,741h1v1h-1zM213,759h1v1h-1zM207,770h1v1h-1zM214,758h1v1h-1zM212,764h1v1h-1zM214,736h1v1h-1zM200,750h1v1h-1zM217,781h1v1h-1zM207,768h1v1h-1zM215,731h1v1h-1zM205,763h1v1h-1zM202,731h1v1h-1zM211,785h1v1h-1zM202,760h1v1h-1zM214,754h1v1h-1zM212,770h1v1h-1zM214,752h1v1h-1zM218,744h1v1h-1zM208,767h1v1h-1zM216,742h1v1h-1zM232,772h1v1h-1zM221,761h1v1h-1zM222,749h1v1h-1zM214,784h1v1h-1zM216,752h1v1h-1zM212,765h1v1h-1zM215,754h1v1h-1zM209,750h1v1h-1zM213,739h1v1h-1zM223,760h1v1h-1zM213,758h1v1h-1zM214,776h1v1h-1zM218,748h1v1h-1zM215,755h1v1h-1zM212,778h1v1h-1zM209,775h1v1h-1zM210,768h1v1h-1zM210,766h1v1h-1zM215,762h1v1h-1zM220,746h1v1h-1zM212,734h1v1h-1zM210,762h1v1h-1zM218,764h1v1h-1zM213,753h1v1h-1zM205,737h1v1h-1zM216,761h1v1h-1zM201,764h1v1h-1zM211,758h1v1h-1zM213,768h1v1h-1zM208,762h1v1h-1zM212,764h1v1h-1zM224,762h1v1h-1zM214,763h1v1h-1zM201,766h1v1h-1zM197,769h1v1h-1zM213,752h1v1h-1zM211,752h1v1h-1zM210,760h1v1h-1zM201,773h1v1h-1zM209,753h1v1h-1zM203,758h1v1h-1zM215,762h1v1h-1zM203,760h1v1h-1zM212,747h1v1h-1zM213,745h1v1h-1zM205,754h1v1h-1zM221,767h1v1h-1zM211,767h1v1h-1zM224,766h1v1h-1zM214,755h1v1h-1zM216,765h1v1h-1zM219,760h1v1h-1zM218,744h1v1h-1zM198,757h1v1h-1zM212,773h1v1h-1zM210,759h1v1h-1zM219,747h1v1h-1zM217,748h1v1h-1zM205,758h1v1h-1zM208,758h1v1h-1zM210,758h1v1h-1zM211,759h1v1h-1zM211,757h1v1h-1zM213,756h1v1h-1zM215,749h1v1h-1zM218,755h1v1h-1zM209,759h1v1h-1zM213,763h1v1h-1zM205,753h1v1h-1zM208,750h1v1h-1zM213,760h1v1h-1zM223,746h1v1h-1zM201,748h1v1h-1zM217,752h1v1h-1zM212,769h1v1h-1zM219,755h1v1h-1zM204,775h1v1h-1zM204,768h1v1h-1zM223,742h1v1h-1zM212,745h1v1h-1zM209,783h1v1h-1zM216,741h1v1h-1zM220,763h1v1h-1zM212,752h1v1h-1zM210,769h1v1h-1zM213,763h1v1h-1zM268,765h1v1h-1zM281,759h1v1h-1zM255,779h1v1h-1zM287,761h1v1h-1zM287,770h1v1h-1zM260,780h1v1h-1zM274,784h1v1h-1zM250,789h1v1h-1zM270,766h1v1h-1zM261,778h1v1h-1zM271,763h1v1h-1zM269,780h1v1h-1zM268,782h1v1h-1zM276,769h1v1h-1zM264,772h1v1h-1zM247,785h1v1h-1zM247,777h1v1h-1zM245,788h1v1h-1zM252,789h1v1h-1zM266,771h1v1h-1zM279,752h1v1h-1zM256,787h1v1h-1zM261,770h1v1h-1zM266,774h1v1h-1zM289,757h1v1h-1zM273,767h1v1h-1zM270,771h1v1h-1zM275,779h1v1h-1zM264,777h1v1h-1zM279,776h1v1h-1zM270,767h1v1h-1zM274,768h1v1h-1zM270,778h1v1h-1zM253,782h1v1h-1zM269,768h1v1h-1zM247,791h1v1h-1zM265,766h1v1h-1zM269,767h1v1h-1zM270,769h1v1h-1zM282,762h1v1h-1zM276,766h1v1h-1zM258,779h1v1h-1zM269,779h1v1h-1zM250,779h1v1h-1zM251,781h1v1h-1zM254,780h1v1h-1zM261,781h1v1h-1zM258,779h1v1h-1zM270,771h1v1h-1zM261,781h1v1h-1zM275,767h1v1h-1zM256,777h1v1h-1zM261,776h1v1h-1zM282,767h1v1h-1zM279,767h1v1h-1zM263,784h1v1h-1zM264,776h1v1h-1zM271,775h1v1h-1zM256,773h1v1h-1zM263,775h1v1h-1zM254,769h1v1h-1zM257,783h1v1h-1zM254,774h1v1h-1zM261,780h1v1h-1zM251,783h1v1h-1zM238,784h1v1h-1zM262,779h1v1h-1zM268,771h1v1h-1zM270,775h1v1h-1zM269,764h1v1h-1zM279,759h1v1h-1zM254,788h1v1h-1zM285,750h1v1h-1zM263,735h1v1h-1zM271,757h1v1h-1zM274,749h1v1h-1zM274,764h1v1h-1z" fill="#a4a4f8"/>
<path d="M215,760h1v1h-1z" fill="#d04040"/>
<path d="M217,761h1v1h-1zM205,767h1v1h-1zM216,733h1v1h-1zM212,763h1v1h-1zM214,771h1v1h-1z" fill="#50b050"/>
<rect x="188.7" y="684.5" width="116.5" height="118.20000000000005" fill="none" stroke="#2a2a2a" stroke-width="1.0"/>
<rect x="238.6" y="713.8" width="60.400000000000006" height="80.20000000000005" fill="none" stroke="#9a9a9a" stroke-width="1"/>
<text x="288.9" y="707.7" font-size="14.1" text-anchor="end" font-weight="normal" fill="#111" >11.7%</text>
<path d="M185.7,690.4h3M187.2,696.0h1.5M187.2,701.6h1.5M187.2,707.3h1.5M185.7,712.9h3M187.2,718.5h1.5M187.2,724.1h1.5M187.2,729.7h1.5M185.7,735.3h3M187.2,740.9h1.5M187.2,746.6h1.5M187.2,752.2h1.5M185.7,757.8h3M187.2,763.4h1.5M187.2,769.0h1.5M187.2,774.6h1.5M185.7,780.2h3M187.2,785.9h1.5M187.2,791.5h1.5M187.2,797.1h1.5M212.0,802.7v3M195.7,802.7v1.5M200.3,802.7v1.5M203.8,802.7v1.5M206.2,802.7v1.5M208.0,802.7v1.5M209.7,802.7v1.5M210.8,802.7v1.5M235.3,802.7v3M219.0,802.7v1.5M223.6,802.7v1.5M227.1,802.7v1.5M229.5,802.7v1.5M231.3,802.7v1.5M233.0,802.7v1.5M234.1,802.7v1.5M258.6,802.7v3M242.3,802.7v1.5M247.0,802.7v1.5M250.4,802.7v1.5M252.8,802.7v1.5M254.6,802.7v1.5M256.3,802.7v1.5M257.4,802.7v1.5M281.9,802.7v3M265.6,802.7v1.5M270.2,802.7v1.5M273.7,802.7v1.5M276.1,802.7v1.5M277.9,802.7v1.5M279.6,802.7v1.5M280.7,802.7v1.5M305.2,802.7v3M288.9,802.7v1.5M293.6,802.7v1.5M297.0,802.7v1.5M299.4,802.7v1.5M301.2,802.7v1.5M302.9,802.7v1.5M304.0,802.7v1.5" stroke="#444" stroke-width="0.7" fill="none"/>
<path d="M204.4,804.7h14.6" stroke="#555" stroke-width="1.8" stroke-dasharray="3,1"/>
<path d="M85,916h1v1h-1zM79,902h1v1h-1zM75,896h1v1h-1zM78,904h1v1h-1zM73,892h1v1h-1zM80,907h1v1h-1zM86,912h1v1h-1zM68,893h1v1h-1zM79,895h1v1h-1zM71,891h1v1h-1zM73,894h1v1h-1zM87,904h1v1h-1zM80,911h1v1h-1zM71,889h1v1h-1zM71,903h1v1h-1zM84,907h1v1h-1zM76,898h1v1h-1zM76,905h1v1h-1zM76,900h1v1h-1zM84,900h1v1h-1zM80,900h1v1h-1zM79,916h1v1h-1zM74,894h1v1h-1zM84,903h1v1h-1zM76,906h1v1h-1zM80,892h1v1h-1zM85,903h1v1h-1zM76,898h1v1h-1zM75,911h1v1h-1zM78,893h1v1h-1zM83,890h1v1h-1zM73,898h1v1h-1zM71,891h1v1h-1zM79,910h1v1h-1zM74,901h1v1h-1zM74,891h1v1h-1zM80,897h1v1h-1zM75,901h1v1h-1zM86,893h1v1h-1zM86,887h1v1h-1zM81,890h1v1h-1zM76,911h1v1h-1zM83,894h1v1h-1zM71,901h1v1h-1zM79,900h1v1h-1zM87,900h1v1h-1zM82,897h1v1h-1zM60,904h1v1h-1zM77,905h1v1h-1zM74,903h1v1h-1zM72,905h1v1h-1zM78,895h1v1h-1zM85,910h1v1h-1zM87,890h1v1h-1zM80,907h1v1h-1zM75,900h1v1h-1zM67,900h1v1h-1zM82,901h1v1h-1zM79,907h1v1h-1zM83,905h1v1h-1zM85,902h1v1h-1zM72,912h1v1h-1zM65,907h1v1h-1zM80,896h1v1h-1zM79,894h1v1h-1zM77,901h1v1h-1zM79,900h1v1h-1zM128,884h1v1h-1z" fill="#4040f0"/>
<path d="M77,902h1v1h-1zM75,900h1v1h-1zM79,916h1v1h-1zM89,903h1v1h-1zM82,897h1v1h-1zM75,906h1v1h-1zM70,903h1v1h-1zM85,901h1v1h-1zM83,893h1v1h-1zM71,883h1v1h-1zM75,895h1v1h-1zM77,895h1v1h-1zM70,900h1v1h-1zM78,892h1v1h-1zM76,898h1v1h-1zM76,900h1v1h-1zM73,905h1v1h-1zM90,899h1v1h-1zM76,895h1v1h-1zM85,903h1v1h-1zM75,906h1v1h-1zM78,914h1v1h-1zM78,885h1v1h-1zM73,903h1v1h-1zM68,904h1v1h-1zM78,895h1v1h-1zM76,907h1v1h-1zM85,907h1v1h-1zM79,906h1v1h-1zM80,915h1v1h-1zM71,903h1v1h-1zM72,916h1v1h-1zM75,898h1v1h-1zM78,900h1v1h-1zM88,900h1v1h-1zM80,908h1v1h-1zM87,894h1v1h-1zM81,910h1v1h-1zM75,899h1v1h-1zM83,897h1v1h-1zM87,890h1v1h-1zM80,899h1v1h-1zM77,904h1v1h-1zM79,911h1v1h-1zM70,900h1v1h-1zM71,905h1v1h-1zM76,904h1v1h-1zM75,903h1v1h-1zM80,901h1v1h-1zM78,897h1v1h-1zM77,909h1v1h-1zM81,909h1v1h-1zM83,899h1v1h-1zM80,891h1v1h-1zM77,900h1v1h-1zM76,907h1v1h-1zM81,901h1v1h-1zM74,899h1v1h-1zM72,899h1v1h-1zM78,908h1v1h-1zM76,917h1v1h-1zM78,896h1v1h-1zM78,888h1v1h-1zM85,897h1v1h-1zM78,888h1v1h-1zM81,892h1v1h-1zM74,905h1v1h-1zM68,912h1v1h-1zM76,905h1v1h-1zM74,902h1v1h-1zM85,911h1v1h-1zM80,904h1v1h-1zM76,900h1v1h-1zM75,903h1v1h-1zM90,902h1v1h-1zM69,896h1v1h-1zM87,886h1v1h-1zM88,892h1v1h-1zM90,919h1v1h-1zM76,902h1v1h-1zM70,901h1v1h-1zM72,906h1v1h-1zM67,902h1v1h-1zM84,895h1v1h-1zM81,906h1v1h-1zM86,895h1v1h-1zM79,904h1v1h-1zM79,891h1v1h-1zM90,918h1v1h-1zM78,883h1v1h-1zM89,899h1v1h-1zM91,893h1v1h-1zM81,906h1v1h-1zM70,898h1v1h-1zM81,905h1v1h-1zM80,882h1v1h-1zM64,903h1v1h-1zM73,890h1v1h-1zM80,897h1v1h-1zM78,899h1v1h-1zM77,903h1v1h-1zM75,894h1v1h-1zM80,895h1v1h-1zM81,900h1v1h-1zM84,905h1v1h-1zM78,908h1v1h-1zM82,891h1v1h-1zM79,892h1v1h-1zM79,906h1v1h-1zM80,902h1v1h-1zM82,906h1v1h-1zM78,895h1v1h-1zM83,907h1v1h-1zM93,896h1v1h-1zM83,912h1v1h-1zM73,897h1v1h-1zM65,899h1v1h-1zM71,902h1v1h-1zM78,897h1v1h-1zM74,898h1v1h-1zM75,892h1v1h-1zM122,883h1v1h-1zM120,880h1v1h-1zM124,881h1v1h-1z" fill="#a4a4f8"/>
<path d="M76,893h1v1h-1z" fill="#d04040"/>
<path d="M75,896h1v1h-1z" fill="#50b050"/>
<rect x="53.9" y="818.8" width="116.0" height="116.10000000000002" fill="none" stroke="#2a2a2a" stroke-width="1.0"/>
<rect x="109.5" y="846" width="51.19999999999999" height="81.79999999999995" fill="none" stroke="#9a9a9a" stroke-width="1"/>
<text x="157.7" y="838.5" font-size="14.1" text-anchor="end" font-weight="normal" fill="#111" >1.53%</text>
<path d="M50.9,824.6h3M52.4,830.1h1.5M52.4,835.6h1.5M52.4,841.1h1.5M50.9,846.7h3M52.4,852.2h1.5M52.4,857.7h1.5M52.4,863.2h1.5M50.9,868.7h3M52.4,874.2h1.5M52.4,879.8h1.5M52.4,885.3h1.5M50.9,890.8h3M52.4,896.3h1.5M52.4,901.8h1.5M52.4,907.3h1.5M50.9,912.8h3M52.4,918.4h1.5M52.4,923.9h1.5M52.4,929.4h1.5M77.1,934.9v3M60.9,934.9v1.5M65.5,934.9v1.5M69.0,934.9v1.5M71.3,934.9v1.5M73.2,934.9v1.5M74.8,934.9v1.5M75.9,934.9v1.5M100.3,934.9v3M84.1,934.9v1.5M88.7,934.9v1.5M92.2,934.9v1.5M94.5,934.9v1.5M96.4,934.9v1.5M98.0,934.9v1.5M99.1,934.9v1.5M123.5,934.9v3M107.3,934.9v1.5M111.9,934.9v1.5M115.4,934.9v1.5M117.7,934.9v1.5M119.6,934.9v1.5M121.2,934.9v1.5M122.3,934.9v1.5M146.7,934.9v3M130.5,934.9v1.5M135.1,934.9v1.5M138.6,934.9v1.5M140.9,934.9v1.5M142.8,934.9v1.5M144.4,934.9v1.5M145.5,934.9v1.5M169.9,934.9v3M153.7,934.9v1.5M158.3,934.9v1.5M161.8,934.9v1.5M164.1,934.9v1.5M166.0,934.9v1.5M167.6,934.9v1.5M168.7,934.9v1.5" stroke="#444" stroke-width="0.7" fill="none"/>
<path d="M69.6,936.9h14.5" stroke="#555" stroke-width="1.8" stroke-dasharray="3,1"/>
<path d="M208,896h1v1h-1zM204,877h1v1h-1zM214,906h1v1h-1zM217,888h1v1h-1zM213,869h1v1h-1zM216,908h1v1h-1zM213,888h1v1h-1zM225,890h1v1h-1zM201,910h1v1h-1zM205,911h1v1h-1zM211,897h1v1h-1zM212,898h1v1h-1zM226,864h1v1h-1zM217,904h1v1h-1zM208,899h1v1h-1zM215,918h1v1h-1zM224,889h1v1h-1zM215,895h1v1h-1zM203,888h1v1h-1zM204,879h1v1h-1zM203,881h1v1h-1zM215,882h1v1h-1zM222,886h1v1h-1zM208,898h1v1h-1zM206,889h1v1h-1zM215,892h1v1h-1zM212,897h1v1h-1zM207,881h1v1h-1zM229,887h1v1h-1zM204,915h1v1h-1zM215,885h1v1h-1zM209,901h1v1h-1zM210,901h1v1h-1zM206,914h1v1h-1zM214,879h1v1h-1zM203,907h1v1h-1zM206,897h1v1h-1zM211,891h1v1h-1zM210,893h1v1h-1zM207,899h1v1h-1zM214,904h1v1h-1zM207,905h1v1h-1zM217,880h1v1h-1zM208,902h1v1h-1zM223,917h1v1h-1zM212,899h1v1h-1zM217,909h1v1h-1zM212,894h1v1h-1zM202,888h1v1h-1zM218,893h1v1h-1zM205,888h1v1h-1zM212,907h1v1h-1zM204,892h1v1h-1zM207,893h1v1h-1zM224,900h1v1h-1zM214,899h1v1h-1zM206,894h1v1h-1zM209,920h1v1h-1zM207,885h1v1h-1zM202,884h1v1h-1zM201,896h1v1h-1zM204,887h1v1h-1zM213,883h1v1h-1zM195,892h1v1h-1zM220,916h1v1h-1zM210,895h1v1h-1zM221,894h1v1h-1zM220,899h1v1h-1zM206,914h1v1h-1zM221,895h1v1h-1zM208,887h1v1h-1zM211,876h1v1h-1zM223,903h1v1h-1zM211,868h1v1h-1zM213,895h1v1h-1zM220,899h1v1h-1zM208,889h1v1h-1zM196,896h1v1h-1zM215,909h1v1h-1zM218,893h1v1h-1zM209,915h1v1h-1zM219,889h1v1h-1zM204,905h1v1h-1zM211,915h1v1h-1zM207,908h1v1h-1zM203,902h1v1h-1zM210,905h1v1h-1zM217,899h1v1h-1zM211,899h1v1h-1zM217,900h1v1h-1zM229,887h1v1h-1zM228,879h1v1h-1zM208,866h1v1h-1zM218,907h1v1h-1zM219,883h1v1h-1zM218,886h1v1h-1zM216,883h1v1h-1zM215,888h1v1h-1zM226,899h1v1h-1zM223,877h1v1h-1zM202,901h1v1h-1zM217,876h1v1h-1zM206,875h1v1h-1zM212,900h1v1h-1zM210,901h1v1h-1zM209,904h1v1h-1zM213,867h1v1h-1zM203,890h1v1h-1zM203,898h1v1h-1zM216,886h1v1h-1zM209,906h1v1h-1zM206,912h1v1h-1zM207,905h1v1h-1zM216,881h1v1h-1zM217,891h1v1h-1zM207,902h1v1h-1zM214,878h1v1h-1zM198,892h1v1h-1zM215,905h1v1h-1zM221,898h1v1h-1zM223,857h1v1h-1zM207,902h1v1h-1zM212,909h1v1h-1zM208,898h1v1h-1zM208,908h1v1h-1zM212,880h1v1h-1zM211,882h1v1h-1zM218,868h1v1h-1zM208,895h1v1h-1zM216,890h1v1h-1zM203,904h1v1h-1zM209,888h1v1h-1zM209,892h1v1h-1zM212,897h1v1h-1zM215,900h1v1h-1zM206,892h1v1h-1zM220,903h1v1h-1zM219,884h1v1h-1zM209,904h1v1h-1zM211,903h1v1h-1zM211,899h1v1h-1zM214,887h1v1h-1zM205,889h1v1h-1zM215,895h1v1h-1zM207,905h1v1h-1zM215,880h1v1h-1zM219,888h1v1h-1zM212,894h1v1h-1zM204,906h1v1h-1zM208,886h1v1h-1zM199,906h1v1h-1zM233,892h1v1h-1zM216,902h1v1h-1zM212,917h1v1h-1zM218,892h1v1h-1zM220,891h1v1h-1zM217,874h1v1h-1zM203,895h1v1h-1zM210,886h1v1h-1zM219,881h1v1h-1zM213,911h1v1h-1zM203,885h1v1h-1zM229,908h1v1h-1zM216,894h1v1h-1zM212,883h1v1h-1zM207,882h1v1h-1zM214,878h1v1h-1zM215,890h1v1h-1zM213,895h1v1h-1zM216,899h1v1h-1zM206,898h1v1h-1zM231,907h1v1h-1zM203,906h1v1h-1zM204,883h1v1h-1zM197,893h1v1h-1zM224,901h1v1h-1zM212,884h1v1h-1zM217,889h1v1h-1zM202,890h1v1h-1zM211,896h1v1h-1zM214,889h1v1h-1zM224,887h1v1h-1zM220,885h1v1h-1zM200,904h1v1h-1zM218,888h1v1h-1zM209,902h1v1h-1zM211,909h1v1h-1zM218,884h1v1h-1zM223,880h1v1h-1zM229,901h1v1h-1zM212,904h1v1h-1zM215,885h1v1h-1zM218,876h1v1h-1zM218,899h1v1h-1zM221,897h1v1h-1zM214,903h1v1h-1zM214,888h1v1h-1zM221,885h1v1h-1zM216,903h1v1h-1zM213,890h1v1h-1zM213,898h1v1h-1zM203,894h1v1h-1zM206,881h1v1h-1zM205,904h1v1h-1zM210,904h1v1h-1zM222,904h1v1h-1zM228,895h1v1h-1zM206,896h1v1h-1zM222,879h1v1h-1zM211,894h1v1h-1zM213,894h1v1h-1zM217,897h1v1h-1zM216,883h1v1h-1zM216,865h1v1h-1zM226,885h1v1h-1zM215,879h1v1h-1zM214,889h1v1h-1zM216,912h1v1h-1zM213,892h1v1h-1zM207,902h1v1h-1zM216,890h1v1h-1zM211,892h1v1h-1zM211,886h1v1h-1zM216,892h1v1h-1zM210,885h1v1h-1zM204,907h1v1h-1zM199,884h1v1h-1zM207,890h1v1h-1zM208,892h1v1h-1zM217,909h1v1h-1zM209,899h1v1h-1zM214,905h1v1h-1zM220,892h1v1h-1zM221,899h1v1h-1zM205,876h1v1h-1zM212,913h1v1h-1zM218,906h1v1h-1zM216,885h1v1h-1zM212,906h1v1h-1zM203,904h1v1h-1zM202,900h1v1h-1zM214,884h1v1h-1zM206,902h1v1h-1zM204,886h1v1h-1zM211,887h1v1h-1zM215,894h1v1h-1zM205,905h1v1h-1zM209,896h1v1h-1zM227,879h1v1h-1zM218,891h1v1h-1zM209,912h1v1h-1zM197,888h1v1h-1zM204,882h1v1h-1zM208,902h1v1h-1zM216,899h1v1h-1zM214,879h1v1h-1zM215,886h1v1h-1zM222,895h1v1h-1zM203,912h1v1h-1zM212,905h1v1h-1zM212,895h1v1h-1zM212,891h1v1h-1zM218,880h1v1h-1zM218,861h1v1h-1zM219,920h1v1h-1zM211,904h1v1h-1zM212,873h1v1h-1zM208,898h1v1h-1zM214,898h1v1h-1zM218,904h1v1h-1zM222,896h1v1h-1zM213,897h1v1h-1zM202,890h1v1h-1zM208,889h1v1h-1zM212,910h1v1h-1zM218,888h1v1h-1zM214,884h1v1h-1zM218,908h1v1h-1zM216,888h1v1h-1zM212,890h1v1h-1zM208,915h1v1h-1zM208,898h1v1h-1zM219,914h1v1h-1zM223,886h1v1h-1zM218,888h1v1h-1zM213,904h1v1h-1zM228,887h1v1h-1zM205,882h1v1h-1zM215,890h1v1h-1zM217,892h1v1h-1zM214,886h1v1h-1zM212,890h1v1h-1zM219,891h1v1h-1zM205,885h1v1h-1zM220,891h1v1h-1zM216,881h1v1h-1zM213,886h1v1h-1zM216,892h1v1h-1zM220,884h1v1h-1zM207,910h1v1h-1zM218,899h1v1h-1zM199,894h1v1h-1zM206,887h1v1h-1zM202,875h1v1h-1zM213,909h1v1h-1zM234,886h1v1h-1zM214,906h1v1h-1zM205,885h1v1h-1zM227,897h1v1h-1zM203,890h1v1h-1zM225,910h1v1h-1zM191,872h1v1h-1zM214,903h1v1h-1zM220,903h1v1h-1zM210,897h1v1h-1zM227,899h1v1h-1zM204,893h1v1h-1zM207,891h1v1h-1zM217,892h1v1h-1zM220,895h1v1h-1zM203,887h1v1h-1zM226,895h1v1h-1zM215,908h1v1h-1zM214,883h1v1h-1zM221,904h1v1h-1zM229,897h1v1h-1zM204,895h1v1h-1zM218,904h1v1h-1zM220,889h1v1h-1zM213,906h1v1h-1zM203,879h1v1h-1zM217,907h1v1h-1zM215,888h1v1h-1zM210,878h1v1h-1zM207,899h1v1h-1zM210,884h1v1h-1zM223,899h1v1h-1zM212,897h1v1h-1zM229,900h1v1h-1zM210,890h1v1h-1zM202,907h1v1h-1zM214,908h1v1h-1zM225,890h1v1h-1zM213,882h1v1h-1zM218,892h1v1h-1zM211,884h1v1h-1zM221,886h1v1h-1zM203,899h1v1h-1zM223,884h1v1h-1zM200,889h1v1h-1zM206,907h1v1h-1zM212,876h1v1h-1zM217,904h1v1h-1zM217,911h1v1h-1zM218,904h1v1h-1zM208,897h1v1h-1zM211,878h1v1h-1zM208,889h1v1h-1zM267,901h1v1h-1zM284,899h1v1h-1zM252,917h1v1h-1zM273,896h1v1h-1zM256,922h1v1h-1zM258,915h1v1h-1zM251,916h1v1h-1zM260,907h1v1h-1zM249,926h1v1h-1zM249,921h1v1h-1zM275,902h1v1h-1zM258,904h1v1h-1zM257,913h1v1h-1zM261,910h1v1h-1zM242,916h1v1h-1zM283,895h1v1h-1zM268,904h1v1h-1zM269,907h1v1h-1zM259,916h1v1h-1zM267,900h1v1h-1zM269,900h1v1h-1zM265,906h1v1h-1zM269,909h1v1h-1zM292,895h1v1h-1zM261,902h1v1h-1zM275,895h1v1h-1zM256,898h1v1h-1zM274,898h1v1h-1zM258,902h1v1h-1zM273,894h1v1h-1zM257,910h1v1h-1zM277,892h1v1h-1zM260,915h1v1h-1zM287,897h1v1h-1zM261,904h1v1h-1zM259,913h1v1h-1zM287,901h1v1h-1zM272,896h1v1h-1zM249,924h1v1h-1zM269,895h1v1h-1zM274,911h1v1h-1zM260,918h1v1h-1zM268,905h1v1h-1zM256,923h1v1h-1zM260,908h1v1h-1zM240,914h1v1h-1zM257,914h1v1h-1zM258,908h1v1h-1zM270,906h1v1h-1zM275,898h1v1h-1zM256,909h1v1h-1zM276,896h1v1h-1zM287,900h1v1h-1zM264,902h1v1h-1zM273,873h1v1h-1zM285,884h1v1h-1zM262,870h1v1h-1zM263,899h1v1h-1z" fill="#4040f0"/>
<path d="M216,876h1v1h-1zM212,876h1v1h-1zM220,898h1v1h-1zM211,906h1v1h-1zM208,880h1v1h-1zM219,893h1v1h-1zM211,904h1v1h-1zM212,900h1v1h-1zM223,889h1v1h-1zM225,879h1v1h-1zM210,898h1v1h-1zM211,909h1v1h-1zM215,897h1v1h-1zM220,876h1v1h-1zM218,894h1v1h-1zM222,893h1v1h-1zM217,892h1v1h-1zM206,887h1v1h-1zM212,878h1v1h-1zM214,894h1v1h-1zM218,875h1v1h-1zM207,883h1v1h-1zM221,896h1v1h-1zM208,901h1v1h-1zM213,914h1v1h-1zM207,892h1v1h-1zM227,871h1v1h-1zM210,896h1v1h-1zM221,881h1v1h-1zM209,907h1v1h-1zM208,884h1v1h-1zM205,891h1v1h-1zM205,901h1v1h-1zM202,903h1v1h-1zM217,903h1v1h-1zM219,894h1v1h-1zM214,911h1v1h-1zM210,893h1v1h-1zM211,904h1v1h-1zM227,889h1v1h-1zM206,905h1v1h-1zM214,901h1v1h-1zM210,907h1v1h-1zM219,895h1v1h-1zM212,891h1v1h-1zM214,888h1v1h-1zM219,877h1v1h-1zM223,917h1v1h-1zM214,899h1v1h-1zM222,883h1v1h-1zM211,899h1v1h-1zM213,890h1v1h-1zM200,921h1v1h-1zM218,882h1v1h-1zM216,873h1v1h-1zM213,898h1v1h-1zM212,890h1v1h-1zM227,872h1v1h-1zM211,892h1v1h-1zM201,900h1v1h-1zM214,899h1v1h-1zM222,900h1v1h-1zM203,894h1v1h-1zM224,884h1v1h-1zM216,898h1v1h-1zM209,881h1v1h-1zM215,894h1v1h-1zM213,896h1v1h-1zM213,900h1v1h-1zM224,892h1v1h-1zM214,877h1v1h-1zM220,894h1v1h-1zM220,905h1v1h-1zM209,900h1v1h-1zM216,891h1v1h-1zM227,869h1v1h-1zM216,877h1v1h-1zM217,899h1v1h-1zM224,902h1v1h-1zM209,885h1v1h-1zM224,894h1v1h-1zM217,891h1v1h-1zM204,899h1v1h-1zM208,876h1v1h-1zM207,909h1v1h-1zM205,908h1v1h-1zM216,889h1v1h-1zM221,907h1v1h-1zM211,884h1v1h-1zM211,893h1v1h-1zM208,908h1v1h-1zM205,881h1v1h-1zM211,901h1v1h-1zM201,898h1v1h-1zM212,893h1v1h-1zM199,898h1v1h-1zM218,905h1v1h-1zM211,906h1v1h-1zM214,883h1v1h-1zM217,904h1v1h-1zM215,893h1v1h-1zM211,900h1v1h-1zM214,906h1v1h-1zM231,897h1v1h-1zM208,887h1v1h-1zM214,879h1v1h-1zM219,894h1v1h-1zM205,895h1v1h-1zM215,906h1v1h-1zM227,886h1v1h-1zM216,885h1v1h-1zM214,905h1v1h-1zM217,890h1v1h-1zM225,903h1v1h-1zM222,892h1v1h-1zM219,894h1v1h-1zM213,876h1v1h-1zM209,894h1v1h-1zM217,900h1v1h-1zM199,909h1v1h-1zM214,896h1v1h-1zM210,909h1v1h-1zM220,880h1v1h-1zM227,887h1v1h-1zM211,888h1v1h-1zM218,883h1v1h-1zM227,884h1v1h-1zM219,881h1v1h-1zM220,895h1v1h-1zM223,916h1v1h-1zM224,875h1v1h-1zM209,873h1v1h-1zM217,886h1v1h-1zM210,897h1v1h-1zM199,892h1v1h-1zM212,905h1v1h-1zM206,876h1v1h-1zM217,874h1v1h-1zM214,878h1v1h-1zM223,901h1v1h-1zM207,888h1v1h-1zM210,887h1v1h-1zM220,886h1v1h-1zM208,884h1v1h-1zM229,887h1v1h-1zM220,891h1v1h-1zM200,847h1v1h-1zM211,872h1v1h-1zM216,913h1v1h-1zM216,878h1v1h-1zM208,895h1v1h-1zM219,879h1v1h-1zM207,875h1v1h-1zM225,896h1v1h-1zM212,907h1v1h-1zM217,890h1v1h-1zM211,893h1v1h-1zM220,909h1v1h-1zM219,895h1v1h-1zM202,894h1v1h-1zM204,897h1v1h-1zM219,883h1v1h-1zM217,903h1v1h-1zM209,902h1v1h-1zM212,895h1v1h-1zM217,887h1v1h-1zM208,900h1v1h-1zM206,869h1v1h-1zM218,899h1v1h-1zM205,905h1v1h-1zM210,892h1v1h-1zM215,887h1v1h-1zM216,878h1v1h-1zM214,889h1v1h-1zM209,892h1v1h-1zM215,877h1v1h-1zM216,926h1v1h-1zM219,886h1v1h-1zM216,912h1v1h-1zM209,907h1v1h-1zM219,897h1v1h-1zM207,905h1v1h-1zM212,882h1v1h-1zM214,903h1v1h-1zM201,894h1v1h-1zM215,882h1v1h-1zM226,897h1v1h-1zM220,883h1v1h-1zM222,891h1v1h-1zM221,897h1v1h-1zM209,888h1v1h-1zM209,881h1v1h-1zM219,891h1v1h-1zM204,898h1v1h-1zM216,919h1v1h-1zM215,865h1v1h-1zM210,892h1v1h-1zM215,891h1v1h-1zM209,904h1v1h-1zM216,901h1v1h-1zM218,896h1v1h-1zM226,902h1v1h-1zM208,883h1v1h-1zM206,911h1v1h-1zM216,886h1v1h-1zM206,892h1v1h-1zM218,892h1v1h-1zM218,895h1v1h-1zM222,888h1v1h-1zM203,890h1v1h-1zM205,877h1v1h-1zM215,899h1v1h-1zM207,890h1v1h-1zM221,869h1v1h-1zM219,914h1v1h-1zM199,892h1v1h-1zM207,895h1v1h-1zM206,894h1v1h-1zM215,893h1v1h-1zM213,896h1v1h-1zM214,882h1v1h-1zM215,889h1v1h-1zM205,888h1v1h-1zM212,880h1v1h-1zM209,919h1v1h-1zM209,894h1v1h-1zM202,893h1v1h-1zM212,911h1v1h-1zM214,881h1v1h-1zM204,898h1v1h-1zM221,897h1v1h-1zM215,888h1v1h-1zM220,899h1v1h-1zM206,884h1v1h-1zM224,903h1v1h-1zM213,895h1v1h-1zM216,886h1v1h-1zM220,912h1v1h-1zM210,882h1v1h-1zM214,920h1v1h-1zM207,908h1v1h-1zM209,885h1v1h-1zM213,901h1v1h-1zM220,896h1v1h-1zM223,886h1v1h-1zM210,901h1v1h-1zM211,901h1v1h-1zM212,913h1v1h-1zM207,875h1v1h-1zM211,892h1v1h-1zM209,878h1v1h-1zM221,877h1v1h-1zM224,883h1v1h-1zM206,908h1v1h-1zM204,888h1v1h-1zM217,897h1v1h-1zM215,897h1v1h-1zM223,875h1v1h-1zM208,903h1v1h-1zM205,895h1v1h-1zM216,883h1v1h-1zM222,895h1v1h-1zM220,884h1v1h-1zM205,900h1v1h-1zM203,884h1v1h-1zM216,890h1v1h-1zM218,896h1v1h-1zM215,899h1v1h-1zM216,889h1v1h-1zM205,869h1v1h-1zM217,880h1v1h-1zM211,896h1v1h-1zM213,898h1v1h-1zM206,893h1v1h-1zM215,900h1v1h-1zM227,886h1v1h-1zM218,917h1v1h-1zM224,897h1v1h-1zM208,895h1v1h-1zM209,889h1v1h-1zM200,904h1v1h-1zM216,889h1v1h-1zM213,895h1v1h-1zM212,898h1v1h-1zM208,894h1v1h-1zM224,884h1v1h-1zM208,904h1v1h-1zM215,895h1v1h-1zM210,899h1v1h-1zM214,900h1v1h-1zM216,918h1v1h-1zM214,909h1v1h-1zM214,918h1v1h-1zM220,885h1v1h-1zM215,895h1v1h-1zM223,869h1v1h-1zM214,874h1v1h-1zM211,886h1v1h-1zM219,896h1v1h-1zM212,906h1v1h-1zM210,916h1v1h-1zM210,908h1v1h-1zM214,900h1v1h-1zM214,884h1v1h-1zM213,891h1v1h-1zM212,894h1v1h-1zM216,877h1v1h-1zM210,896h1v1h-1zM216,902h1v1h-1zM203,894h1v1h-1zM220,881h1v1h-1zM205,888h1v1h-1zM211,891h1v1h-1zM200,902h1v1h-1zM213,909h1v1h-1zM205,904h1v1h-1zM212,874h1v1h-1zM219,908h1v1h-1zM199,900h1v1h-1zM217,913h1v1h-1zM216,902h1v1h-1zM203,910h1v1h-1zM207,903h1v1h-1zM216,876h1v1h-1zM224,922h1v1h-1zM218,894h1v1h-1zM207,896h1v1h-1zM218,906h1v1h-1zM225,884h1v1h-1zM215,887h1v1h-1zM213,891h1v1h-1zM214,902h1v1h-1zM204,865h1v1h-1zM215,906h1v1h-1zM210,910h1v1h-1zM212,900h1v1h-1zM218,877h1v1h-1zM216,871h1v1h-1zM215,881h1v1h-1zM213,908h1v1h-1zM202,900h1v1h-1zM221,899h1v1h-1zM212,886h1v1h-1zM219,913h1v1h-1zM212,910h1v1h-1zM208,880h1v1h-1zM210,905h1v1h-1zM224,897h1v1h-1zM209,908h1v1h-1zM196,900h1v1h-1zM204,889h1v1h-1zM209,890h1v1h-1zM207,901h1v1h-1zM202,917h1v1h-1zM217,896h1v1h-1zM202,918h1v1h-1zM206,895h1v1h-1zM215,886h1v1h-1zM209,888h1v1h-1zM211,918h1v1h-1zM210,895h1v1h-1zM211,875h1v1h-1zM207,897h1v1h-1zM208,884h1v1h-1zM211,901h1v1h-1zM212,903h1v1h-1zM212,903h1v1h-1zM210,910h1v1h-1zM211,910h1v1h-1zM216,890h1v1h-1zM211,886h1v1h-1zM204,876h1v1h-1zM210,901h1v1h-1zM215,908h1v1h-1zM217,898h1v1h-1zM222,902h1v1h-1zM216,900h1v1h-1zM218,883h1v1h-1zM207,895h1v1h-1zM201,891h1v1h-1zM211,898h1v1h-1zM197,896h1v1h-1zM215,910h1v1h-1zM212,884h1v1h-1zM210,895h1v1h-1zM211,897h1v1h-1zM216,899h1v1h-1zM213,889h1v1h-1zM215,900h1v1h-1zM221,880h1v1h-1zM218,896h1v1h-1zM198,904h1v1h-1zM218,914h1v1h-1zM207,887h1v1h-1zM219,891h1v1h-1zM215,865h1v1h-1zM229,873h1v1h-1zM216,885h1v1h-1zM198,900h1v1h-1zM214,888h1v1h-1zM213,894h1v1h-1zM211,892h1v1h-1zM215,905h1v1h-1zM219,903h1v1h-1zM224,896h1v1h-1zM218,887h1v1h-1zM204,888h1v1h-1zM211,880h1v1h-1zM217,880h1v1h-1zM213,891h1v1h-1zM198,896h1v1h-1zM218,897h1v1h-1zM220,912h1v1h-1zM218,892h1v1h-1zM212,901h1v1h-1zM213,914h1v1h-1zM205,897h1v1h-1zM215,894h1v1h-1zM219,891h1v1h-1zM201,918h1v1h-1zM212,898h1v1h-1zM218,885h1v1h-1zM209,886h1v1h-1zM207,878h1v1h-1zM204,886h1v1h-1zM215,900h1v1h-1zM215,912h1v1h-1zM218,877h1v1h-1zM216,897h1v1h-1zM209,874h1v1h-1zM211,879h1v1h-1zM220,902h1v1h-1zM210,881h1v1h-1zM214,878h1v1h-1zM220,881h1v1h-1zM213,884h1v1h-1zM222,888h1v1h-1zM206,890h1v1h-1zM204,888h1v1h-1zM210,901h1v1h-1zM205,891h1v1h-1zM229,895h1v1h-1zM204,913h1v1h-1zM211,889h1v1h-1zM216,903h1v1h-1zM214,880h1v1h-1zM207,874h1v1h-1zM209,896h1v1h-1zM214,902h1v1h-1zM218,913h1v1h-1zM210,900h1v1h-1zM226,896h1v1h-1zM214,883h1v1h-1zM204,914h1v1h-1zM217,892h1v1h-1zM209,903h1v1h-1zM214,908h1v1h-1zM214,905h1v1h-1zM215,908h1v1h-1zM217,868h1v1h-1zM209,911h1v1h-1zM224,888h1v1h-1zM220,899h1v1h-1zM222,893h1v1h-1zM218,879h1v1h-1zM206,900h1v1h-1zM208,907h1v1h-1zM214,894h1v1h-1zM204,903h1v1h-1zM214,919h1v1h-1zM213,887h1v1h-1zM215,883h1v1h-1zM212,889h1v1h-1zM206,893h1v1h-1zM217,902h1v1h-1zM215,892h1v1h-1zM217,874h1v1h-1zM202,926h1v1h-1zM224,914h1v1h-1zM215,891h1v1h-1zM210,865h1v1h-1zM214,868h1v1h-1zM209,876h1v1h-1zM226,879h1v1h-1zM210,898h1v1h-1zM211,897h1v1h-1zM219,886h1v1h-1zM204,897h1v1h-1zM205,906h1v1h-1zM213,896h1v1h-1zM210,898h1v1h-1zM209,892h1v1h-1zM209,895h1v1h-1zM232,893h1v1h-1zM218,880h1v1h-1zM206,888h1v1h-1zM223,888h1v1h-1zM204,872h1v1h-1zM207,889h1v1h-1zM220,887h1v1h-1zM206,901h1v1h-1zM215,893h1v1h-1zM221,879h1v1h-1zM212,908h1v1h-1zM218,904h1v1h-1zM222,903h1v1h-1zM222,861h1v1h-1zM221,882h1v1h-1zM209,912h1v1h-1zM222,904h1v1h-1zM213,913h1v1h-1zM230,884h1v1h-1zM208,885h1v1h-1zM224,897h1v1h-1zM208,891h1v1h-1zM210,892h1v1h-1zM226,886h1v1h-1zM211,859h1v1h-1zM217,904h1v1h-1zM228,886h1v1h-1zM211,889h1v1h-1zM214,902h1v1h-1zM213,921h1v1h-1zM215,900h1v1h-1zM224,875h1v1h-1zM215,888h1v1h-1zM197,886h1v1h-1zM205,901h1v1h-1zM204,899h1v1h-1zM218,898h1v1h-1zM201,888h1v1h-1zM212,891h1v1h-1zM200,869h1v1h-1zM216,884h1v1h-1zM209,893h1v1h-1zM208,891h1v1h-1zM217,887h1v1h-1zM207,876h1v1h-1zM212,905h1v1h-1zM204,883h1v1h-1zM211,890h1v1h-1zM206,890h1v1h-1zM209,893h1v1h-1zM221,898h1v1h-1zM211,894h1v1h-1zM205,890h1v1h-1zM223,894h1v1h-1zM221,893h1v1h-1zM209,892h1v1h-1zM221,909h1v1h-1zM209,901h1v1h-1zM206,904h1v1h-1zM209,901h1v1h-1zM204,910h1v1h-1zM212,877h1v1h-1zM221,893h1v1h-1zM218,892h1v1h-1zM204,876h1v1h-1zM220,892h1v1h-1zM213,887h1v1h-1zM209,893h1v1h-1zM214,880h1v1h-1zM231,904h1v1h-1zM209,893h1v1h-1zM225,893h1v1h-1zM210,901h1v1h-1zM216,871h1v1h-1zM205,888h1v1h-1zM208,886h1v1h-1zM211,895h1v1h-1zM202,883h1v1h-1zM201,879h1v1h-1zM216,894h1v1h-1zM210,909h1v1h-1zM199,888h1v1h-1zM219,883h1v1h-1zM210,869h1v1h-1zM213,888h1v1h-1zM269,910h1v1h-1zM265,906h1v1h-1zM271,907h1v1h-1zM248,914h1v1h-1zM291,891h1v1h-1zM260,919h1v1h-1zM274,887h1v1h-1zM256,902h1v1h-1zM269,893h1v1h-1zM269,902h1v1h-1zM261,912h1v1h-1zM283,896h1v1h-1zM276,900h1v1h-1zM260,912h1v1h-1zM258,910h1v1h-1zM250,929h1v1h-1zM265,906h1v1h-1zM270,900h1v1h-1zM275,901h1v1h-1zM265,906h1v1h-1zM277,898h1v1h-1zM294,889h1v1h-1zM257,907h1v1h-1zM283,891h1v1h-1zM256,907h1v1h-1zM276,894h1v1h-1zM263,898h1v1h-1zM268,910h1v1h-1zM270,903h1v1h-1zM264,900h1v1h-1zM262,910h1v1h-1zM266,900h1v1h-1zM277,902h1v1h-1zM252,922h1v1h-1zM267,915h1v1h-1zM241,932h1v1h-1zM271,899h1v1h-1zM263,911h1v1h-1zM267,907h1v1h-1zM268,911h1v1h-1zM256,900h1v1h-1zM287,887h1v1h-1zM265,908h1v1h-1zM257,909h1v1h-1zM268,904h1v1h-1zM247,921h1v1h-1zM269,901h1v1h-1zM262,907h1v1h-1zM269,918h1v1h-1zM266,910h1v1h-1zM275,894h1v1h-1zM271,900h1v1h-1zM275,896h1v1h-1zM277,903h1v1h-1zM266,912h1v1h-1zM257,917h1v1h-1zM270,902h1v1h-1zM258,918h1v1h-1zM244,921h1v1h-1zM250,915h1v1h-1zM264,905h1v1h-1zM261,919h1v1h-1zM269,907h1v1h-1zM266,897h1v1h-1zM249,929h1v1h-1zM235,922h1v1h-1zM273,901h1v1h-1zM270,910h1v1h-1zM270,905h1v1h-1zM272,901h1v1h-1zM264,905h1v1h-1zM272,897h1v1h-1zM249,908h1v1h-1zM281,898h1v1h-1zM258,903h1v1h-1zM275,903h1v1h-1zM265,910h1v1h-1zM272,905h1v1h-1zM280,886h1v1h-1zM255,926h1v1h-1zM274,898h1v1h-1zM274,904h1v1h-1zM280,887h1v1h-1zM257,915h1v1h-1zM277,903h1v1h-1zM259,915h1v1h-1zM281,892h1v1h-1zM242,926h1v1h-1zM269,908h1v1h-1zM271,902h1v1h-1zM266,901h1v1h-1zM270,912h1v1h-1zM266,901h1v1h-1zM276,900h1v1h-1zM287,879h1v1h-1zM272,888h1v1h-1zM271,861h1v1h-1zM271,878h1v1h-1zM259,872h1v1h-1zM286,885h1v1h-1z" fill="#a4a4f8"/>
<path d="M212,904h1v1h-1zM211,914h1v1h-1zM209,895h1v1h-1zM202,894h1v1h-1zM201,901h1v1h-1zM214,889h1v1h-1zM199,894h1v1h-1zM279,880h1v1h-1z" fill="#d04040"/>
<path d="M212,904h1v1h-1zM215,891h1v1h-1zM212,899h1v1h-1zM199,879h1v1h-1zM210,904h1v1h-1zM245,931h1v1h-1z" fill="#50b050"/>
<rect x="189.1" y="818.4" width="116.1" height="116.5" fill="none" stroke="#2a2a2a" stroke-width="1.0"/>
<rect x="239.5" y="847.3" width="59.5" height="79.70000000000005" fill="none" stroke="#9a9a9a" stroke-width="1"/>
<text x="288.9" y="838.5" font-size="14.1" text-anchor="end" font-weight="normal" fill="#111" >12.4%</text>
<path d="M186.1,824.2h3M187.6,829.8h1.5M187.6,835.3h1.5M187.6,840.8h1.5M186.1,846.4h3M187.6,851.9h1.5M187.6,857.4h1.5M187.6,863.0h1.5M186.1,868.5h3M187.6,874.0h1.5M187.6,879.6h1.5M187.6,885.1h1.5M186.1,890.6h3M187.6,896.2h1.5M187.6,901.7h1.5M187.6,907.2h1.5M186.1,912.8h3M187.6,918.3h1.5M187.6,923.8h1.5M187.6,929.4h1.5M212.3,934.9v3M196.1,934.9v1.5M200.7,934.9v1.5M204.2,934.9v1.5M206.5,934.9v1.5M208.4,934.9v1.5M210.0,934.9v1.5M211.2,934.9v1.5M235.5,934.9v3M219.3,934.9v1.5M223.9,934.9v1.5M227.4,934.9v1.5M229.7,934.9v1.5M231.6,934.9v1.5M233.2,934.9v1.5M234.4,934.9v1.5M258.8,934.9v3M242.5,934.9v1.5M247.1,934.9v1.5M250.6,934.9v1.5M253.0,934.9v1.5M254.8,934.9v1.5M256.4,934.9v1.5M257.6,934.9v1.5M282.0,934.9v3M265.7,934.9v1.5M270.4,934.9v1.5M273.9,934.9v1.5M276.2,934.9v1.5M278.0,934.9v1.5M279.7,934.9v1.5M280.8,934.9v1.5M305.2,934.9v3M288.9,934.9v1.5M293.6,934.9v1.5M297.1,934.9v1.5M299.4,934.9v1.5M301.3,934.9v1.5M302.9,934.9v1.5M304.0,934.9v1.5" stroke="#444" stroke-width="0.7" fill="none"/>
<path d="M204.8,936.9h14.5" stroke="#555" stroke-width="1.8" stroke-dasharray="3,1"/>
<line x1="51.7" y1="955.4" x2="248" y2="955.4" stroke="#111" stroke-width="1.6"/><path d="M245,950.8 L254.5,955.4 L245,960 Z" fill="#111"/>
<text x="262.3" y="961.3" font-size="14" text-anchor="start" font-weight="normal" fill="#111" >hCD45</text>
<text x="367.6" y="260.3" font-size="17.3" text-anchor="start" font-weight="bold" fill="#000" >C</text>
<path d="M436.1,278.5 V469.6 H720.5" fill="none" stroke="#000" stroke-width="2.2"/>
<line x1="428.1" y1="469.6" x2="436.1" y2="469.6" stroke="#000" stroke-width="2.2"/>
<text x="426.8" y="474.8" font-size="14.4" text-anchor="end" font-weight="bold" fill="#111" >0</text>
<line x1="428.1" y1="431.6" x2="436.1" y2="431.6" stroke="#000" stroke-width="2.2"/>
<text x="426.8" y="436.78000000000003" font-size="14.4" text-anchor="end" font-weight="bold" fill="#111" >20</text>
<line x1="428.1" y1="393.6" x2="436.1" y2="393.6" stroke="#000" stroke-width="2.2"/>
<text x="426.8" y="398.76" font-size="14.4" text-anchor="end" font-weight="bold" fill="#111" >40</text>
<line x1="428.1" y1="355.5" x2="436.1" y2="355.5" stroke="#000" stroke-width="2.2"/>
<text x="426.8" y="360.74" font-size="14.4" text-anchor="end" font-weight="bold" fill="#111" >60</text>
<line x1="428.1" y1="317.5" x2="436.1" y2="317.5" stroke="#000" stroke-width="2.2"/>
<text x="426.8" y="322.71999999999997" font-size="14.4" text-anchor="end" font-weight="bold" fill="#111" >80</text>
<line x1="428.1" y1="279.5" x2="436.1" y2="279.5" stroke="#000" stroke-width="2.2"/>
<text x="426.8" y="284.7" font-size="14.4" text-anchor="end" font-weight="bold" fill="#111" >100</text>
<text x="0" y="0" font-size="14.2" fill="#111" text-anchor="middle" transform="translate(399 376) rotate(-90)">% of hCD45+ cells in PB</text>
<circle cx="459.8" cy="291.5" r="5.2" fill="none" stroke="#000" stroke-width="2.3"/>
<text x="473.6" y="296.6" font-size="14.1" text-anchor="start" font-weight="normal" fill="#111" >Un</text>
<circle cx="459.8" cy="311.7" r="6" fill="#000"/>
<text x="473.6" y="317.8" font-size="14.1" text-anchor="start" font-weight="normal" fill="#111" >T</text>
<circle cx="459.8" cy="331.9" r="5.2" fill="none" stroke="#ff0000" stroke-width="2.3"/>
<text x="473.6" y="336.6" font-size="14.1" text-anchor="start" font-weight="normal" fill="#111" >D</text>
<circle cx="459.8" cy="351.1" r="6" fill="#ff0000"/>
<text x="473.6" y="356.4" font-size="14.1" text-anchor="start" font-weight="normal" fill="#111" >D-&gt;T</text>
<path d="M459.8,364.8 L466.3,376.2 L453.3,376.2 Z" fill="#ff0000"/>
<text x="473.6" y="374.2" font-size="14.1" text-anchor="start" font-weight="normal" fill="#111" >D+T</text>
<circle cx="456.0" cy="455.5" r="3.4" fill="none" stroke="#000" stroke-width="1.9"/><circle cx="452.0" cy="459.0" r="3.4" fill="none" stroke="#000" stroke-width="1.9"/><circle cx="459.5" cy="459.5" r="3.4" fill="none" stroke="#000" stroke-width="1.9"/><circle cx="449.0" cy="463.0" r="3.4" fill="none" stroke="#000" stroke-width="1.9"/><circle cx="455.0" cy="463.5" r="3.4" fill="none" stroke="#000" stroke-width="1.9"/><circle cx="462.0" cy="464.0" r="3.4" fill="none" stroke="#000" stroke-width="1.9"/><circle cx="447.5" cy="467.0" r="3.4" fill="none" stroke="#000" stroke-width="1.9"/><circle cx="453.0" cy="467.5" r="3.4" fill="none" stroke="#000" stroke-width="1.9"/><circle cx="459.0" cy="467.5" r="3.4" fill="none" stroke="#000" stroke-width="1.9"/><circle cx="464.0" cy="468.0" r="3.4" fill="none" stroke="#000" stroke-width="1.9"/><circle cx="450.0" cy="471.0" r="3.4" fill="none" stroke="#000" stroke-width="1.9"/><circle cx="456.5" cy="471.0" r="3.4" fill="none" stroke="#000" stroke-width="1.9"/><circle cx="462.0" cy="471.0" r="3.4" fill="none" stroke="#000" stroke-width="1.9"/><circle cx="478.0" cy="462.0" r="3.8" fill="#000"/><circle cx="482.5" cy="461.0" r="3.8" fill="#000"/><circle cx="475.0" cy="466.0" r="3.8" fill="#000"/><circle cx="480.0" cy="465.0" r="3.8" fill="#000"/><circle cx="486.0" cy="463.5" r="3.8" fill="#000"/><circle cx="489.0" cy="467.0" r="3.8" fill="#000"/><circle cx="474.5" cy="469.5" r="3.8" fill="#000"/><circle cx="481.0" cy="469.0" r="3.8" fill="#000"/><circle cx="487.0" cy="470.0" r="3.8" fill="#000"/><circle cx="484.0" cy="472.5" r="3.8" fill="#000"/><circle cx="503.0" cy="458.0" r="3.4" fill="none" stroke="#ff0000" stroke-width="1.9"/><circle cx="510.0" cy="457.0" r="3.4" fill="none" stroke="#ff0000" stroke-width="1.9"/><circle cx="515.0" cy="461.0" r="3.4" fill="none" stroke="#ff0000" stroke-width="1.9"/><circle cx="500.0" cy="463.0" r="3.4" fill="none" stroke="#ff0000" stroke-width="1.9"/><circle cx="506.0" cy="462.0" r="3.4" fill="none" stroke="#ff0000" stroke-width="1.9"/><circle cx="512.0" cy="465.0" r="3.4" fill="none" stroke="#ff0000" stroke-width="1.9"/><circle cx="499.5" cy="467.0" r="3.4" fill="none" stroke="#ff0000" stroke-width="1.9"/><circle cx="505.0" cy="468.0" r="3.4" fill="none" stroke="#ff0000" stroke-width="1.9"/><circle cx="511.0" cy="468.0" r="3.4" fill="none" stroke="#ff0000" stroke-width="1.9"/><circle cx="515.5" cy="467.0" r="3.4" fill="none" stroke="#ff0000" stroke-width="1.9"/><circle cx="501.0" cy="471.0" r="3.4" fill="none" stroke="#ff0000" stroke-width="1.9"/><circle cx="508.0" cy="471.0" r="3.4" fill="none" stroke="#ff0000" stroke-width="1.9"/><circle cx="514.0" cy="471.0" r="3.4" fill="none" stroke="#ff0000" stroke-width="1.9"/><circle cx="532.0" cy="461.0" r="3.8" fill="#ff0000"/><circle cx="527.0" cy="465.0" r="3.8" fill="#ff0000"/><circle cx="536.0" cy="464.0" r="3.8" fill="#ff0000"/><circle cx="524.5" cy="468.0" r="3.8" fill="#ff0000"/><circle cx="530.0" cy="468.0" r="3.8" fill="#ff0000"/><circle cx="538.5" cy="468.0" r="3.8" fill="#ff0000"/><circle cx="526.0" cy="471.0" r="3.8" fill="#ff0000"/><circle cx="533.0" cy="471.0" r="3.8" fill="#ff0000"/><circle cx="539.0" cy="471.0" r="3.8" fill="#ff0000"/><path d="M557.0,457.0 L561.0,464.0 L553.0,464.0 Z" fill="#ff0000"/><path d="M551.0,464.0 L555.0,471.0 L547.0,471.0 Z" fill="#ff0000"/><path d="M557.0,463.0 L561.0,470.0 L553.0,470.0 Z" fill="#ff0000"/><path d="M563.0,463.0 L567.0,470.0 L559.0,470.0 Z" fill="#ff0000"/><path d="M549.5,467.0 L553.5,474.0 L545.5,474.0 Z" fill="#ff0000"/><path d="M555.0,467.0 L559.0,474.0 L551.0,474.0 Z" fill="#ff0000"/><path d="M561.0,467.0 L565.0,474.0 L557.0,474.0 Z" fill="#ff0000"/><path d="M565.5,467.0 L569.5,474.0 L561.5,474.0 Z" fill="#ff0000"/><path d="M553.0,461.0 L557.0,468.0 L549.0,468.0 Z" fill="#ff0000"/><path d="M561.0,461.0 L565.0,468.0 L557.0,468.0 Z" fill="#ff0000"/>
<path d="M589.45,469.3 V281.25 H606.15 V469.3" fill="none" stroke="#000" stroke-width="2.5"/>
<path d="M615.05,469.3 V347.85 H631.75 V469.3" fill="none" stroke="#000" stroke-width="2.5"/>
<path d="M640.25,469.3 V408.85 H656.95 V469.3" fill="none" stroke="#000" stroke-width="2.5"/>
<path d="M666.05,469.3 V454.25 H682.45 V469.3" fill="none" stroke="#000" stroke-width="2.5"/>
<path d="M691.25,469.3 V448.75 H707.45 V469.3" fill="none" stroke="#000" stroke-width="2.5"/>
<circle cx="592.0" cy="283.0" r="3.4" fill="none" stroke="#000" stroke-width="1.9"/><circle cx="596.0" cy="281.0" r="3.4" fill="none" stroke="#000" stroke-width="1.9"/><circle cx="600.0" cy="280.5" r="3.4" fill="none" stroke="#000" stroke-width="1.9"/><circle cx="604.0" cy="282.0" r="3.4" fill="none" stroke="#000" stroke-width="1.9"/><circle cx="589.5" cy="284.0" r="3.4" fill="none" stroke="#000" stroke-width="1.9"/><circle cx="598.0" cy="284.0" r="3.4" fill="none" stroke="#000" stroke-width="1.9"/><circle cx="603.0" cy="280.0" r="3.4" fill="none" stroke="#000" stroke-width="1.9"/><circle cx="594.0" cy="289.7" r="3.4" fill="none" stroke="#000" stroke-width="1.9"/><circle cx="590.0" cy="281.0" r="3.4" fill="none" stroke="#000" stroke-width="1.9"/>
<path d="M623.2,329 V361.3 M617.7,329 h11 M617.7,361.3 h11" fill="none" stroke="#000" stroke-width="2.5"/>
<circle cx="623.2" cy="296.3" r="3.8" fill="#000"/><circle cx="616.7" cy="310.5" r="3.8" fill="#000"/><circle cx="623.2" cy="317.0" r="3.8" fill="#000"/><circle cx="629.8" cy="315.7" r="3.8" fill="#000"/><circle cx="626.3" cy="356.4" r="3.8" fill="#000"/><circle cx="620.0" cy="360.5" r="3.8" fill="#000"/><circle cx="623.3" cy="368.0" r="3.8" fill="#000"/><circle cx="623.3" cy="438.2" r="3.8" fill="#000"/>
<path d="M648.6,393.8 V420.8 M643.0,393.8 h11.2 M643.0,420.8 h11.2" fill="none" stroke="#000" stroke-width="2.5"/>
<circle cx="648.6" cy="312.7" r="3.4" fill="none" stroke="#ff0000" stroke-width="1.9"/><circle cx="648.6" cy="324.7" r="3.4" fill="none" stroke="#ff0000" stroke-width="1.9"/><circle cx="648.6" cy="340.0" r="3.4" fill="none" stroke="#ff0000" stroke-width="1.9"/><circle cx="648.4" cy="381.9" r="3.4" fill="none" stroke="#ff0000" stroke-width="1.9"/><circle cx="642.4" cy="405.3" r="3.4" fill="none" stroke="#ff0000" stroke-width="1.9"/><circle cx="642.4" cy="413.0" r="3.4" fill="none" stroke="#ff0000" stroke-width="1.9"/><circle cx="655.0" cy="412.2" r="3.4" fill="none" stroke="#ff0000" stroke-width="1.9"/><circle cx="642.4" cy="422.9" r="3.4" fill="none" stroke="#ff0000" stroke-width="1.9"/><circle cx="655.0" cy="429.1" r="3.4" fill="none" stroke="#ff0000" stroke-width="1.9"/><circle cx="642.4" cy="437.7" r="3.4" fill="none" stroke="#ff0000" stroke-width="1.9"/><circle cx="655.0" cy="439.3" r="3.4" fill="none" stroke="#ff0000" stroke-width="1.9"/><circle cx="648.4" cy="449.7" r="3.4" fill="none" stroke="#ff0000" stroke-width="1.9"/><circle cx="655.0" cy="463.4" r="3.4" fill="none" stroke="#ff0000" stroke-width="1.9"/><circle cx="642.4" cy="469.4" r="3.4" fill="none" stroke="#ff0000" stroke-width="1.9"/>
<path d="M674.2,449 V458 M669.2,449 h10 M669.2,458 h10" fill="none" stroke="#000" stroke-width="2.5"/>
<path d="M699.3,441 V455 M694.3,441 h10 M694.3,455 h10" fill="none" stroke="#000" stroke-width="2.5"/>
<circle cx="669.0" cy="440.0" r="3.8" fill="#ff0000"/><circle cx="677.0" cy="440.0" r="3.8" fill="#ff0000"/><circle cx="673.0" cy="445.0" r="3.8" fill="#ff0000"/><circle cx="668.0" cy="450.0" r="3.8" fill="#ff0000"/><circle cx="678.0" cy="450.0" r="3.8" fill="#ff0000"/><circle cx="673.0" cy="455.0" r="3.8" fill="#ff0000"/><circle cx="667.0" cy="460.0" r="3.8" fill="#ff0000"/><circle cx="679.0" cy="460.0" r="3.8" fill="#ff0000"/><circle cx="672.0" cy="463.0" r="3.8" fill="#ff0000"/><circle cx="680.0" cy="466.0" r="3.8" fill="#ff0000"/><circle cx="669.0" cy="467.0" r="3.8" fill="#ff0000"/><circle cx="676.0" cy="467.0" r="3.8" fill="#ff0000"/><circle cx="673.0" cy="471.5" r="3.8" fill="#ff0000"/><circle cx="681.0" cy="456.0" r="3.8" fill="#ff0000"/><circle cx="666.0" cy="455.0" r="3.8" fill="#ff0000"/>
<path d="M699.3,389.2 L703.5,396.5 L695.1,396.5 Z" fill="#ff0000"/><path d="M699.3,415.1 L703.5,422.4 L695.1,422.4 Z" fill="#ff0000"/><path d="M694.0,436.3 L698.2,443.6 L689.8,443.6 Z" fill="#ff0000"/><path d="M700.0,435.3 L704.2,442.6 L695.8,442.6 Z" fill="#ff0000"/><path d="M706.0,436.8 L710.2,444.1 L701.8,444.1 Z" fill="#ff0000"/><path d="M696.0,442.8 L700.2,450.1 L691.8,450.1 Z" fill="#ff0000"/><path d="M703.0,443.8 L707.2,451.1 L698.8,451.1 Z" fill="#ff0000"/><path d="M692.0,450.8 L696.2,458.1 L687.8,458.1 Z" fill="#ff0000"/><path d="M699.0,447.8 L703.2,455.1 L694.8,455.1 Z" fill="#ff0000"/><path d="M706.0,450.8 L710.2,458.1 L701.8,458.1 Z" fill="#ff0000"/><path d="M694.0,456.8 L698.2,464.1 L689.8,464.1 Z" fill="#ff0000"/><path d="M702.0,455.8 L706.2,463.1 L697.8,463.1 Z" fill="#ff0000"/><path d="M697.0,461.8 L701.2,469.1 L692.8,469.1 Z" fill="#ff0000"/><path d="M692.0,462.8 L696.2,470.1 L687.8,470.1 Z" fill="#ff0000"/><path d="M706.0,461.8 L710.2,469.1 L701.8,469.1 Z" fill="#ff0000"/>
<line x1="648.7" y1="279.8" x2="698.8" y2="279.8" stroke="#000" stroke-width="1.6" />
<text x="673.7" y="285" font-size="20" text-anchor="middle" font-weight="normal" fill="#111" >**</text>
<line x1="648.7" y1="302" x2="673.5" y2="302" stroke="#000" stroke-width="1.6" />
<text x="660.8" y="307" font-size="20" text-anchor="middle" font-weight="normal" fill="#111" >***</text>
<text x="508.5" y="488.6" font-size="14" text-anchor="middle" font-weight="normal" fill="#111" >Pre</text>
<text x="604.4" y="488" font-size="14" fill="#111">Post (8<tspan font-size="9" dy="-5">th</tspan><tspan dy="5"> week)</tspan></text>
<text x="367.0" y="518.5" font-size="17" text-anchor="start" font-weight="bold" fill="#000" >D</text>
<path d="M441,512.5 V703.7 H725.5" fill="none" stroke="#000" stroke-width="2.2"/>
<line x1="435" y1="703.7" x2="441" y2="703.7" stroke="#000" stroke-width="2.2"/>
<text x="434.2" y="708.9000000000001" font-size="14.4" text-anchor="end" font-weight="bold" fill="#111" >0</text>
<line x1="435" y1="665.7" x2="441" y2="665.7" stroke="#000" stroke-width="2.2"/>
<text x="434.2" y="670.8600000000001" font-size="14.4" text-anchor="end" font-weight="bold" fill="#111" >20</text>
<line x1="435" y1="627.6" x2="441" y2="627.6" stroke="#000" stroke-width="2.2"/>
<text x="434.2" y="632.82" font-size="14.4" text-anchor="end" font-weight="bold" fill="#111" >40</text>
<line x1="435" y1="589.6" x2="441" y2="589.6" stroke="#000" stroke-width="2.2"/>
<text x="434.2" y="594.7800000000001" font-size="14.4" text-anchor="end" font-weight="bold" fill="#111" >60</text>
<line x1="435" y1="551.5" x2="441" y2="551.5" stroke="#000" stroke-width="2.2"/>
<text x="434.2" y="556.74" font-size="14.4" text-anchor="end" font-weight="bold" fill="#111" >80</text>
<line x1="435" y1="513.5" x2="441" y2="513.5" stroke="#000" stroke-width="2.2"/>
<text x="434.2" y="518.7" font-size="14.4" text-anchor="end" font-weight="bold" fill="#111" >100</text>
<text x="0" y="0" font-size="14.1" fill="#111" text-anchor="middle" transform="translate(400.2 611) rotate(-90)">% of hCD45+ cells in SP</text>
<text x="469.75" y="721.6" font-size="14" text-anchor="middle" font-weight="normal" fill="#111" >Un</text>
<text x="526.4" y="721.6" font-size="14" text-anchor="middle" font-weight="normal" fill="#111" >T</text>
<text x="583.2" y="721.6" font-size="14" text-anchor="middle" font-weight="normal" fill="#111" >D</text>
<text x="640.1" y="721.6" font-size="14" text-anchor="middle" font-weight="normal" fill="#111" >D-&gt;T</text>
<text x="697" y="721.6" font-size="14" text-anchor="middle" font-weight="normal" fill="#111" >D+T</text>
<circle cx="461.7" cy="514.0" r="3.7" fill="none" stroke="#000" stroke-width="2"/><circle cx="477.0" cy="513.5" r="3.7" fill="none" stroke="#000" stroke-width="2"/><circle cx="461.3" cy="530.4" r="3.7" fill="none" stroke="#000" stroke-width="2"/><circle cx="477.0" cy="523.0" r="3.7" fill="none" stroke="#000" stroke-width="2"/><circle cx="469.5" cy="537.8" r="3.7" fill="none" stroke="#000" stroke-width="2"/><circle cx="533.9" cy="521.3" r="4.0" fill="#000"/><circle cx="518.5" cy="527.0" r="4.0" fill="#000"/><circle cx="510.9" cy="535.8" r="4.0" fill="#000"/><circle cx="541.4" cy="535.8" r="4.0" fill="#000"/><circle cx="526.2" cy="539.9" r="4.0" fill="#000"/><circle cx="533.6" cy="547.6" r="4.0" fill="#000"/><circle cx="518.5" cy="554.2" r="4.0" fill="#000"/><circle cx="526.2" cy="583.4" r="4.0" fill="#000"/><circle cx="583.1" cy="537.8" r="3.7" fill="none" stroke="#ff0000" stroke-width="2"/><circle cx="575.8" cy="569.7" r="3.7" fill="none" stroke="#ff0000" stroke-width="2"/><circle cx="591.0" cy="567.0" r="3.7" fill="none" stroke="#ff0000" stroke-width="2"/><circle cx="583.1" cy="586.2" r="3.7" fill="none" stroke="#ff0000" stroke-width="2"/><circle cx="591.0" cy="592.4" r="3.7" fill="none" stroke="#ff0000" stroke-width="2"/><circle cx="575.8" cy="599.2" r="3.7" fill="none" stroke="#ff0000" stroke-width="2"/><circle cx="567.4" cy="605.0" r="3.7" fill="none" stroke="#ff0000" stroke-width="2"/><circle cx="598.8" cy="603.1" r="3.7" fill="none" stroke="#ff0000" stroke-width="2"/><circle cx="578.4" cy="610.2" r="3.7" fill="none" stroke="#ff0000" stroke-width="2"/><circle cx="587.8" cy="610.2" r="3.7" fill="none" stroke="#ff0000" stroke-width="2"/><circle cx="583.1" cy="619.9" r="3.7" fill="none" stroke="#ff0000" stroke-width="2"/><circle cx="575.8" cy="630.6" r="3.7" fill="none" stroke="#ff0000" stroke-width="2"/><circle cx="591.0" cy="629.8" r="3.7" fill="none" stroke="#ff0000" stroke-width="2"/><circle cx="583.1" cy="699.0" r="3.7" fill="none" stroke="#ff0000" stroke-width="2"/><circle cx="640.0" cy="639.5" r="4.0" fill="#ff0000"/><circle cx="640.0" cy="646.8" r="4.0" fill="#ff0000"/><circle cx="647.1" cy="652.8" r="4.0" fill="#ff0000"/><circle cx="632.2" cy="660.4" r="4.0" fill="#ff0000"/><circle cx="624.4" cy="665.0" r="4.0" fill="#ff0000"/><circle cx="655.0" cy="669.5" r="4.0" fill="#ff0000"/><circle cx="640.0" cy="674.2" r="4.0" fill="#ff0000"/><circle cx="624.4" cy="680.0" r="4.0" fill="#ff0000"/><circle cx="655.0" cy="676.3" r="4.0" fill="#ff0000"/><circle cx="645.3" cy="683.4" r="4.0" fill="#ff0000"/><circle cx="634.9" cy="687.3" r="4.0" fill="#ff0000"/><circle cx="624.4" cy="695.1" r="4.0" fill="#ff0000"/><circle cx="655.0" cy="695.1" r="4.0" fill="#ff0000"/><circle cx="640.0" cy="700.3" r="4.0" fill="#ff0000"/><path d="M681.1,621.6 L685.4,629.1 L676.8,629.1 Z" fill="#ff0000"/><path d="M702.0,624.7 L706.3,632.2 L697.7,632.2 Z" fill="#ff0000"/><path d="M711.9,620.3 L716.2,627.8 L707.6,627.8 Z" fill="#ff0000"/><path d="M691.6,631.5 L695.9,639.0 L687.3,639.0 Z" fill="#ff0000"/><path d="M696.8,641.7 L701.1,649.2 L692.5,649.2 Z" fill="#ff0000"/><path d="M690.2,652.9 L694.5,660.4 L685.9,660.4 Z" fill="#ff0000"/><path d="M704.6,649.5 L708.9,657.0 L700.3,657.0 Z" fill="#ff0000"/><path d="M681.1,670.7 L685.4,678.2 L676.8,678.2 Z" fill="#ff0000"/><path d="M702.0,673.3 L706.3,680.8 L697.7,680.8 Z" fill="#ff0000"/><path d="M711.9,669.9 L716.2,677.4 L707.6,677.4 Z" fill="#ff0000"/><path d="M691.6,677.2 L695.9,684.7 L687.3,684.7 Z" fill="#ff0000"/><path d="M682.4,686.4 L686.7,693.9 L678.1,693.9 Z" fill="#ff0000"/><path d="M711.9,682.2 L716.2,689.7 L707.6,689.7 Z" fill="#ff0000"/><path d="M691.6,692.7 L695.9,700.2 L687.3,700.2 Z" fill="#ff0000"/><path d="M702.0,690.3 L706.3,697.8 L697.7,697.8 Z" fill="#ff0000"/>
<path d="M452.7,703.7 V526.1 H486.4 V703.7" fill="none" stroke="#000" stroke-width="3.0"/>
<path d="M509.1,703.7 V545.5 H542.9 V703.7" fill="none" stroke="#000" stroke-width="3.0"/>
<path d="M566.8,703.7 V606.5 H599.6 V703.7" fill="none" stroke="#000" stroke-width="3.0"/>
<path d="M623.3,703.7 V676.0 H656.9 V703.7" fill="none" stroke="#000" stroke-width="3.0"/>
<path d="M680.5,703.7 V665.3 H713.5 V703.7" fill="none" stroke="#000" stroke-width="3.0"/>
<path d="M469.6,519.7 V527 M459.75,519.7 h19.7 M459.75,527 h19.7" fill="none" stroke="#000" stroke-width="2.5"/>
<path d="M526.6,536 V550 M516.35,536 h20.5 M516.35,550 h20.5" fill="none" stroke="#000" stroke-width="2.5"/>
<path d="M583.3,594.5 V614.6 M573.0,594.5 h20.6 M573.0,614.6 h20.6" fill="none" stroke="#000" stroke-width="2.5"/>
<path d="M640,668.7 V678 M630.0,668.7 h20 M630.0,678 h20" fill="none" stroke="#000" stroke-width="2.5"/>
<path d="M696.8,656.2 V669.8 M686.3499999999999,656.2 h20.9 M686.3499999999999,669.8 h20.9" fill="none" stroke="#000" stroke-width="2.5"/>
<line x1="582.5" y1="510.6" x2="693.6" y2="510.6" stroke="#000" stroke-width="1.6" />
<text x="637.9" y="515.2" font-size="20" text-anchor="middle" font-weight="normal" fill="#111" >****</text>
<line x1="583" y1="527.4" x2="638.8" y2="527.4" stroke="#000" stroke-width="1.6" />
<text x="610.8" y="532.1" font-size="20" text-anchor="middle" font-weight="normal" fill="#111" >****</text>
<text x="367.0" y="754.9" font-size="16.8" text-anchor="start" font-weight="bold" fill="#000" >E</text>
<path d="M440.4,762 V953.1 H725" fill="none" stroke="#000" stroke-width="2.2"/>
<line x1="434.4" y1="953.1" x2="440.4" y2="953.1" stroke="#000" stroke-width="2.2"/>
<text x="433.3" y="958.3000000000001" font-size="14.4" text-anchor="end" font-weight="bold" fill="#111" >0</text>
<line x1="434.4" y1="915.1" x2="440.4" y2="915.1" stroke="#000" stroke-width="2.2"/>
<text x="433.3" y="920.2800000000001" font-size="14.4" text-anchor="end" font-weight="bold" fill="#111" >20</text>
<line x1="434.4" y1="877.1" x2="440.4" y2="877.1" stroke="#000" stroke-width="2.2"/>
<text x="433.3" y="882.2600000000001" font-size="14.4" text-anchor="end" font-weight="bold" fill="#111" >40</text>
<line x1="434.4" y1="839.0" x2="440.4" y2="839.0" stroke="#000" stroke-width="2.2"/>
<text x="433.3" y="844.24" font-size="14.4" text-anchor="end" font-weight="bold" fill="#111" >60</text>
<line x1="434.4" y1="801.0" x2="440.4" y2="801.0" stroke="#000" stroke-width="2.2"/>
<text x="433.3" y="806.22" font-size="14.4" text-anchor="end" font-weight="bold" fill="#111" >80</text>
<line x1="434.4" y1="763.0" x2="440.4" y2="763.0" stroke="#000" stroke-width="2.2"/>
<text x="433.3" y="768.2" font-size="14.4" text-anchor="end" font-weight="bold" fill="#111" >100</text>
<text x="0" y="0" font-size="14.05" fill="#111" text-anchor="middle" transform="translate(405 866) rotate(-90)">% of hCD45+ cells in BM</text>
<text x="469.1" y="970.3" font-size="14" text-anchor="middle" font-weight="normal" fill="#111" >Un</text>
<text x="525.9" y="970.3" font-size="14" text-anchor="middle" font-weight="normal" fill="#111" >T</text>
<text x="582.7" y="970.3" font-size="14" text-anchor="middle" font-weight="normal" fill="#111" >D</text>
<text x="639.5" y="970.3" font-size="14" text-anchor="middle" font-weight="normal" fill="#111" >D-&gt;T</text>
<text x="696.4" y="970.3" font-size="14" text-anchor="middle" font-weight="normal" fill="#111" >D+T</text>
<circle cx="453.7" cy="763.2" r="3.7" fill="none" stroke="#000" stroke-width="2"/><circle cx="464.0" cy="764.7" r="3.7" fill="none" stroke="#000" stroke-width="2"/><circle cx="474.2" cy="763.2" r="3.7" fill="none" stroke="#000" stroke-width="2"/><circle cx="484.5" cy="765.5" r="3.7" fill="none" stroke="#000" stroke-width="2"/><circle cx="468.9" cy="777.0" r="3.7" fill="none" stroke="#000" stroke-width="2"/><circle cx="510.0" cy="763.2" r="4.0" fill="#000"/><circle cx="519.6" cy="763.8" r="4.0" fill="#000"/><circle cx="529.8" cy="764.7" r="4.0" fill="#000"/><circle cx="540.0" cy="764.7" r="4.0" fill="#000"/><circle cx="515.2" cy="767.6" r="4.0" fill="#000"/><circle cx="535.0" cy="767.6" r="4.0" fill="#000"/><circle cx="525.4" cy="789.6" r="4.0" fill="#000"/><circle cx="579.2" cy="766.7" r="3.7" fill="none" stroke="#ff0000" stroke-width="2"/><circle cx="585.7" cy="765.3" r="3.7" fill="none" stroke="#ff0000" stroke-width="2"/><circle cx="591.5" cy="768.7" r="3.7" fill="none" stroke="#ff0000" stroke-width="2"/><circle cx="567.4" cy="777.4" r="3.7" fill="none" stroke="#ff0000" stroke-width="2"/><circle cx="579.2" cy="780.5" r="3.7" fill="none" stroke="#ff0000" stroke-width="2"/><circle cx="585.7" cy="776.6" r="3.7" fill="none" stroke="#ff0000" stroke-width="2"/><circle cx="598.0" cy="776.6" r="3.7" fill="none" stroke="#ff0000" stroke-width="2"/><circle cx="572.7" cy="783.1" r="3.7" fill="none" stroke="#ff0000" stroke-width="2"/><circle cx="591.5" cy="781.8" r="3.7" fill="none" stroke="#ff0000" stroke-width="2"/><circle cx="579.2" cy="791.0" r="3.7" fill="none" stroke="#ff0000" stroke-width="2"/><circle cx="582.3" cy="802.2" r="3.7" fill="none" stroke="#ff0000" stroke-width="2"/><circle cx="579.2" cy="813.2" r="3.7" fill="none" stroke="#ff0000" stroke-width="2"/><circle cx="585.7" cy="819.7" r="3.7" fill="none" stroke="#ff0000" stroke-width="2"/><circle cx="582.3" cy="947.7" r="3.7" fill="none" stroke="#ff0000" stroke-width="2"/><circle cx="647.1" cy="768.2" r="4.0" fill="#ff0000"/><circle cx="632.0" cy="775.8" r="4.0" fill="#ff0000"/><circle cx="647.1" cy="804.0" r="4.0" fill="#ff0000"/><circle cx="632.0" cy="809.8" r="4.0" fill="#ff0000"/><circle cx="647.1" cy="812.4" r="4.0" fill="#ff0000"/><circle cx="632.0" cy="831.5" r="4.0" fill="#ff0000"/><circle cx="647.1" cy="829.4" r="4.0" fill="#ff0000"/><circle cx="639.3" cy="844.5" r="4.0" fill="#ff0000"/><circle cx="632.0" cy="860.2" r="4.0" fill="#ff0000"/><circle cx="647.1" cy="857.6" r="4.0" fill="#ff0000"/><circle cx="647.1" cy="866.0" r="4.0" fill="#ff0000"/><circle cx="639.3" cy="880.3" r="4.0" fill="#ff0000"/><circle cx="639.3" cy="944.3" r="4.0" fill="#ff0000"/><circle cx="639.3" cy="953.0" r="4.0" fill="#ff0000"/><path d="M688.4,765.7 L692.7,773.2 L684.1,773.2 Z" fill="#ff0000"/><path d="M704.1,762.6 L708.4,770.1 L699.8,770.1 Z" fill="#ff0000"/><path d="M696.3,782.7 L700.6,790.2 L692.0,790.2 Z" fill="#ff0000"/><path d="M681.1,789.3 L685.4,796.8 L676.8,796.8 Z" fill="#ff0000"/><path d="M711.2,789.8 L715.5,797.3 L706.9,797.3 Z" fill="#ff0000"/><path d="M696.3,806.3 L700.6,813.8 L692.0,813.8 Z" fill="#ff0000"/><path d="M681.1,820.7 L685.4,828.2 L676.8,828.2 Z" fill="#ff0000"/><path d="M696.3,825.3 L700.6,832.8 L692.0,832.8 Z" fill="#ff0000"/><path d="M711.2,827.2 L715.5,834.7 L706.9,834.7 Z" fill="#ff0000"/><path d="M681.1,831.1 L685.4,838.6 L676.8,838.6 Z" fill="#ff0000"/><path d="M696.3,833.7 L700.6,841.2 L692.0,841.2 Z" fill="#ff0000"/><path d="M681.1,879.4 L685.4,886.9 L676.8,886.9 Z" fill="#ff0000"/><path d="M696.3,882.0 L700.6,889.5 L692.0,889.5 Z" fill="#ff0000"/><path d="M696.3,902.9 L700.6,910.4 L692.0,910.4 Z" fill="#ff0000"/><path d="M696.3,918.6 L700.6,926.1 L692.0,926.1 Z" fill="#ff0000"/><path d="M696.3,934.3 L700.6,941.8 L692.0,941.8 Z" fill="#ff0000"/>
<path d="M452.1,953.1 V769.7 H486.3 V953.1" fill="none" stroke="#000" stroke-width="3.0"/>
<path d="M508.5,953.1 V770.1 H542.7 V953.1" fill="none" stroke="#000" stroke-width="3.0"/>
<path d="M566.3,953.1 V799.5 H599.1 V953.1" fill="none" stroke="#000" stroke-width="3.0"/>
<path d="M623.0,953.1 V847.8 H656.1 V953.1" fill="none" stroke="#000" stroke-width="3.0"/>
<path d="M680.0,953.1 V840.8 H712.8 V953.1" fill="none" stroke="#000" stroke-width="3.0"/>
<path d="M582.5,785 V809.2 M572.7,785 h19.6 M572.7,809.2 h19.6" fill="none" stroke="#000" stroke-width="2.5"/>
<path d="M639.3,831 V859.7 M628.8499999999999,831 h20.9 M628.8499999999999,859.7 h20.9" fill="none" stroke="#000" stroke-width="2.5"/>
<path d="M696.3,824.4 V851.8 M686.25,824.4 h20.1 M686.25,851.8 h20.1" fill="none" stroke="#000" stroke-width="2.5"/>
<path d="M469,765.5 V770.5 M459.5,765.5 h19 M459.5,770.5 h19" fill="none" stroke="#000" stroke-width="2.5"/>
<path d="M526,766 V770 M516.5,766 h19 M516.5,770 h19" fill="none" stroke="#000" stroke-width="2.5"/>
<line x1="585.3" y1="753.5" x2="646.1" y2="753.5" stroke="#000" stroke-width="1.6" />
<text x="615.7" y="755.7" font-size="20" text-anchor="middle" font-weight="normal" fill="#111" >*</text>
</svg></body></html>
